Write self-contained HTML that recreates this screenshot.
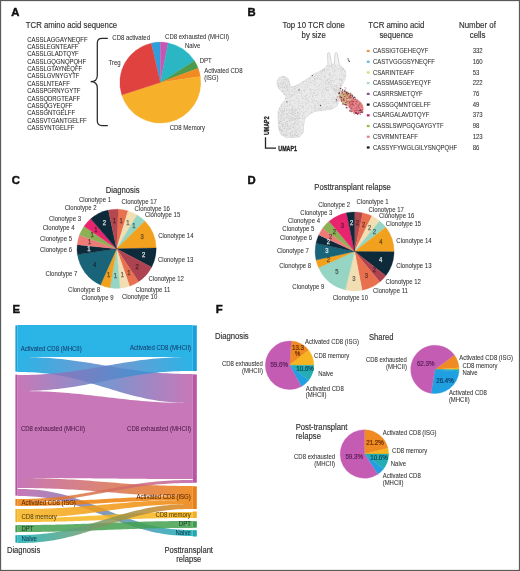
<!DOCTYPE html>
<html><head><meta charset="utf-8"><style>
html,body{margin:0;padding:0;background:#fff;}
body{width:520px;height:571px;overflow:hidden;}
svg{display:block;font-family:"Liberation Sans", sans-serif;}
svg{will-change:transform;}
</style></head><body>
<svg width="520" height="571" viewBox="0 0 520 571">
<rect width="520" height="571" fill="#fff"/>
<rect x="0.55" y="0.55" width="518.9" height="569.9" fill="none" stroke="#5a5a5a" stroke-width="1.15"/>
<text x="11.3" y="15.8" font-size="11.3" fill="#111" stroke="#111" stroke-width="0.45" font-weight="bold">A</text>
<text x="247.6" y="16.2" font-size="11.3" fill="#111" stroke="#111" stroke-width="0.45" font-weight="bold">B</text>
<text x="11.8" y="183.9" font-size="11.3" fill="#111" stroke="#111" stroke-width="0.45" font-weight="bold">C</text>
<text x="247.4" y="183.6" font-size="11.3" fill="#111" stroke="#111" stroke-width="0.45" font-weight="bold">D</text>
<text x="12.6" y="312.7" font-size="11.3" fill="#111" stroke="#111" stroke-width="0.45" font-weight="bold">E</text>
<text x="215.8" y="312.5" font-size="11.3" fill="#111" stroke="#111" stroke-width="0.45" font-weight="bold">F</text>
<text x="25.80" y="27.50" font-size="8.29" text-anchor="start" fill="#333" stroke="#333" stroke-width="0.16" textLength="91.32" lengthAdjust="spacingAndGlyphs" >TCR amino acid sequence</text>
<text x="27.20" y="41.60" font-size="6.37" text-anchor="start" fill="#2a2a2a" stroke="#2a2a2a" stroke-width="0.06" textLength="60.40" lengthAdjust="spacingAndGlyphs" >CASSLAGGAYNEQFF</text>
<text x="27.20" y="48.97" font-size="6.37" text-anchor="start" fill="#2a2a2a" stroke="#2a2a2a" stroke-width="0.06" textLength="51.25" lengthAdjust="spacingAndGlyphs" >CASSLEGNTEAFF</text>
<text x="27.20" y="56.34" font-size="6.37" text-anchor="start" fill="#2a2a2a" stroke="#2a2a2a" stroke-width="0.06" textLength="51.58" lengthAdjust="spacingAndGlyphs" >CASSLGLADTQYF</text>
<text x="27.20" y="63.71" font-size="6.37" text-anchor="start" fill="#2a2a2a" stroke="#2a2a2a" stroke-width="0.06" textLength="58.85" lengthAdjust="spacingAndGlyphs" >CASSLGQGNQPQHF</text>
<text x="27.20" y="71.08" font-size="6.37" text-anchor="start" fill="#2a2a2a" stroke="#2a2a2a" stroke-width="0.06" textLength="54.99" lengthAdjust="spacingAndGlyphs" >CASSLGTAYNEQFF</text>
<text x="27.20" y="78.45" font-size="6.37" text-anchor="start" fill="#2a2a2a" stroke="#2a2a2a" stroke-width="0.06" textLength="52.24" lengthAdjust="spacingAndGlyphs" >CASSLGVNYGYTF</text>
<text x="27.20" y="85.82" font-size="6.37" text-anchor="start" fill="#2a2a2a" stroke="#2a2a2a" stroke-width="0.06" textLength="42.65" lengthAdjust="spacingAndGlyphs" >CASSLNTEAFF</text>
<text x="27.20" y="93.19" font-size="6.37" text-anchor="start" fill="#2a2a2a" stroke="#2a2a2a" stroke-width="0.06" textLength="53.23" lengthAdjust="spacingAndGlyphs" >CASSPGRNYGYTF</text>
<text x="27.20" y="100.56" font-size="6.37" text-anchor="start" fill="#2a2a2a" stroke="#2a2a2a" stroke-width="0.06" textLength="52.89" lengthAdjust="spacingAndGlyphs" >CASSQDRGTEAFF</text>
<text x="27.20" y="107.93" font-size="6.37" text-anchor="start" fill="#2a2a2a" stroke="#2a2a2a" stroke-width="0.06" textLength="45.29" lengthAdjust="spacingAndGlyphs" >CASSQGYEQFF</text>
<text x="27.20" y="115.30" font-size="6.37" text-anchor="start" fill="#2a2a2a" stroke="#2a2a2a" stroke-width="0.06" textLength="47.94" lengthAdjust="spacingAndGlyphs" >CASSGNTGELFF</text>
<text x="27.20" y="122.67" font-size="6.37" text-anchor="start" fill="#2a2a2a" stroke="#2a2a2a" stroke-width="0.06" textLength="59.51" lengthAdjust="spacingAndGlyphs" >CASSVTGANTGELFF</text>
<text x="27.20" y="130.04" font-size="6.37" text-anchor="start" fill="#2a2a2a" stroke="#2a2a2a" stroke-width="0.06" textLength="47.28" lengthAdjust="spacingAndGlyphs" >CASSYNTGELFF</text>
<path d="M107.8,38.4 L102,38.4 Q97.3,38.4 97.3,43.2 L97.3,75.5 Q97.3,81.7 90.6,81.7 Q97.3,81.7 97.3,87.9 L97.3,120.8 Q97.3,125.6 102,125.6 L107.8,125.6" fill="none" stroke="#2a2a2a" stroke-width="1.25"/>
<path d="M160.30,82.60L151.19,43.14A40.5,40.5 0 0 1 160.30,42.10Z" fill="#2f9fdc" stroke="#2f9fdc" stroke-width="0.3"/>
<path d="M160.30,82.60L160.30,42.10A40.5,40.5 0 0 1 168.24,42.89Z" fill="#c456b4" stroke="#c456b4" stroke-width="0.3"/>
<path d="M160.30,82.60L168.24,42.89A40.5,40.5 0 0 1 194.46,60.84Z" fill="#2ab7c3" stroke="#2ab7c3" stroke-width="0.3"/>
<path d="M160.30,82.60L194.46,60.84A40.5,40.5 0 0 1 198.21,68.35Z" fill="#4f9b4c" stroke="#4f9b4c" stroke-width="0.3"/>
<path d="M160.30,82.60L198.21,68.35A40.5,40.5 0 0 1 200.33,76.47Z" fill="#f28a22" stroke="#f28a22" stroke-width="0.3"/>
<path d="M160.30,82.60L200.33,76.47A40.5,40.5 0 0 1 121.74,94.98Z" fill="#f7b02a" stroke="#f7b02a" stroke-width="0.3"/>
<path d="M160.30,82.60L121.74,94.98A40.5,40.5 0 0 1 151.19,43.14Z" fill="#e0433f" stroke="#e0433f" stroke-width="0.3"/>
<text x="112.30" y="39.60" font-size="6.42" text-anchor="start" fill="#333" stroke="#333" stroke-width="0.06" textLength="37.68" lengthAdjust="spacingAndGlyphs" >CD8 activated</text>
<text x="165.10" y="38.80" font-size="6.42" text-anchor="start" fill="#333" stroke="#333" stroke-width="0.06" textLength="64.02" lengthAdjust="spacingAndGlyphs" >CD8 exhausted (MHCII)</text>
<text x="184.90" y="48.00" font-size="6.42" text-anchor="start" fill="#333" stroke="#333" stroke-width="0.06" textLength="15.34" lengthAdjust="spacingAndGlyphs" >Naive</text>
<text x="199.70" y="63.00" font-size="6.42" text-anchor="start" fill="#333" stroke="#333" stroke-width="0.06" textLength="12.00" lengthAdjust="spacingAndGlyphs" >DPT</text>
<text x="204.20" y="72.60" font-size="6.42" text-anchor="start" fill="#333" stroke="#333" stroke-width="0.06" textLength="38.35" lengthAdjust="spacingAndGlyphs" >Activated CD8</text>
<text x="204.20" y="80.30" font-size="6.42" text-anchor="start" fill="#333" stroke="#333" stroke-width="0.06" textLength="14.33" lengthAdjust="spacingAndGlyphs" >(ISG)</text>
<text x="108.50" y="65.30" font-size="6.42" text-anchor="start" fill="#333" stroke="#333" stroke-width="0.06" textLength="12.11" lengthAdjust="spacingAndGlyphs" >Treg</text>
<text x="205.00" y="130.00" font-size="6.42" text-anchor="end" fill="#333" stroke="#333" stroke-width="0.06" textLength="35.34" lengthAdjust="spacingAndGlyphs" >CD8 Memory</text>
<text x="313.70" y="28.00" font-size="8.35" text-anchor="middle" fill="#333" stroke="#333" stroke-width="0.16" textLength="62.29" lengthAdjust="spacingAndGlyphs" >Top 10 TCR clone</text>
<text x="313.70" y="37.60" font-size="8.35" text-anchor="middle" fill="#333" stroke="#333" stroke-width="0.16" textLength="24.28" lengthAdjust="spacingAndGlyphs" >by size</text>
<text x="396.30" y="27.80" font-size="8.35" text-anchor="middle" fill="#333" stroke="#333" stroke-width="0.16" textLength="55.92" lengthAdjust="spacingAndGlyphs" >TCR amino acid</text>
<text x="396.30" y="37.70" font-size="8.35" text-anchor="middle" fill="#333" stroke="#333" stroke-width="0.16" textLength="33.83" lengthAdjust="spacingAndGlyphs" >sequence</text>
<text x="477.40" y="27.70" font-size="8.45" text-anchor="middle" fill="#333" stroke="#333" stroke-width="0.16" textLength="36.88" lengthAdjust="spacingAndGlyphs" >Number of</text>
<text x="477.60" y="37.60" font-size="8.45" text-anchor="middle" fill="#333" stroke="#333" stroke-width="0.16" textLength="15.80" lengthAdjust="spacingAndGlyphs" >cells</text>
<rect x="366.8" y="49.90" width="2.8" height="2.2" fill="#e8944a"/>
<text x="373.00" y="53.10" font-size="6.39" text-anchor="start" fill="#333" stroke="#333" stroke-width="0.06" textLength="55.40" lengthAdjust="spacingAndGlyphs" >CASSIGTGEHEQYF</text>
<text x="472.70" y="53.10" font-size="6.42" text-anchor="start" fill="#333" stroke="#333" stroke-width="0.06" textLength="10.01" lengthAdjust="spacingAndGlyphs" >332</text>
<rect x="366.8" y="60.62" width="2.8" height="2.2" fill="#5fb8e0"/>
<text x="373.00" y="63.82" font-size="6.39" text-anchor="start" fill="#333" stroke="#333" stroke-width="0.06" textLength="62.03" lengthAdjust="spacingAndGlyphs" >CASTVGGGSYNEQFF</text>
<text x="472.70" y="63.82" font-size="6.42" text-anchor="start" fill="#333" stroke="#333" stroke-width="0.06" textLength="10.01" lengthAdjust="spacingAndGlyphs" >160</text>
<rect x="366.8" y="71.34" width="2.8" height="2.2" fill="#d8d870"/>
<text x="373.00" y="74.54" font-size="6.39" text-anchor="start" fill="#333" stroke="#333" stroke-width="0.06" textLength="41.46" lengthAdjust="spacingAndGlyphs" >CSARINTEAFF</text>
<text x="472.70" y="74.54" font-size="6.42" text-anchor="start" fill="#333" stroke="#333" stroke-width="0.06" textLength="6.67" lengthAdjust="spacingAndGlyphs" >53</text>
<rect x="366.8" y="82.06" width="2.8" height="2.2" fill="#a8d8d0"/>
<text x="373.00" y="85.26" font-size="6.39" text-anchor="start" fill="#333" stroke="#333" stroke-width="0.06" textLength="58.06" lengthAdjust="spacingAndGlyphs" >CASSMASGEYEQYF</text>
<text x="472.70" y="85.26" font-size="6.42" text-anchor="start" fill="#333" stroke="#333" stroke-width="0.06" textLength="10.01" lengthAdjust="spacingAndGlyphs" >222</text>
<rect x="366.8" y="92.78" width="2.8" height="2.2" fill="#8050a0"/>
<text x="373.00" y="95.98" font-size="6.39" text-anchor="start" fill="#333" stroke="#333" stroke-width="0.06" textLength="49.75" lengthAdjust="spacingAndGlyphs" >CASRRSMETQYF</text>
<text x="472.70" y="95.98" font-size="6.42" text-anchor="start" fill="#333" stroke="#333" stroke-width="0.06" textLength="6.67" lengthAdjust="spacingAndGlyphs" >76</text>
<rect x="366.8" y="103.50" width="2.8" height="2.2" fill="#111111"/>
<text x="373.00" y="106.70" font-size="6.39" text-anchor="start" fill="#333" stroke="#333" stroke-width="0.06" textLength="57.72" lengthAdjust="spacingAndGlyphs" >CASSGQMNTGELFF</text>
<text x="472.70" y="106.70" font-size="6.42" text-anchor="start" fill="#333" stroke="#333" stroke-width="0.06" textLength="6.67" lengthAdjust="spacingAndGlyphs" >49</text>
<rect x="366.8" y="114.22" width="2.8" height="2.2" fill="#c02070"/>
<text x="373.00" y="117.42" font-size="6.39" text-anchor="start" fill="#333" stroke="#333" stroke-width="0.06" textLength="56.28" lengthAdjust="spacingAndGlyphs" >CSARGALAVDTQYF</text>
<text x="472.70" y="117.42" font-size="6.42" text-anchor="start" fill="#333" stroke="#333" stroke-width="0.06" textLength="10.01" lengthAdjust="spacingAndGlyphs" >373</text>
<rect x="366.8" y="124.94" width="2.8" height="2.2" fill="#90c040"/>
<text x="373.00" y="128.14" font-size="6.39" text-anchor="start" fill="#333" stroke="#333" stroke-width="0.06" textLength="70.55" lengthAdjust="spacingAndGlyphs" >CASSLSWPGQGAYGYTF</text>
<text x="472.70" y="128.14" font-size="6.42" text-anchor="start" fill="#333" stroke="#333" stroke-width="0.06" textLength="6.67" lengthAdjust="spacingAndGlyphs" >98</text>
<rect x="366.8" y="135.66" width="2.8" height="2.2" fill="#e08080"/>
<text x="373.00" y="138.86" font-size="6.39" text-anchor="start" fill="#333" stroke="#333" stroke-width="0.06" textLength="44.78" lengthAdjust="spacingAndGlyphs" >CSVRMNTEAFF</text>
<text x="472.70" y="138.86" font-size="6.42" text-anchor="start" fill="#333" stroke="#333" stroke-width="0.06" textLength="10.01" lengthAdjust="spacingAndGlyphs" >123</text>
<rect x="366.8" y="146.38" width="2.8" height="2.2" fill="#151515"/>
<text x="373.00" y="149.58" font-size="6.39" text-anchor="start" fill="#333" stroke="#333" stroke-width="0.06" textLength="84.15" lengthAdjust="spacingAndGlyphs" >CASSYFYWGLGILYSNQPQHF</text>
<text x="472.70" y="149.58" font-size="6.42" text-anchor="start" fill="#333" stroke="#333" stroke-width="0.06" textLength="6.67" lengthAdjust="spacingAndGlyphs" >86</text>
<path d="M277.3,80.5 L279.3,77.3 L283.7,76.2 L287.8,78.2 L289.3,82 L290.5,86.8 L295,86.2 L299.2,84 L304,81.2 L308,78.5 L313.6,74.2 L319.5,71.5 L324.5,68.5 L327.8,64.8 L331.5,64.2 L335,64.2 L338.8,64.6 L342.5,67.2 L345.2,70.5 L346,75 L344.5,80.5 L342.4,84.4 L340.6,88.5 L339.5,95.3 L338.8,101.5 L336.8,106.3 L331,109.2 L321.3,110.6 L314.5,111.5 L308.8,114.8 L304.8,119 L303.6,125 L303.3,132.5 L299.5,136.8 L292,137.6 L286,137.4 L281,134.5 L278.8,128.6 L278.1,119 L278.2,111 L281.5,104.2 L285.5,99.5 L286.3,95.8 L283.5,93.8 L279.5,89.5 L277.2,85Z" fill="#ebebeb" stroke="#e2e2e2" stroke-width="1" stroke-linejoin="round"/>
<path d="M328,65 L327.6,53.2 Q328.6,51.8 329.6,53 L331.6,64.5 M334.4,64.5 L335,53.4 Q336.2,52 337.2,53.4 L339.4,65" fill="#f3f3f3" stroke="#cfcfcf" stroke-width="0.9"/>
<g opacity="0.62"><circle cx="315.1" cy="82.8" r="0.42" fill="rgb(214,214,214)"/><circle cx="322.0" cy="101.7" r="0.42" fill="rgb(200,200,200)"/><circle cx="316.9" cy="110.3" r="0.42" fill="rgb(174,174,174)"/><circle cx="303.2" cy="98.7" r="0.42" fill="rgb(157,157,157)"/><circle cx="289.1" cy="118.8" r="0.42" fill="rgb(188,188,188)"/><circle cx="284.6" cy="87.4" r="0.42" fill="rgb(169,169,169)"/><circle cx="335.7" cy="80.6" r="0.42" fill="rgb(213,213,213)"/><circle cx="336.0" cy="75.8" r="0.42" fill="rgb(194,194,194)"/><circle cx="280.3" cy="117.8" r="0.42" fill="rgb(181,181,181)"/><circle cx="286.0" cy="88.5" r="0.42" fill="rgb(203,203,203)"/><circle cx="336.7" cy="66.9" r="0.42" fill="rgb(168,168,168)"/><circle cx="279.9" cy="129.3" r="0.42" fill="rgb(200,200,200)"/><circle cx="305.1" cy="85.3" r="0.42" fill="rgb(201,201,201)"/><circle cx="283.4" cy="82.6" r="0.42" fill="rgb(176,176,176)"/><circle cx="310.0" cy="93.1" r="0.42" fill="rgb(163,163,163)"/><circle cx="291.0" cy="133.8" r="0.42" fill="rgb(153,153,153)"/><circle cx="282.6" cy="124.6" r="0.42" fill="rgb(171,171,171)"/><circle cx="331.4" cy="68.0" r="0.42" fill="rgb(201,201,201)"/><circle cx="330.0" cy="70.7" r="0.42" fill="rgb(195,195,195)"/><circle cx="333.7" cy="92.1" r="0.42" fill="rgb(194,194,194)"/><circle cx="328.9" cy="65.8" r="0.42" fill="rgb(169,169,169)"/><circle cx="320.6" cy="102.8" r="0.42" fill="rgb(194,194,194)"/><circle cx="287.4" cy="98.7" r="0.42" fill="rgb(163,163,163)"/><circle cx="336.3" cy="69.4" r="0.42" fill="rgb(187,187,187)"/><circle cx="280.4" cy="115.4" r="0.42" fill="rgb(203,203,203)"/><circle cx="280.5" cy="110.4" r="0.42" fill="rgb(211,211,211)"/><circle cx="296.2" cy="118.2" r="0.42" fill="rgb(153,153,153)"/><circle cx="313.4" cy="111.3" r="0.42" fill="rgb(211,211,211)"/><circle cx="341.2" cy="68.6" r="0.42" fill="rgb(203,203,203)"/><circle cx="284.9" cy="89.5" r="0.42" fill="rgb(180,180,180)"/><circle cx="323.0" cy="82.9" r="0.42" fill="rgb(167,167,167)"/><circle cx="336.8" cy="65.0" r="0.42" fill="rgb(215,215,215)"/><circle cx="305.5" cy="87.7" r="0.42" fill="rgb(161,161,161)"/><circle cx="316.4" cy="89.3" r="0.42" fill="rgb(192,192,192)"/><circle cx="284.2" cy="130.9" r="0.42" fill="rgb(163,163,163)"/><circle cx="315.2" cy="95.8" r="0.42" fill="rgb(191,191,191)"/><circle cx="326.2" cy="88.0" r="0.42" fill="rgb(152,152,152)"/><circle cx="282.1" cy="125.5" r="0.42" fill="rgb(165,165,165)"/><circle cx="343.6" cy="74.3" r="0.42" fill="rgb(180,180,180)"/><circle cx="308.5" cy="109.5" r="0.42" fill="rgb(152,152,152)"/><circle cx="286.2" cy="137.1" r="0.42" fill="rgb(166,166,166)"/><circle cx="340.2" cy="88.5" r="0.42" fill="rgb(198,198,198)"/><circle cx="297.4" cy="91.0" r="0.42" fill="rgb(207,207,207)"/><circle cx="340.4" cy="70.0" r="0.42" fill="rgb(192,192,192)"/><circle cx="290.7" cy="94.9" r="0.42" fill="rgb(183,183,183)"/><circle cx="318.8" cy="85.3" r="0.42" fill="rgb(179,179,179)"/><circle cx="282.2" cy="134.3" r="0.42" fill="rgb(169,169,169)"/><circle cx="340.2" cy="84.9" r="0.42" fill="rgb(213,213,213)"/><circle cx="286.9" cy="114.0" r="0.42" fill="rgb(155,155,155)"/><circle cx="303.5" cy="90.3" r="0.42" fill="rgb(152,152,152)"/><circle cx="321.7" cy="110.2" r="0.42" fill="rgb(150,150,150)"/><circle cx="292.8" cy="107.5" r="0.42" fill="rgb(198,198,198)"/><circle cx="281.6" cy="130.2" r="0.42" fill="rgb(155,155,155)"/><circle cx="321.0" cy="106.9" r="0.42" fill="rgb(168,168,168)"/><circle cx="311.7" cy="112.7" r="0.42" fill="rgb(209,209,209)"/><circle cx="285.7" cy="122.4" r="0.42" fill="rgb(164,164,164)"/><circle cx="286.3" cy="80.9" r="0.42" fill="rgb(192,192,192)"/><circle cx="341.8" cy="76.2" r="0.42" fill="rgb(200,200,200)"/><circle cx="281.6" cy="131.5" r="0.42" fill="rgb(156,156,156)"/><circle cx="324.3" cy="106.2" r="0.42" fill="rgb(184,184,184)"/><circle cx="281.9" cy="132.2" r="0.42" fill="rgb(167,167,167)"/><circle cx="323.0" cy="75.9" r="0.42" fill="rgb(166,166,166)"/><circle cx="288.5" cy="87.1" r="0.42" fill="rgb(182,182,182)"/><circle cx="295.0" cy="108.1" r="0.42" fill="rgb(200,200,200)"/><circle cx="284.7" cy="107.0" r="0.42" fill="rgb(214,214,214)"/><circle cx="292.1" cy="129.8" r="0.42" fill="rgb(207,207,207)"/><circle cx="307.2" cy="98.7" r="0.42" fill="rgb(172,172,172)"/><circle cx="330.7" cy="86.9" r="0.42" fill="rgb(176,176,176)"/><circle cx="310.5" cy="102.1" r="0.42" fill="rgb(200,200,200)"/><circle cx="314.5" cy="91.7" r="0.42" fill="rgb(163,163,163)"/><circle cx="282.2" cy="118.6" r="0.42" fill="rgb(166,166,166)"/><circle cx="293.0" cy="131.0" r="0.42" fill="rgb(188,188,188)"/><circle cx="283.3" cy="77.1" r="0.42" fill="rgb(174,174,174)"/><circle cx="294.0" cy="134.6" r="0.42" fill="rgb(189,189,189)"/><circle cx="307.0" cy="83.2" r="0.42" fill="rgb(193,193,193)"/><circle cx="328.4" cy="82.5" r="0.42" fill="rgb(150,150,150)"/><circle cx="335.9" cy="71.1" r="0.42" fill="rgb(187,187,187)"/><circle cx="289.4" cy="90.1" r="0.42" fill="rgb(190,190,190)"/><circle cx="344.0" cy="79.6" r="0.42" fill="rgb(209,209,209)"/><circle cx="303.6" cy="83.5" r="0.42" fill="rgb(171,171,171)"/><circle cx="281.9" cy="87.6" r="0.42" fill="rgb(176,176,176)"/><circle cx="303.7" cy="117.9" r="0.42" fill="rgb(205,205,205)"/><circle cx="282.4" cy="112.4" r="0.42" fill="rgb(207,207,207)"/><circle cx="341.6" cy="80.5" r="0.42" fill="rgb(155,155,155)"/><circle cx="295.1" cy="113.3" r="0.42" fill="rgb(185,185,185)"/><circle cx="297.7" cy="113.8" r="0.42" fill="rgb(158,158,158)"/><circle cx="294.3" cy="88.4" r="0.42" fill="rgb(213,213,213)"/><circle cx="289.4" cy="120.8" r="0.42" fill="rgb(169,169,169)"/><circle cx="320.3" cy="79.5" r="0.42" fill="rgb(196,196,196)"/><circle cx="305.8" cy="107.5" r="0.42" fill="rgb(191,191,191)"/><circle cx="287.7" cy="88.1" r="0.42" fill="rgb(159,159,159)"/><circle cx="327.8" cy="89.9" r="0.42" fill="rgb(203,203,203)"/><circle cx="295.0" cy="89.2" r="0.42" fill="rgb(180,180,180)"/><circle cx="287.2" cy="127.9" r="0.42" fill="rgb(191,191,191)"/><circle cx="283.3" cy="91.4" r="0.42" fill="rgb(150,150,150)"/><circle cx="339.2" cy="90.1" r="0.42" fill="rgb(150,150,150)"/><circle cx="299.9" cy="110.0" r="0.42" fill="rgb(189,189,189)"/><circle cx="312.2" cy="93.1" r="0.42" fill="rgb(200,200,200)"/><circle cx="315.0" cy="107.8" r="0.42" fill="rgb(184,184,184)"/><circle cx="298.5" cy="133.9" r="0.42" fill="rgb(195,195,195)"/><circle cx="323.0" cy="85.0" r="0.42" fill="rgb(150,150,150)"/><circle cx="286.4" cy="121.2" r="0.42" fill="rgb(197,197,197)"/><circle cx="329.8" cy="65.9" r="0.42" fill="rgb(170,170,170)"/><circle cx="283.9" cy="93.7" r="0.42" fill="rgb(175,175,175)"/><circle cx="298.0" cy="123.8" r="0.42" fill="rgb(211,211,211)"/><circle cx="282.3" cy="113.0" r="0.42" fill="rgb(170,170,170)"/><circle cx="321.3" cy="104.5" r="0.42" fill="rgb(210,210,210)"/><circle cx="305.2" cy="96.1" r="0.42" fill="rgb(165,165,165)"/><circle cx="286.9" cy="135.5" r="0.42" fill="rgb(174,174,174)"/><circle cx="307.1" cy="108.3" r="0.42" fill="rgb(206,206,206)"/><circle cx="312.8" cy="108.2" r="0.42" fill="rgb(166,166,166)"/><circle cx="282.0" cy="114.8" r="0.42" fill="rgb(215,215,215)"/><circle cx="281.8" cy="116.4" r="0.42" fill="rgb(167,167,167)"/><circle cx="320.6" cy="72.9" r="0.42" fill="rgb(185,185,185)"/><circle cx="294.6" cy="134.9" r="0.42" fill="rgb(183,183,183)"/><circle cx="321.0" cy="71.7" r="0.42" fill="rgb(175,175,175)"/><circle cx="314.7" cy="106.4" r="0.42" fill="rgb(207,207,207)"/><circle cx="295.3" cy="137.2" r="0.42" fill="rgb(196,196,196)"/><circle cx="297.6" cy="95.9" r="0.42" fill="rgb(190,190,190)"/><circle cx="321.7" cy="87.3" r="0.42" fill="rgb(156,156,156)"/><circle cx="283.8" cy="82.1" r="0.42" fill="rgb(188,188,188)"/><circle cx="321.5" cy="92.3" r="0.42" fill="rgb(181,181,181)"/><circle cx="327.6" cy="90.2" r="0.42" fill="rgb(168,168,168)"/><circle cx="280.3" cy="118.8" r="0.42" fill="rgb(175,175,175)"/><circle cx="335.4" cy="66.2" r="0.42" fill="rgb(188,188,188)"/><circle cx="281.9" cy="108.0" r="0.42" fill="rgb(163,163,163)"/><circle cx="295.1" cy="107.0" r="0.42" fill="rgb(183,183,183)"/><circle cx="328.0" cy="74.1" r="0.42" fill="rgb(205,205,205)"/><circle cx="288.4" cy="129.7" r="0.42" fill="rgb(175,175,175)"/><circle cx="299.9" cy="127.6" r="0.42" fill="rgb(180,180,180)"/><circle cx="337.4" cy="97.7" r="0.42" fill="rgb(150,150,150)"/><circle cx="317.6" cy="77.8" r="0.42" fill="rgb(159,159,159)"/><circle cx="290.5" cy="134.0" r="0.42" fill="rgb(158,158,158)"/><circle cx="327.9" cy="84.4" r="0.42" fill="rgb(176,176,176)"/><circle cx="322.1" cy="76.0" r="0.42" fill="rgb(162,162,162)"/><circle cx="333.8" cy="107.2" r="0.42" fill="rgb(193,193,193)"/><circle cx="328.3" cy="83.0" r="0.42" fill="rgb(214,214,214)"/><circle cx="283.2" cy="91.8" r="0.42" fill="rgb(177,177,177)"/><circle cx="317.9" cy="76.0" r="0.42" fill="rgb(175,175,175)"/><circle cx="297.0" cy="116.3" r="0.42" fill="rgb(194,194,194)"/><circle cx="289.5" cy="94.0" r="0.42" fill="rgb(215,215,215)"/><circle cx="295.0" cy="133.1" r="0.42" fill="rgb(177,177,177)"/><circle cx="344.5" cy="71.1" r="0.42" fill="rgb(160,160,160)"/><circle cx="307.2" cy="98.4" r="0.42" fill="rgb(179,179,179)"/><circle cx="308.9" cy="99.2" r="0.42" fill="rgb(209,209,209)"/><circle cx="298.0" cy="112.2" r="0.42" fill="rgb(169,169,169)"/><circle cx="328.8" cy="103.5" r="0.42" fill="rgb(180,180,180)"/><circle cx="283.4" cy="134.7" r="0.42" fill="rgb(199,199,199)"/><circle cx="338.4" cy="89.0" r="0.42" fill="rgb(187,187,187)"/><circle cx="322.8" cy="90.5" r="0.42" fill="rgb(162,162,162)"/><circle cx="341.3" cy="72.1" r="0.42" fill="rgb(170,170,170)"/><circle cx="294.3" cy="87.9" r="0.42" fill="rgb(202,202,202)"/><circle cx="341.3" cy="79.5" r="0.42" fill="rgb(212,212,212)"/><circle cx="337.8" cy="90.7" r="0.42" fill="rgb(210,210,210)"/><circle cx="291.3" cy="110.5" r="0.42" fill="rgb(165,165,165)"/><circle cx="325.3" cy="101.5" r="0.42" fill="rgb(188,188,188)"/><circle cx="334.5" cy="85.1" r="0.42" fill="rgb(166,166,166)"/><circle cx="286.7" cy="108.9" r="0.42" fill="rgb(202,202,202)"/><circle cx="294.5" cy="88.1" r="0.42" fill="rgb(150,150,150)"/><circle cx="302.1" cy="107.9" r="0.42" fill="rgb(212,212,212)"/><circle cx="280.2" cy="123.0" r="0.42" fill="rgb(167,167,167)"/><circle cx="324.0" cy="69.2" r="0.42" fill="rgb(187,187,187)"/><circle cx="332.7" cy="81.1" r="0.42" fill="rgb(201,201,201)"/><circle cx="290.4" cy="111.3" r="0.42" fill="rgb(206,206,206)"/><circle cx="284.6" cy="87.5" r="0.42" fill="rgb(210,210,210)"/><circle cx="278.5" cy="113.5" r="0.42" fill="rgb(193,193,193)"/><circle cx="282.9" cy="108.3" r="0.42" fill="rgb(176,176,176)"/><circle cx="339.7" cy="81.0" r="0.42" fill="rgb(213,213,213)"/><circle cx="333.8" cy="79.8" r="0.42" fill="rgb(188,188,188)"/><circle cx="285.3" cy="135.6" r="0.42" fill="rgb(155,155,155)"/><circle cx="305.1" cy="99.2" r="0.42" fill="rgb(156,156,156)"/><circle cx="279.4" cy="122.5" r="0.42" fill="rgb(157,157,157)"/><circle cx="291.5" cy="109.0" r="0.42" fill="rgb(172,172,172)"/><circle cx="278.7" cy="118.4" r="0.42" fill="rgb(151,151,151)"/><circle cx="317.0" cy="73.4" r="0.42" fill="rgb(203,203,203)"/><circle cx="332.2" cy="98.7" r="0.42" fill="rgb(210,210,210)"/><circle cx="293.7" cy="114.8" r="0.42" fill="rgb(156,156,156)"/><circle cx="286.6" cy="117.1" r="0.42" fill="rgb(213,213,213)"/><circle cx="294.5" cy="134.9" r="0.42" fill="rgb(151,151,151)"/><circle cx="280.4" cy="127.8" r="0.42" fill="rgb(160,160,160)"/><circle cx="336.9" cy="104.0" r="0.42" fill="rgb(206,206,206)"/><circle cx="331.1" cy="80.0" r="0.42" fill="rgb(192,192,192)"/><circle cx="303.5" cy="118.1" r="0.42" fill="rgb(207,207,207)"/><circle cx="279.1" cy="123.5" r="0.42" fill="rgb(168,168,168)"/><circle cx="296.0" cy="125.1" r="0.42" fill="rgb(213,213,213)"/><circle cx="290.6" cy="116.3" r="0.42" fill="rgb(179,179,179)"/><circle cx="305.1" cy="96.3" r="0.42" fill="rgb(191,191,191)"/><circle cx="310.8" cy="102.3" r="0.42" fill="rgb(174,174,174)"/><circle cx="282.7" cy="121.1" r="0.42" fill="rgb(195,195,195)"/><circle cx="305.4" cy="96.0" r="0.42" fill="rgb(155,155,155)"/><circle cx="339.2" cy="83.3" r="0.42" fill="rgb(160,160,160)"/><circle cx="287.4" cy="103.0" r="0.42" fill="rgb(152,152,152)"/><circle cx="343.6" cy="75.3" r="0.42" fill="rgb(207,207,207)"/><circle cx="319.7" cy="85.6" r="0.42" fill="rgb(161,161,161)"/><circle cx="304.7" cy="90.0" r="0.42" fill="rgb(180,180,180)"/><circle cx="325.4" cy="77.0" r="0.42" fill="rgb(163,163,163)"/><circle cx="310.4" cy="83.3" r="0.42" fill="rgb(197,197,197)"/><circle cx="328.4" cy="68.0" r="0.42" fill="rgb(178,178,178)"/><circle cx="281.7" cy="104.8" r="0.42" fill="rgb(167,167,167)"/><circle cx="329.7" cy="66.7" r="0.42" fill="rgb(168,168,168)"/><circle cx="297.6" cy="121.0" r="0.42" fill="rgb(163,163,163)"/><circle cx="299.2" cy="129.6" r="0.42" fill="rgb(215,215,215)"/><circle cx="280.2" cy="128.9" r="0.42" fill="rgb(177,177,177)"/><circle cx="284.7" cy="116.7" r="0.42" fill="rgb(205,205,205)"/><circle cx="297.1" cy="129.0" r="0.42" fill="rgb(187,187,187)"/><circle cx="286.5" cy="106.7" r="0.42" fill="rgb(214,214,214)"/><circle cx="291.9" cy="100.7" r="0.42" fill="rgb(173,173,173)"/><circle cx="331.6" cy="66.3" r="0.42" fill="rgb(174,174,174)"/><circle cx="280.8" cy="114.7" r="0.42" fill="rgb(157,157,157)"/><circle cx="313.8" cy="81.2" r="0.42" fill="rgb(213,213,213)"/><circle cx="282.6" cy="86.6" r="0.42" fill="rgb(167,167,167)"/><circle cx="339.7" cy="74.2" r="0.42" fill="rgb(196,196,196)"/><circle cx="278.7" cy="112.1" r="0.42" fill="rgb(150,150,150)"/><circle cx="281.2" cy="82.0" r="0.42" fill="rgb(191,191,191)"/><circle cx="329.4" cy="89.8" r="0.42" fill="rgb(167,167,167)"/><circle cx="283.0" cy="111.8" r="0.42" fill="rgb(152,152,152)"/><circle cx="308.4" cy="81.5" r="0.42" fill="rgb(172,172,172)"/><circle cx="312.0" cy="94.6" r="0.42" fill="rgb(165,165,165)"/><circle cx="284.9" cy="127.9" r="0.42" fill="rgb(179,179,179)"/><circle cx="288.0" cy="122.9" r="0.42" fill="rgb(199,199,199)"/><circle cx="279.8" cy="82.6" r="0.42" fill="rgb(192,192,192)"/><circle cx="324.8" cy="70.6" r="0.42" fill="rgb(200,200,200)"/><circle cx="295.4" cy="110.0" r="0.42" fill="rgb(154,154,154)"/><circle cx="313.5" cy="74.4" r="0.42" fill="rgb(168,168,168)"/><circle cx="296.0" cy="115.0" r="0.42" fill="rgb(186,186,186)"/><circle cx="320.7" cy="91.8" r="0.42" fill="rgb(181,181,181)"/><circle cx="287.8" cy="133.8" r="0.42" fill="rgb(191,191,191)"/><circle cx="297.6" cy="118.2" r="0.42" fill="rgb(158,158,158)"/><circle cx="290.8" cy="104.1" r="0.42" fill="rgb(162,162,162)"/><circle cx="285.3" cy="126.8" r="0.42" fill="rgb(165,165,165)"/><circle cx="303.7" cy="90.3" r="0.42" fill="rgb(195,195,195)"/><circle cx="312.5" cy="89.6" r="0.42" fill="rgb(188,188,188)"/><circle cx="334.6" cy="88.9" r="0.42" fill="rgb(179,179,179)"/><circle cx="282.4" cy="131.1" r="0.42" fill="rgb(181,181,181)"/><circle cx="340.8" cy="87.6" r="0.42" fill="rgb(187,187,187)"/><circle cx="288.8" cy="117.9" r="0.42" fill="rgb(215,215,215)"/><circle cx="287.4" cy="117.1" r="0.42" fill="rgb(162,162,162)"/><circle cx="281.6" cy="133.5" r="0.42" fill="rgb(209,209,209)"/><circle cx="301.5" cy="90.1" r="0.42" fill="rgb(156,156,156)"/><circle cx="309.2" cy="87.4" r="0.42" fill="rgb(213,213,213)"/><circle cx="340.4" cy="85.5" r="0.42" fill="rgb(192,192,192)"/><circle cx="315.0" cy="84.5" r="0.42" fill="rgb(158,158,158)"/><circle cx="304.3" cy="91.6" r="0.42" fill="rgb(205,205,205)"/><circle cx="295.7" cy="123.6" r="0.42" fill="rgb(206,206,206)"/><circle cx="321.9" cy="101.5" r="0.42" fill="rgb(210,210,210)"/><circle cx="318.9" cy="83.0" r="0.42" fill="rgb(215,215,215)"/><circle cx="291.5" cy="126.9" r="0.42" fill="rgb(215,215,215)"/><circle cx="282.7" cy="125.1" r="0.42" fill="rgb(199,199,199)"/><circle cx="332.7" cy="71.1" r="0.42" fill="rgb(163,163,163)"/><circle cx="281.0" cy="130.5" r="0.42" fill="rgb(188,188,188)"/><circle cx="290.1" cy="113.5" r="0.42" fill="rgb(186,186,186)"/><circle cx="285.2" cy="113.4" r="0.42" fill="rgb(201,201,201)"/><circle cx="283.1" cy="76.4" r="0.42" fill="rgb(178,178,178)"/><circle cx="298.7" cy="106.5" r="0.42" fill="rgb(179,179,179)"/><circle cx="284.1" cy="119.9" r="0.42" fill="rgb(194,194,194)"/><circle cx="336.5" cy="75.5" r="0.42" fill="rgb(204,204,204)"/><circle cx="291.0" cy="109.6" r="0.42" fill="rgb(166,166,166)"/><circle cx="287.9" cy="118.9" r="0.42" fill="rgb(183,183,183)"/><circle cx="302.1" cy="86.8" r="0.42" fill="rgb(189,189,189)"/><circle cx="286.0" cy="110.7" r="0.42" fill="rgb(211,211,211)"/><circle cx="288.4" cy="109.0" r="0.42" fill="rgb(209,209,209)"/><circle cx="337.3" cy="86.3" r="0.42" fill="rgb(187,187,187)"/><circle cx="279.2" cy="128.9" r="0.42" fill="rgb(164,164,164)"/><circle cx="327.2" cy="90.0" r="0.42" fill="rgb(191,191,191)"/><circle cx="308.5" cy="100.5" r="0.42" fill="rgb(159,159,159)"/><circle cx="327.1" cy="107.8" r="0.42" fill="rgb(153,153,153)"/><circle cx="277.8" cy="85.4" r="0.42" fill="rgb(197,197,197)"/><circle cx="330.2" cy="79.4" r="0.42" fill="rgb(195,195,195)"/><circle cx="297.9" cy="101.6" r="0.42" fill="rgb(179,179,179)"/><circle cx="287.9" cy="89.6" r="0.42" fill="rgb(161,161,161)"/><circle cx="328.9" cy="84.0" r="0.42" fill="rgb(194,194,194)"/><circle cx="305.3" cy="104.0" r="0.42" fill="rgb(157,157,157)"/><circle cx="317.2" cy="87.6" r="0.42" fill="rgb(167,167,167)"/><circle cx="289.8" cy="110.0" r="0.42" fill="rgb(160,160,160)"/><circle cx="293.5" cy="89.4" r="0.42" fill="rgb(179,179,179)"/><circle cx="289.2" cy="128.4" r="0.42" fill="rgb(164,164,164)"/><circle cx="292.2" cy="123.8" r="0.42" fill="rgb(174,174,174)"/><circle cx="311.7" cy="99.2" r="0.42" fill="rgb(164,164,164)"/><circle cx="285.8" cy="94.8" r="0.42" fill="rgb(164,164,164)"/><circle cx="290.0" cy="92.3" r="0.42" fill="rgb(197,197,197)"/><circle cx="284.2" cy="131.5" r="0.42" fill="rgb(182,182,182)"/><circle cx="301.9" cy="111.4" r="0.42" fill="rgb(206,206,206)"/><circle cx="284.1" cy="120.7" r="0.42" fill="rgb(187,187,187)"/><circle cx="337.0" cy="102.2" r="0.42" fill="rgb(184,184,184)"/><circle cx="289.3" cy="122.2" r="0.42" fill="rgb(200,200,200)"/><circle cx="326.6" cy="90.0" r="0.42" fill="rgb(159,159,159)"/><circle cx="302.3" cy="97.0" r="0.42" fill="rgb(166,166,166)"/><circle cx="288.4" cy="82.4" r="0.42" fill="rgb(209,209,209)"/><circle cx="304.3" cy="81.8" r="0.42" fill="rgb(211,211,211)"/><circle cx="325.0" cy="74.7" r="0.42" fill="rgb(214,214,214)"/><circle cx="317.9" cy="101.8" r="0.42" fill="rgb(154,154,154)"/><circle cx="307.1" cy="100.7" r="0.42" fill="rgb(186,186,186)"/><circle cx="302.5" cy="125.2" r="0.42" fill="rgb(201,201,201)"/><circle cx="286.5" cy="113.6" r="0.42" fill="rgb(193,193,193)"/><circle cx="331.4" cy="105.5" r="0.42" fill="rgb(152,152,152)"/><circle cx="330.7" cy="107.5" r="0.42" fill="rgb(193,193,193)"/><circle cx="288.7" cy="126.1" r="0.42" fill="rgb(161,161,161)"/><circle cx="321.7" cy="80.1" r="0.42" fill="rgb(201,201,201)"/><circle cx="294.8" cy="91.3" r="0.42" fill="rgb(190,190,190)"/><circle cx="328.9" cy="79.6" r="0.42" fill="rgb(169,169,169)"/><circle cx="302.1" cy="82.5" r="0.42" fill="rgb(169,169,169)"/><circle cx="324.0" cy="103.3" r="0.42" fill="rgb(183,183,183)"/><circle cx="335.4" cy="92.5" r="0.42" fill="rgb(189,189,189)"/><circle cx="287.0" cy="105.7" r="0.42" fill="rgb(161,161,161)"/><circle cx="291.0" cy="118.6" r="0.42" fill="rgb(196,196,196)"/><circle cx="332.9" cy="97.0" r="0.42" fill="rgb(181,181,181)"/><circle cx="291.6" cy="130.4" r="0.42" fill="rgb(199,199,199)"/><circle cx="283.9" cy="114.8" r="0.42" fill="rgb(201,201,201)"/><circle cx="325.2" cy="81.5" r="0.42" fill="rgb(198,198,198)"/><circle cx="295.1" cy="88.7" r="0.42" fill="rgb(176,176,176)"/><circle cx="299.8" cy="88.0" r="0.42" fill="rgb(213,213,213)"/><circle cx="291.8" cy="100.5" r="0.42" fill="rgb(184,184,184)"/><circle cx="332.5" cy="89.2" r="0.42" fill="rgb(167,167,167)"/><circle cx="288.3" cy="110.4" r="0.42" fill="rgb(193,193,193)"/><circle cx="322.9" cy="108.9" r="0.42" fill="rgb(192,192,192)"/><circle cx="293.1" cy="119.9" r="0.42" fill="rgb(154,154,154)"/><circle cx="279.5" cy="128.8" r="0.42" fill="rgb(164,164,164)"/><circle cx="284.8" cy="93.4" r="0.42" fill="rgb(204,204,204)"/><circle cx="295.6" cy="135.1" r="0.42" fill="rgb(156,156,156)"/><circle cx="305.8" cy="99.4" r="0.42" fill="rgb(151,151,151)"/><circle cx="330.4" cy="74.4" r="0.42" fill="rgb(203,203,203)"/><circle cx="322.4" cy="71.8" r="0.42" fill="rgb(182,182,182)"/><circle cx="328.3" cy="86.3" r="0.42" fill="rgb(206,206,206)"/><circle cx="303.7" cy="113.0" r="0.42" fill="rgb(184,184,184)"/><circle cx="320.7" cy="109.9" r="0.42" fill="rgb(178,178,178)"/><circle cx="295.1" cy="124.2" r="0.42" fill="rgb(194,194,194)"/><circle cx="314.1" cy="92.5" r="0.42" fill="rgb(168,168,168)"/><circle cx="280.8" cy="116.9" r="0.42" fill="rgb(176,176,176)"/><circle cx="326.7" cy="90.1" r="0.42" fill="rgb(172,172,172)"/><circle cx="325.7" cy="82.9" r="0.42" fill="rgb(180,180,180)"/><circle cx="294.5" cy="99.4" r="0.42" fill="rgb(183,183,183)"/><circle cx="328.4" cy="74.9" r="0.42" fill="rgb(180,180,180)"/><circle cx="285.4" cy="134.4" r="0.42" fill="rgb(197,197,197)"/><circle cx="307.5" cy="103.8" r="0.42" fill="rgb(180,180,180)"/><circle cx="290.0" cy="135.5" r="0.42" fill="rgb(197,197,197)"/><circle cx="308.5" cy="85.2" r="0.42" fill="rgb(153,153,153)"/><circle cx="304.3" cy="91.0" r="0.42" fill="rgb(159,159,159)"/><circle cx="321.7" cy="78.9" r="0.42" fill="rgb(150,150,150)"/><circle cx="282.3" cy="84.4" r="0.42" fill="rgb(188,188,188)"/><circle cx="316.6" cy="95.5" r="0.42" fill="rgb(156,156,156)"/><circle cx="286.3" cy="132.0" r="0.42" fill="rgb(208,208,208)"/><circle cx="279.7" cy="78.3" r="0.42" fill="rgb(202,202,202)"/><circle cx="291.3" cy="135.7" r="0.42" fill="rgb(201,201,201)"/><circle cx="307.7" cy="106.6" r="0.42" fill="rgb(159,159,159)"/><circle cx="335.4" cy="94.3" r="0.42" fill="rgb(171,171,171)"/><circle cx="343.0" cy="69.0" r="0.42" fill="rgb(162,162,162)"/><circle cx="287.7" cy="89.8" r="0.42" fill="rgb(190,190,190)"/><circle cx="292.8" cy="135.8" r="0.42" fill="rgb(169,169,169)"/><circle cx="322.8" cy="70.4" r="0.42" fill="rgb(161,161,161)"/><circle cx="301.7" cy="108.2" r="0.42" fill="rgb(159,159,159)"/><circle cx="292.6" cy="131.4" r="0.42" fill="rgb(162,162,162)"/><circle cx="279.7" cy="80.0" r="0.42" fill="rgb(181,181,181)"/><circle cx="284.0" cy="123.4" r="0.42" fill="rgb(208,208,208)"/><circle cx="333.5" cy="102.8" r="0.42" fill="rgb(154,154,154)"/><circle cx="306.1" cy="111.6" r="0.42" fill="rgb(195,195,195)"/><circle cx="281.6" cy="114.3" r="0.42" fill="rgb(196,196,196)"/><circle cx="288.4" cy="132.9" r="0.42" fill="rgb(211,211,211)"/><circle cx="315.5" cy="79.2" r="0.42" fill="rgb(155,155,155)"/><circle cx="313.0" cy="82.9" r="0.42" fill="rgb(201,201,201)"/><circle cx="279.9" cy="119.9" r="0.42" fill="rgb(176,176,176)"/><circle cx="278.3" cy="85.2" r="0.42" fill="rgb(187,187,187)"/><circle cx="324.5" cy="69.9" r="0.42" fill="rgb(215,215,215)"/><circle cx="301.0" cy="121.5" r="0.42" fill="rgb(173,173,173)"/><circle cx="306.1" cy="86.4" r="0.42" fill="rgb(181,181,181)"/><circle cx="286.8" cy="95.5" r="0.42" fill="rgb(194,194,194)"/><circle cx="314.4" cy="79.7" r="0.42" fill="rgb(158,158,158)"/><circle cx="328.4" cy="81.4" r="0.42" fill="rgb(213,213,213)"/><circle cx="285.9" cy="123.1" r="0.42" fill="rgb(156,156,156)"/><circle cx="334.6" cy="102.4" r="0.42" fill="rgb(215,215,215)"/><circle cx="297.8" cy="134.6" r="0.42" fill="rgb(164,164,164)"/><circle cx="281.0" cy="119.1" r="0.42" fill="rgb(179,179,179)"/><circle cx="279.7" cy="108.7" r="0.42" fill="rgb(193,193,193)"/><circle cx="336.3" cy="86.3" r="0.42" fill="rgb(193,193,193)"/><circle cx="286.6" cy="98.5" r="0.42" fill="rgb(200,200,200)"/><circle cx="295.8" cy="112.0" r="0.42" fill="rgb(180,180,180)"/><circle cx="284.8" cy="110.4" r="0.42" fill="rgb(173,173,173)"/><circle cx="299.3" cy="127.2" r="0.42" fill="rgb(174,174,174)"/><circle cx="331.0" cy="109.0" r="0.42" fill="rgb(182,182,182)"/><circle cx="280.2" cy="123.6" r="0.42" fill="rgb(198,198,198)"/><circle cx="279.4" cy="85.1" r="0.42" fill="rgb(185,185,185)"/><circle cx="302.3" cy="129.5" r="0.42" fill="rgb(213,213,213)"/><circle cx="287.8" cy="115.2" r="0.42" fill="rgb(189,189,189)"/><circle cx="302.3" cy="111.3" r="0.42" fill="rgb(210,210,210)"/><circle cx="332.8" cy="78.4" r="0.42" fill="rgb(210,210,210)"/><circle cx="304.6" cy="113.4" r="0.42" fill="rgb(186,186,186)"/><circle cx="298.3" cy="103.4" r="0.42" fill="rgb(181,181,181)"/><circle cx="288.9" cy="113.9" r="0.42" fill="rgb(165,165,165)"/><circle cx="330.2" cy="80.7" r="0.42" fill="rgb(193,193,193)"/><circle cx="285.8" cy="80.5" r="0.42" fill="rgb(202,202,202)"/><circle cx="338.0" cy="71.8" r="0.42" fill="rgb(186,186,186)"/><circle cx="320.7" cy="74.9" r="0.42" fill="rgb(215,215,215)"/><circle cx="281.3" cy="124.0" r="0.42" fill="rgb(150,150,150)"/><circle cx="319.1" cy="102.8" r="0.42" fill="rgb(209,209,209)"/><circle cx="321.9" cy="80.6" r="0.42" fill="rgb(179,179,179)"/><circle cx="291.9" cy="120.0" r="0.42" fill="rgb(153,153,153)"/><circle cx="335.2" cy="74.3" r="0.42" fill="rgb(185,185,185)"/><circle cx="328.9" cy="101.9" r="0.42" fill="rgb(215,215,215)"/><circle cx="280.0" cy="83.3" r="0.42" fill="rgb(182,182,182)"/><circle cx="285.8" cy="90.5" r="0.42" fill="rgb(208,208,208)"/><circle cx="289.9" cy="104.6" r="0.42" fill="rgb(171,171,171)"/><circle cx="329.7" cy="95.9" r="0.42" fill="rgb(175,175,175)"/><circle cx="317.3" cy="78.5" r="0.42" fill="rgb(163,163,163)"/><circle cx="317.1" cy="95.2" r="0.42" fill="rgb(182,182,182)"/><circle cx="284.1" cy="114.3" r="0.42" fill="rgb(153,153,153)"/><circle cx="333.4" cy="91.3" r="0.42" fill="rgb(159,159,159)"/><circle cx="338.7" cy="80.4" r="0.42" fill="rgb(209,209,209)"/><circle cx="311.4" cy="106.6" r="0.42" fill="rgb(181,181,181)"/><circle cx="318.2" cy="87.0" r="0.42" fill="rgb(209,209,209)"/><circle cx="283.6" cy="135.7" r="0.42" fill="rgb(173,173,173)"/><circle cx="324.3" cy="104.5" r="0.42" fill="rgb(150,150,150)"/><circle cx="291.2" cy="112.6" r="0.42" fill="rgb(204,204,204)"/><circle cx="293.4" cy="127.7" r="0.42" fill="rgb(161,161,161)"/><circle cx="289.1" cy="133.0" r="0.42" fill="rgb(167,167,167)"/><circle cx="282.9" cy="89.5" r="0.42" fill="rgb(210,210,210)"/><circle cx="292.8" cy="128.1" r="0.42" fill="rgb(192,192,192)"/><circle cx="278.6" cy="125.1" r="0.42" fill="rgb(193,193,193)"/><circle cx="297.0" cy="129.9" r="0.42" fill="rgb(183,183,183)"/><circle cx="345.2" cy="75.7" r="0.42" fill="rgb(193,193,193)"/><circle cx="326.5" cy="69.2" r="0.42" fill="rgb(168,168,168)"/><circle cx="284.2" cy="94.0" r="0.42" fill="rgb(185,185,185)"/><circle cx="341.7" cy="73.2" r="0.42" fill="rgb(172,172,172)"/><circle cx="308.5" cy="114.4" r="0.42" fill="rgb(208,208,208)"/><circle cx="301.0" cy="123.4" r="0.42" fill="rgb(178,178,178)"/><circle cx="301.9" cy="98.2" r="0.42" fill="rgb(197,197,197)"/><circle cx="333.5" cy="72.9" r="0.42" fill="rgb(164,164,164)"/><circle cx="288.1" cy="117.2" r="0.42" fill="rgb(153,153,153)"/><circle cx="302.7" cy="106.8" r="0.42" fill="rgb(150,150,150)"/><circle cx="279.7" cy="108.7" r="0.42" fill="rgb(180,180,180)"/><circle cx="296.6" cy="92.1" r="0.42" fill="rgb(164,164,164)"/><circle cx="309.6" cy="112.9" r="0.42" fill="rgb(165,165,165)"/><circle cx="295.4" cy="89.6" r="0.42" fill="rgb(193,193,193)"/><circle cx="292.2" cy="115.7" r="0.42" fill="rgb(198,198,198)"/><circle cx="284.0" cy="133.1" r="0.42" fill="rgb(180,180,180)"/><circle cx="314.1" cy="95.4" r="0.42" fill="rgb(162,162,162)"/><circle cx="309.1" cy="78.7" r="0.42" fill="rgb(196,196,196)"/><circle cx="281.0" cy="112.2" r="0.42" fill="rgb(182,182,182)"/><circle cx="323.7" cy="95.8" r="0.42" fill="rgb(210,210,210)"/><circle cx="296.8" cy="135.9" r="0.42" fill="rgb(188,188,188)"/><circle cx="305.3" cy="110.1" r="0.42" fill="rgb(211,211,211)"/><circle cx="291.8" cy="123.6" r="0.42" fill="rgb(208,208,208)"/><circle cx="295.8" cy="135.8" r="0.42" fill="rgb(154,154,154)"/><circle cx="277.7" cy="83.5" r="0.42" fill="rgb(150,150,150)"/><circle cx="287.3" cy="121.6" r="0.42" fill="rgb(210,210,210)"/><circle cx="284.8" cy="134.5" r="0.42" fill="rgb(167,167,167)"/><circle cx="299.4" cy="116.5" r="0.42" fill="rgb(204,204,204)"/><circle cx="288.2" cy="101.9" r="0.42" fill="rgb(202,202,202)"/><circle cx="294.5" cy="100.6" r="0.42" fill="rgb(169,169,169)"/><circle cx="297.1" cy="135.1" r="0.42" fill="rgb(203,203,203)"/><circle cx="281.4" cy="83.8" r="0.42" fill="rgb(215,215,215)"/><circle cx="318.6" cy="89.8" r="0.42" fill="rgb(197,197,197)"/><circle cx="289.3" cy="111.2" r="0.42" fill="rgb(180,180,180)"/><circle cx="294.8" cy="122.5" r="0.42" fill="rgb(157,157,157)"/><circle cx="293.0" cy="115.0" r="0.42" fill="rgb(213,213,213)"/><circle cx="285.9" cy="86.3" r="0.42" fill="rgb(159,159,159)"/><circle cx="310.3" cy="90.5" r="0.42" fill="rgb(195,195,195)"/><circle cx="301.2" cy="117.0" r="0.42" fill="rgb(211,211,211)"/><circle cx="333.0" cy="85.3" r="0.42" fill="rgb(187,187,187)"/><circle cx="331.9" cy="77.2" r="0.42" fill="rgb(158,158,158)"/><circle cx="286.8" cy="80.2" r="0.42" fill="rgb(190,190,190)"/><circle cx="297.3" cy="116.0" r="0.42" fill="rgb(192,192,192)"/><circle cx="295.2" cy="119.9" r="0.42" fill="rgb(193,193,193)"/><circle cx="337.2" cy="87.8" r="0.42" fill="rgb(152,152,152)"/><circle cx="292.7" cy="120.4" r="0.42" fill="rgb(162,162,162)"/><circle cx="334.0" cy="90.3" r="0.42" fill="rgb(179,179,179)"/><circle cx="310.4" cy="88.9" r="0.42" fill="rgb(177,177,177)"/><circle cx="283.9" cy="106.2" r="0.42" fill="rgb(183,183,183)"/><circle cx="312.6" cy="96.4" r="0.42" fill="rgb(157,157,157)"/><circle cx="278.3" cy="114.0" r="0.42" fill="rgb(187,187,187)"/><circle cx="291.4" cy="113.5" r="0.42" fill="rgb(174,174,174)"/><circle cx="341.8" cy="68.8" r="0.42" fill="rgb(183,183,183)"/><circle cx="334.8" cy="85.5" r="0.42" fill="rgb(189,189,189)"/><circle cx="304.3" cy="93.1" r="0.42" fill="rgb(215,215,215)"/><circle cx="283.7" cy="90.6" r="0.42" fill="rgb(185,185,185)"/><circle cx="285.7" cy="125.7" r="0.42" fill="rgb(166,166,166)"/><circle cx="280.6" cy="110.5" r="0.42" fill="rgb(158,158,158)"/><circle cx="300.9" cy="96.2" r="0.42" fill="rgb(162,162,162)"/><circle cx="299.1" cy="122.2" r="0.42" fill="rgb(202,202,202)"/><circle cx="331.8" cy="88.0" r="0.42" fill="rgb(165,165,165)"/><circle cx="328.6" cy="84.6" r="0.42" fill="rgb(173,173,173)"/><circle cx="320.1" cy="76.1" r="0.42" fill="rgb(175,175,175)"/><circle cx="290.1" cy="134.4" r="0.42" fill="rgb(215,215,215)"/><circle cx="286.8" cy="125.3" r="0.42" fill="rgb(172,172,172)"/><circle cx="325.8" cy="108.4" r="0.42" fill="rgb(150,150,150)"/><circle cx="303.3" cy="81.7" r="0.42" fill="rgb(164,164,164)"/><circle cx="279.8" cy="128.4" r="0.42" fill="rgb(169,169,169)"/><circle cx="303.8" cy="124.1" r="0.42" fill="rgb(193,193,193)"/><circle cx="299.3" cy="118.4" r="0.42" fill="rgb(156,156,156)"/><circle cx="284.6" cy="128.1" r="0.42" fill="rgb(153,153,153)"/><circle cx="280.9" cy="115.5" r="0.42" fill="rgb(209,209,209)"/><circle cx="322.7" cy="78.1" r="0.42" fill="rgb(198,198,198)"/><circle cx="313.9" cy="93.1" r="0.42" fill="rgb(179,179,179)"/><circle cx="333.6" cy="82.0" r="0.42" fill="rgb(157,157,157)"/><circle cx="292.0" cy="127.8" r="0.42" fill="rgb(205,205,205)"/><circle cx="287.5" cy="106.4" r="0.42" fill="rgb(203,203,203)"/><circle cx="300.0" cy="114.7" r="0.42" fill="rgb(214,214,214)"/><circle cx="291.7" cy="91.2" r="0.42" fill="rgb(177,177,177)"/><circle cx="306.9" cy="103.4" r="0.42" fill="rgb(185,185,185)"/><circle cx="333.1" cy="97.9" r="0.42" fill="rgb(172,172,172)"/><circle cx="309.8" cy="102.7" r="0.42" fill="rgb(204,204,204)"/><circle cx="286.4" cy="91.0" r="0.42" fill="rgb(193,193,193)"/><circle cx="292.6" cy="126.6" r="0.42" fill="rgb(205,205,205)"/><circle cx="305.4" cy="81.8" r="0.42" fill="rgb(195,195,195)"/><circle cx="321.7" cy="110.0" r="0.42" fill="rgb(191,191,191)"/><circle cx="319.1" cy="109.9" r="0.42" fill="rgb(170,170,170)"/><circle cx="316.1" cy="86.0" r="0.42" fill="rgb(164,164,164)"/><circle cx="285.9" cy="129.7" r="0.42" fill="rgb(191,191,191)"/><circle cx="334.9" cy="89.4" r="0.42" fill="rgb(152,152,152)"/><circle cx="322.7" cy="92.5" r="0.42" fill="rgb(199,199,199)"/><circle cx="280.9" cy="121.5" r="0.42" fill="rgb(151,151,151)"/><circle cx="280.3" cy="121.1" r="0.42" fill="rgb(179,179,179)"/><circle cx="292.0" cy="89.0" r="0.42" fill="rgb(163,163,163)"/><circle cx="290.1" cy="116.1" r="0.42" fill="rgb(199,199,199)"/><circle cx="299.9" cy="111.4" r="0.42" fill="rgb(209,209,209)"/><circle cx="307.7" cy="85.0" r="0.42" fill="rgb(179,179,179)"/><circle cx="288.1" cy="128.7" r="0.42" fill="rgb(157,157,157)"/><circle cx="324.2" cy="95.5" r="0.42" fill="rgb(156,156,156)"/><circle cx="304.0" cy="111.1" r="0.42" fill="rgb(215,215,215)"/><circle cx="302.4" cy="112.4" r="0.42" fill="rgb(198,198,198)"/><circle cx="320.9" cy="78.5" r="0.42" fill="rgb(184,184,184)"/><circle cx="324.5" cy="104.5" r="0.42" fill="rgb(191,191,191)"/><circle cx="299.2" cy="116.9" r="0.42" fill="rgb(193,193,193)"/><circle cx="287.6" cy="125.6" r="0.42" fill="rgb(185,185,185)"/><circle cx="279.4" cy="88.2" r="0.42" fill="rgb(203,203,203)"/><circle cx="282.4" cy="118.6" r="0.42" fill="rgb(185,185,185)"/><circle cx="308.8" cy="83.0" r="0.42" fill="rgb(188,188,188)"/><circle cx="291.7" cy="107.9" r="0.42" fill="rgb(197,197,197)"/><circle cx="326.6" cy="107.3" r="0.42" fill="rgb(190,190,190)"/><circle cx="322.5" cy="83.8" r="0.42" fill="rgb(214,214,214)"/><circle cx="282.3" cy="125.1" r="0.42" fill="rgb(154,154,154)"/><circle cx="291.5" cy="87.2" r="0.42" fill="rgb(190,190,190)"/><circle cx="287.7" cy="110.5" r="0.42" fill="rgb(201,201,201)"/><circle cx="332.2" cy="78.7" r="0.42" fill="rgb(186,186,186)"/><circle cx="290.4" cy="134.4" r="0.42" fill="rgb(172,172,172)"/><circle cx="302.3" cy="103.6" r="0.42" fill="rgb(181,181,181)"/><circle cx="327.8" cy="102.0" r="0.42" fill="rgb(176,176,176)"/><circle cx="279.6" cy="88.1" r="0.42" fill="rgb(190,190,190)"/><circle cx="342.1" cy="70.5" r="0.42" fill="rgb(165,165,165)"/><circle cx="295.5" cy="127.6" r="0.42" fill="rgb(191,191,191)"/><circle cx="280.0" cy="88.2" r="0.42" fill="rgb(199,199,199)"/><circle cx="287.8" cy="114.2" r="0.42" fill="rgb(195,195,195)"/><circle cx="298.6" cy="100.3" r="0.42" fill="rgb(213,213,213)"/><circle cx="306.1" cy="98.3" r="0.42" fill="rgb(157,157,157)"/><circle cx="336.9" cy="102.2" r="0.42" fill="rgb(210,210,210)"/><circle cx="282.0" cy="79.9" r="0.42" fill="rgb(160,160,160)"/><circle cx="287.4" cy="105.4" r="0.42" fill="rgb(214,214,214)"/><circle cx="290.0" cy="86.2" r="0.42" fill="rgb(176,176,176)"/><circle cx="307.6" cy="108.5" r="0.42" fill="rgb(209,209,209)"/><circle cx="282.4" cy="110.8" r="0.42" fill="rgb(192,192,192)"/><circle cx="294.1" cy="108.5" r="0.42" fill="rgb(154,154,154)"/><circle cx="305.3" cy="110.9" r="0.42" fill="rgb(169,169,169)"/><circle cx="307.9" cy="108.4" r="0.42" fill="rgb(173,173,173)"/><circle cx="279.3" cy="113.2" r="0.42" fill="rgb(164,164,164)"/><circle cx="334.5" cy="71.9" r="0.42" fill="rgb(184,184,184)"/><circle cx="301.4" cy="111.5" r="0.42" fill="rgb(185,185,185)"/><circle cx="287.8" cy="89.1" r="0.42" fill="rgb(166,166,166)"/><circle cx="282.7" cy="114.2" r="0.42" fill="rgb(169,169,169)"/><circle cx="324.1" cy="73.7" r="0.42" fill="rgb(198,198,198)"/><circle cx="287.2" cy="127.0" r="0.42" fill="rgb(189,189,189)"/><circle cx="290.3" cy="96.1" r="0.42" fill="rgb(193,193,193)"/><circle cx="285.2" cy="81.9" r="0.42" fill="rgb(178,178,178)"/><circle cx="321.2" cy="108.4" r="0.42" fill="rgb(152,152,152)"/><circle cx="306.6" cy="108.8" r="0.42" fill="rgb(187,187,187)"/><circle cx="296.1" cy="118.0" r="0.42" fill="rgb(197,197,197)"/><circle cx="291.5" cy="90.3" r="0.42" fill="rgb(189,189,189)"/><circle cx="329.7" cy="73.3" r="0.42" fill="rgb(152,152,152)"/><circle cx="334.7" cy="70.9" r="0.42" fill="rgb(163,163,163)"/><circle cx="290.4" cy="129.0" r="0.42" fill="rgb(166,166,166)"/><circle cx="339.3" cy="89.2" r="0.42" fill="rgb(190,190,190)"/><circle cx="325.3" cy="72.3" r="0.42" fill="rgb(172,172,172)"/><circle cx="290.0" cy="118.2" r="0.42" fill="rgb(165,165,165)"/><circle cx="284.3" cy="78.9" r="0.42" fill="rgb(154,154,154)"/><circle cx="320.6" cy="76.6" r="0.42" fill="rgb(180,180,180)"/><circle cx="293.5" cy="125.5" r="0.42" fill="rgb(180,180,180)"/><circle cx="295.7" cy="118.5" r="0.42" fill="rgb(151,151,151)"/><circle cx="280.0" cy="84.1" r="0.42" fill="rgb(172,172,172)"/><circle cx="282.6" cy="91.2" r="0.42" fill="rgb(150,150,150)"/><circle cx="280.9" cy="129.7" r="0.42" fill="rgb(150,150,150)"/><circle cx="307.6" cy="95.2" r="0.42" fill="rgb(194,194,194)"/><circle cx="288.4" cy="95.4" r="0.42" fill="rgb(197,197,197)"/><circle cx="297.2" cy="98.1" r="0.42" fill="rgb(199,199,199)"/><circle cx="320.9" cy="100.0" r="0.42" fill="rgb(160,160,160)"/><circle cx="341.6" cy="70.3" r="0.42" fill="rgb(175,175,175)"/><circle cx="324.5" cy="89.8" r="0.42" fill="rgb(179,179,179)"/><circle cx="288.6" cy="112.3" r="0.42" fill="rgb(197,197,197)"/><circle cx="299.4" cy="85.9" r="0.42" fill="rgb(210,210,210)"/><circle cx="334.5" cy="98.1" r="0.42" fill="rgb(172,172,172)"/><circle cx="285.9" cy="104.3" r="0.42" fill="rgb(215,215,215)"/><circle cx="339.5" cy="76.3" r="0.42" fill="rgb(211,211,211)"/><circle cx="290.7" cy="135.7" r="0.42" fill="rgb(178,178,178)"/><circle cx="336.3" cy="90.5" r="0.42" fill="rgb(173,173,173)"/><circle cx="290.8" cy="129.2" r="0.42" fill="rgb(153,153,153)"/><circle cx="285.6" cy="83.4" r="0.42" fill="rgb(152,152,152)"/><circle cx="296.3" cy="131.0" r="0.42" fill="rgb(176,176,176)"/><circle cx="286.5" cy="111.8" r="0.42" fill="rgb(208,208,208)"/><circle cx="285.7" cy="77.6" r="0.42" fill="rgb(162,162,162)"/><circle cx="291.9" cy="134.0" r="0.42" fill="rgb(215,215,215)"/><circle cx="327.7" cy="85.9" r="0.42" fill="rgb(213,213,213)"/><circle cx="329.5" cy="108.2" r="0.42" fill="rgb(169,169,169)"/><circle cx="299.0" cy="121.3" r="0.42" fill="rgb(188,188,188)"/><circle cx="294.5" cy="123.3" r="0.42" fill="rgb(166,166,166)"/><circle cx="283.0" cy="135.5" r="0.42" fill="rgb(209,209,209)"/><circle cx="306.1" cy="95.3" r="0.42" fill="rgb(178,178,178)"/><circle cx="323.0" cy="88.8" r="0.42" fill="rgb(162,162,162)"/><circle cx="289.4" cy="101.2" r="0.42" fill="rgb(210,210,210)"/><circle cx="323.1" cy="93.3" r="0.42" fill="rgb(175,175,175)"/><circle cx="288.6" cy="81.2" r="0.42" fill="rgb(158,158,158)"/><circle cx="341.5" cy="68.2" r="0.42" fill="rgb(182,182,182)"/><circle cx="297.9" cy="91.2" r="0.42" fill="rgb(202,202,202)"/><circle cx="283.9" cy="111.7" r="0.42" fill="rgb(178,178,178)"/><circle cx="281.3" cy="133.5" r="0.42" fill="rgb(206,206,206)"/><circle cx="291.7" cy="133.9" r="0.42" fill="rgb(215,215,215)"/><circle cx="297.9" cy="113.0" r="0.42" fill="rgb(176,176,176)"/><circle cx="286.4" cy="85.2" r="0.42" fill="rgb(187,187,187)"/><circle cx="299.7" cy="103.0" r="0.42" fill="rgb(166,166,166)"/><circle cx="297.8" cy="118.8" r="0.42" fill="rgb(172,172,172)"/><circle cx="309.9" cy="93.4" r="0.42" fill="rgb(163,163,163)"/><circle cx="304.7" cy="116.7" r="0.42" fill="rgb(164,164,164)"/><circle cx="318.8" cy="107.7" r="0.42" fill="rgb(175,175,175)"/><circle cx="287.2" cy="84.9" r="0.42" fill="rgb(196,196,196)"/><circle cx="287.1" cy="96.2" r="0.42" fill="rgb(184,184,184)"/><circle cx="341.5" cy="71.7" r="0.42" fill="rgb(203,203,203)"/><circle cx="283.5" cy="120.6" r="0.42" fill="rgb(214,214,214)"/><circle cx="290.2" cy="96.0" r="0.42" fill="rgb(203,203,203)"/><circle cx="308.2" cy="102.0" r="0.42" fill="rgb(156,156,156)"/><circle cx="315.6" cy="108.1" r="0.42" fill="rgb(157,157,157)"/><circle cx="280.7" cy="111.3" r="0.42" fill="rgb(185,185,185)"/><circle cx="325.5" cy="76.2" r="0.42" fill="rgb(152,152,152)"/><circle cx="296.6" cy="102.0" r="0.42" fill="rgb(185,185,185)"/><circle cx="322.6" cy="95.3" r="0.42" fill="rgb(213,213,213)"/><circle cx="300.9" cy="83.1" r="0.42" fill="rgb(214,214,214)"/><circle cx="294.1" cy="130.5" r="0.42" fill="rgb(180,180,180)"/><circle cx="294.8" cy="121.8" r="0.42" fill="rgb(176,176,176)"/><circle cx="285.8" cy="98.6" r="0.42" fill="rgb(151,151,151)"/><circle cx="281.8" cy="126.1" r="0.42" fill="rgb(183,183,183)"/><circle cx="296.9" cy="108.3" r="0.42" fill="rgb(200,200,200)"/><circle cx="289.7" cy="133.6" r="0.42" fill="rgb(193,193,193)"/><circle cx="295.5" cy="119.5" r="0.42" fill="rgb(189,189,189)"/><circle cx="341.0" cy="67.0" r="0.42" fill="rgb(172,172,172)"/><circle cx="287.3" cy="113.4" r="0.42" fill="rgb(192,192,192)"/><circle cx="292.1" cy="91.6" r="0.42" fill="rgb(198,198,198)"/><circle cx="293.6" cy="102.6" r="0.42" fill="rgb(203,203,203)"/><circle cx="318.5" cy="94.9" r="0.42" fill="rgb(186,186,186)"/><circle cx="286.7" cy="85.7" r="0.42" fill="rgb(209,209,209)"/><circle cx="290.0" cy="112.6" r="0.42" fill="rgb(192,192,192)"/><circle cx="335.3" cy="100.3" r="0.42" fill="rgb(214,214,214)"/><circle cx="332.8" cy="89.8" r="0.42" fill="rgb(190,190,190)"/><circle cx="327.6" cy="69.2" r="0.42" fill="rgb(192,192,192)"/><circle cx="329.1" cy="92.9" r="0.42" fill="rgb(172,172,172)"/><circle cx="330.3" cy="94.9" r="0.42" fill="rgb(179,179,179)"/><circle cx="298.3" cy="93.8" r="0.42" fill="rgb(214,214,214)"/><circle cx="333.5" cy="88.5" r="0.42" fill="rgb(151,151,151)"/><circle cx="311.8" cy="93.9" r="0.42" fill="rgb(162,162,162)"/><circle cx="318.8" cy="101.5" r="0.42" fill="rgb(199,199,199)"/><circle cx="312.5" cy="96.8" r="0.42" fill="rgb(162,162,162)"/><circle cx="279.3" cy="127.4" r="0.42" fill="rgb(185,185,185)"/><circle cx="301.6" cy="91.8" r="0.42" fill="rgb(156,156,156)"/><circle cx="292.5" cy="112.3" r="0.42" fill="rgb(191,191,191)"/><circle cx="283.4" cy="89.2" r="0.42" fill="rgb(194,194,194)"/><circle cx="287.2" cy="90.0" r="0.42" fill="rgb(186,186,186)"/><circle cx="287.9" cy="124.1" r="0.42" fill="rgb(158,158,158)"/><circle cx="284.8" cy="128.2" r="0.42" fill="rgb(189,189,189)"/><circle cx="283.1" cy="117.7" r="0.42" fill="rgb(191,191,191)"/><circle cx="289.5" cy="112.4" r="0.42" fill="rgb(168,168,168)"/><circle cx="338.0" cy="100.3" r="0.42" fill="rgb(182,182,182)"/><circle cx="320.9" cy="83.4" r="0.42" fill="rgb(152,152,152)"/><circle cx="296.6" cy="118.1" r="0.42" fill="rgb(170,170,170)"/><circle cx="291.1" cy="132.1" r="0.42" fill="rgb(201,201,201)"/><circle cx="305.9" cy="90.1" r="0.42" fill="rgb(193,193,193)"/><circle cx="290.7" cy="102.1" r="0.42" fill="rgb(194,194,194)"/><circle cx="285.3" cy="84.5" r="0.42" fill="rgb(186,186,186)"/><circle cx="307.9" cy="89.7" r="0.42" fill="rgb(211,211,211)"/><circle cx="298.2" cy="105.2" r="0.42" fill="rgb(165,165,165)"/><circle cx="332.1" cy="64.6" r="0.42" fill="rgb(150,150,150)"/><circle cx="341.1" cy="83.7" r="0.42" fill="rgb(160,160,160)"/><circle cx="298.5" cy="95.8" r="0.42" fill="rgb(207,207,207)"/><circle cx="294.5" cy="94.5" r="0.42" fill="rgb(153,153,153)"/><circle cx="296.0" cy="97.7" r="0.42" fill="rgb(177,177,177)"/><circle cx="309.2" cy="88.7" r="0.42" fill="rgb(178,178,178)"/><circle cx="306.2" cy="81.5" r="0.42" fill="rgb(171,171,171)"/><circle cx="291.7" cy="94.4" r="0.42" fill="rgb(202,202,202)"/><circle cx="280.8" cy="109.1" r="0.42" fill="rgb(198,198,198)"/><circle cx="299.7" cy="88.2" r="0.42" fill="rgb(160,160,160)"/><circle cx="329.8" cy="105.4" r="0.42" fill="rgb(207,207,207)"/><circle cx="285.8" cy="113.2" r="0.42" fill="rgb(158,158,158)"/><circle cx="289.9" cy="135.7" r="0.42" fill="rgb(180,180,180)"/><circle cx="304.3" cy="118.0" r="0.42" fill="rgb(176,176,176)"/><circle cx="291.3" cy="136.5" r="0.42" fill="rgb(177,177,177)"/><circle cx="299.8" cy="118.6" r="0.42" fill="rgb(187,187,187)"/><circle cx="324.8" cy="68.9" r="0.42" fill="rgb(173,173,173)"/><circle cx="329.2" cy="68.2" r="0.42" fill="rgb(193,193,193)"/><circle cx="342.8" cy="67.8" r="0.42" fill="rgb(202,202,202)"/><circle cx="326.8" cy="99.8" r="0.42" fill="rgb(151,151,151)"/><circle cx="329.3" cy="107.3" r="0.42" fill="rgb(215,215,215)"/><circle cx="341.7" cy="74.7" r="0.42" fill="rgb(164,164,164)"/><circle cx="322.6" cy="80.8" r="0.42" fill="rgb(204,204,204)"/><circle cx="294.3" cy="101.3" r="0.42" fill="rgb(189,189,189)"/><circle cx="279.1" cy="87.6" r="0.42" fill="rgb(183,183,183)"/><circle cx="317.0" cy="92.4" r="0.42" fill="rgb(167,167,167)"/><circle cx="326.4" cy="71.5" r="0.42" fill="rgb(181,181,181)"/><circle cx="278.5" cy="112.0" r="0.42" fill="rgb(213,213,213)"/><circle cx="290.0" cy="105.5" r="0.42" fill="rgb(210,210,210)"/><circle cx="289.7" cy="112.9" r="0.42" fill="rgb(185,185,185)"/><circle cx="322.1" cy="96.0" r="0.42" fill="rgb(198,198,198)"/><circle cx="341.0" cy="68.4" r="0.42" fill="rgb(165,165,165)"/><circle cx="292.4" cy="117.5" r="0.42" fill="rgb(169,169,169)"/><circle cx="283.5" cy="119.2" r="0.42" fill="rgb(190,190,190)"/><circle cx="295.8" cy="91.1" r="0.42" fill="rgb(176,176,176)"/><circle cx="322.4" cy="109.7" r="0.42" fill="rgb(212,212,212)"/><circle cx="283.6" cy="134.0" r="0.42" fill="rgb(155,155,155)"/><circle cx="284.4" cy="131.7" r="0.42" fill="rgb(162,162,162)"/><circle cx="285.0" cy="87.4" r="0.42" fill="rgb(211,211,211)"/><circle cx="332.6" cy="65.6" r="0.42" fill="rgb(176,176,176)"/><circle cx="283.8" cy="114.0" r="0.42" fill="rgb(168,168,168)"/><circle cx="323.9" cy="102.2" r="0.42" fill="rgb(203,203,203)"/><circle cx="307.1" cy="87.7" r="0.42" fill="rgb(196,196,196)"/><circle cx="320.5" cy="89.3" r="0.42" fill="rgb(164,164,164)"/><circle cx="344.5" cy="75.9" r="0.42" fill="rgb(191,191,191)"/><circle cx="293.2" cy="109.2" r="0.42" fill="rgb(210,210,210)"/><circle cx="289.6" cy="121.3" r="0.42" fill="rgb(196,196,196)"/><circle cx="328.2" cy="91.0" r="0.42" fill="rgb(157,157,157)"/><circle cx="328.9" cy="89.7" r="0.42" fill="rgb(166,166,166)"/><circle cx="283.3" cy="102.2" r="0.42" fill="rgb(181,181,181)"/><circle cx="294.3" cy="132.4" r="0.42" fill="rgb(214,214,214)"/><circle cx="305.5" cy="92.3" r="0.42" fill="rgb(196,196,196)"/><circle cx="314.4" cy="110.3" r="0.42" fill="rgb(184,184,184)"/><circle cx="327.9" cy="79.2" r="0.42" fill="rgb(161,161,161)"/><circle cx="293.1" cy="118.8" r="0.42" fill="rgb(198,198,198)"/><circle cx="289.1" cy="127.1" r="0.42" fill="rgb(172,172,172)"/><circle cx="278.2" cy="83.0" r="0.42" fill="rgb(167,167,167)"/><circle cx="279.1" cy="123.3" r="0.42" fill="rgb(190,190,190)"/><circle cx="298.2" cy="122.3" r="0.42" fill="rgb(163,163,163)"/><circle cx="315.6" cy="76.7" r="0.42" fill="rgb(207,207,207)"/><circle cx="288.0" cy="86.0" r="0.42" fill="rgb(199,199,199)"/><circle cx="285.9" cy="79.2" r="0.42" fill="rgb(197,197,197)"/><circle cx="339.9" cy="79.0" r="0.42" fill="rgb(162,162,162)"/><circle cx="283.4" cy="112.4" r="0.42" fill="rgb(183,183,183)"/><circle cx="287.2" cy="123.4" r="0.42" fill="rgb(155,155,155)"/><circle cx="331.5" cy="99.3" r="0.42" fill="rgb(185,185,185)"/><circle cx="326.6" cy="108.1" r="0.42" fill="rgb(155,155,155)"/><circle cx="282.6" cy="131.0" r="0.42" fill="rgb(167,167,167)"/><circle cx="292.5" cy="113.9" r="0.42" fill="rgb(169,169,169)"/><circle cx="286.9" cy="125.1" r="0.42" fill="rgb(200,200,200)"/><circle cx="319.8" cy="108.5" r="0.42" fill="rgb(150,150,150)"/><circle cx="336.5" cy="85.6" r="0.42" fill="rgb(153,153,153)"/><circle cx="317.6" cy="79.0" r="0.42" fill="rgb(207,207,207)"/><circle cx="323.3" cy="89.7" r="0.42" fill="rgb(206,206,206)"/><circle cx="324.6" cy="69.1" r="0.42" fill="rgb(180,180,180)"/><circle cx="317.0" cy="103.0" r="0.42" fill="rgb(171,171,171)"/><circle cx="310.4" cy="91.4" r="0.42" fill="rgb(155,155,155)"/><circle cx="283.1" cy="133.4" r="0.42" fill="rgb(214,214,214)"/><circle cx="335.6" cy="93.5" r="0.42" fill="rgb(184,184,184)"/><circle cx="331.3" cy="81.1" r="0.42" fill="rgb(187,187,187)"/><circle cx="327.7" cy="107.8" r="0.42" fill="rgb(193,193,193)"/><circle cx="281.2" cy="111.6" r="0.42" fill="rgb(168,168,168)"/><circle cx="289.0" cy="113.2" r="0.42" fill="rgb(193,193,193)"/><circle cx="290.5" cy="125.7" r="0.42" fill="rgb(157,157,157)"/><circle cx="286.7" cy="131.2" r="0.42" fill="rgb(173,173,173)"/><circle cx="337.8" cy="78.8" r="0.42" fill="rgb(183,183,183)"/><circle cx="305.4" cy="111.9" r="0.42" fill="rgb(207,207,207)"/><circle cx="283.7" cy="115.9" r="0.42" fill="rgb(197,197,197)"/><circle cx="287.7" cy="83.4" r="0.42" fill="rgb(180,180,180)"/><circle cx="294.1" cy="111.1" r="0.42" fill="rgb(200,200,200)"/><circle cx="292.6" cy="123.6" r="0.42" fill="rgb(159,159,159)"/><circle cx="314.4" cy="106.0" r="0.42" fill="rgb(194,194,194)"/><circle cx="295.2" cy="118.8" r="0.42" fill="rgb(181,181,181)"/><circle cx="287.5" cy="123.5" r="0.42" fill="rgb(209,209,209)"/><circle cx="277.4" cy="80.6" r="0.42" fill="rgb(158,158,158)"/><circle cx="282.7" cy="127.9" r="0.42" fill="rgb(199,199,199)"/><circle cx="282.8" cy="124.3" r="0.42" fill="rgb(180,180,180)"/><circle cx="300.7" cy="84.7" r="0.42" fill="rgb(199,199,199)"/><circle cx="279.6" cy="113.4" r="0.42" fill="rgb(154,154,154)"/><circle cx="291.0" cy="113.8" r="0.42" fill="rgb(179,179,179)"/><circle cx="321.3" cy="87.6" r="0.42" fill="rgb(194,194,194)"/><circle cx="286.8" cy="126.2" r="0.42" fill="rgb(172,172,172)"/><circle cx="298.0" cy="129.7" r="0.42" fill="rgb(196,196,196)"/><circle cx="324.4" cy="107.6" r="0.42" fill="rgb(210,210,210)"/><circle cx="284.9" cy="94.6" r="0.42" fill="rgb(165,165,165)"/><circle cx="314.7" cy="108.2" r="0.42" fill="rgb(188,188,188)"/><circle cx="281.5" cy="117.9" r="0.42" fill="rgb(194,194,194)"/><circle cx="284.5" cy="87.2" r="0.42" fill="rgb(202,202,202)"/><circle cx="283.3" cy="120.3" r="0.42" fill="rgb(167,167,167)"/><circle cx="289.5" cy="85.0" r="0.42" fill="rgb(190,190,190)"/><circle cx="317.3" cy="103.3" r="0.42" fill="rgb(197,197,197)"/><circle cx="300.8" cy="133.3" r="0.42" fill="rgb(204,204,204)"/><circle cx="281.3" cy="119.4" r="0.42" fill="rgb(184,184,184)"/><circle cx="295.3" cy="109.2" r="0.42" fill="rgb(155,155,155)"/><circle cx="308.6" cy="82.1" r="0.42" fill="rgb(210,210,210)"/><circle cx="288.0" cy="123.6" r="0.42" fill="rgb(212,212,212)"/><circle cx="288.5" cy="89.6" r="0.42" fill="rgb(214,214,214)"/><circle cx="282.3" cy="82.9" r="0.42" fill="rgb(190,190,190)"/><circle cx="293.2" cy="111.0" r="0.42" fill="rgb(168,168,168)"/><circle cx="315.0" cy="101.6" r="0.42" fill="rgb(189,189,189)"/><circle cx="303.3" cy="106.9" r="0.42" fill="rgb(214,214,214)"/><circle cx="341.3" cy="70.4" r="0.42" fill="rgb(212,212,212)"/><circle cx="326.4" cy="73.2" r="0.42" fill="rgb(162,162,162)"/><circle cx="302.1" cy="121.8" r="0.42" fill="rgb(211,211,211)"/><circle cx="285.2" cy="123.2" r="0.42" fill="rgb(175,175,175)"/><circle cx="287.0" cy="92.8" r="0.42" fill="rgb(163,163,163)"/><circle cx="293.1" cy="124.8" r="0.42" fill="rgb(163,163,163)"/><circle cx="279.7" cy="126.8" r="0.42" fill="rgb(180,180,180)"/><circle cx="333.5" cy="81.0" r="0.42" fill="rgb(156,156,156)"/><circle cx="281.0" cy="84.8" r="0.42" fill="rgb(182,182,182)"/><circle cx="339.5" cy="65.5" r="0.42" fill="rgb(191,191,191)"/><circle cx="292.3" cy="127.3" r="0.42" fill="rgb(156,156,156)"/><circle cx="283.1" cy="111.7" r="0.42" fill="rgb(166,166,166)"/><circle cx="318.3" cy="89.8" r="0.42" fill="rgb(191,191,191)"/><circle cx="285.1" cy="119.9" r="0.42" fill="rgb(210,210,210)"/><circle cx="285.8" cy="117.8" r="0.42" fill="rgb(151,151,151)"/><circle cx="306.8" cy="95.1" r="0.42" fill="rgb(162,162,162)"/><circle cx="292.2" cy="107.8" r="0.42" fill="rgb(163,163,163)"/><circle cx="297.1" cy="114.7" r="0.42" fill="rgb(201,201,201)"/><circle cx="289.2" cy="101.6" r="0.42" fill="rgb(210,210,210)"/><circle cx="339.4" cy="73.7" r="0.42" fill="rgb(213,213,213)"/><circle cx="313.2" cy="97.3" r="0.42" fill="rgb(213,213,213)"/><circle cx="325.6" cy="83.3" r="0.42" fill="rgb(153,153,153)"/><circle cx="297.9" cy="104.7" r="0.42" fill="rgb(188,188,188)"/><circle cx="287.7" cy="82.8" r="0.42" fill="rgb(208,208,208)"/><circle cx="310.2" cy="96.0" r="0.42" fill="rgb(209,209,209)"/><circle cx="287.7" cy="85.0" r="0.42" fill="rgb(198,198,198)"/><circle cx="337.0" cy="103.4" r="0.42" fill="rgb(165,165,165)"/><circle cx="295.6" cy="134.6" r="0.42" fill="rgb(168,168,168)"/><circle cx="289.3" cy="101.5" r="0.42" fill="rgb(165,165,165)"/><circle cx="281.9" cy="112.3" r="0.42" fill="rgb(168,168,168)"/><circle cx="327.8" cy="91.0" r="0.42" fill="rgb(203,203,203)"/><circle cx="298.4" cy="97.9" r="0.42" fill="rgb(187,187,187)"/><circle cx="311.3" cy="108.2" r="0.42" fill="rgb(184,184,184)"/><circle cx="334.5" cy="69.1" r="0.42" fill="rgb(159,159,159)"/><circle cx="298.6" cy="125.1" r="0.42" fill="rgb(215,215,215)"/><circle cx="337.0" cy="91.5" r="0.42" fill="rgb(152,152,152)"/><circle cx="325.3" cy="84.3" r="0.42" fill="rgb(215,215,215)"/><circle cx="287.5" cy="125.4" r="0.42" fill="rgb(164,164,164)"/><circle cx="295.5" cy="123.6" r="0.42" fill="rgb(178,178,178)"/><circle cx="294.6" cy="86.7" r="0.42" fill="rgb(159,159,159)"/><circle cx="331.8" cy="100.7" r="0.42" fill="rgb(205,205,205)"/><circle cx="281.1" cy="82.1" r="0.42" fill="rgb(157,157,157)"/><circle cx="292.3" cy="109.3" r="0.42" fill="rgb(193,193,193)"/><circle cx="296.2" cy="95.8" r="0.42" fill="rgb(195,195,195)"/><circle cx="297.2" cy="98.0" r="0.42" fill="rgb(209,209,209)"/><circle cx="331.7" cy="82.7" r="0.42" fill="rgb(156,156,156)"/><circle cx="328.6" cy="103.3" r="0.42" fill="rgb(177,177,177)"/><circle cx="341.4" cy="79.4" r="0.42" fill="rgb(159,159,159)"/><circle cx="313.5" cy="96.1" r="0.42" fill="rgb(197,197,197)"/><circle cx="299.8" cy="125.7" r="0.42" fill="rgb(187,187,187)"/><circle cx="311.1" cy="97.8" r="0.42" fill="rgb(209,209,209)"/><circle cx="314.9" cy="105.9" r="0.42" fill="rgb(208,208,208)"/><circle cx="291.0" cy="97.1" r="0.42" fill="rgb(201,201,201)"/><circle cx="307.8" cy="87.4" r="0.42" fill="rgb(185,185,185)"/><circle cx="343.1" cy="69.7" r="0.42" fill="rgb(165,165,165)"/><circle cx="296.5" cy="109.3" r="0.42" fill="rgb(192,192,192)"/><circle cx="328.5" cy="107.8" r="0.42" fill="rgb(160,160,160)"/><circle cx="297.6" cy="92.9" r="0.42" fill="rgb(173,173,173)"/><circle cx="293.1" cy="124.2" r="0.42" fill="rgb(173,173,173)"/><circle cx="340.5" cy="71.7" r="0.42" fill="rgb(208,208,208)"/><circle cx="321.0" cy="104.9" r="0.42" fill="rgb(204,204,204)"/><circle cx="318.4" cy="109.1" r="0.42" fill="rgb(175,175,175)"/><circle cx="284.9" cy="126.7" r="0.42" fill="rgb(187,187,187)"/><circle cx="323.6" cy="83.8" r="0.42" fill="rgb(174,174,174)"/><circle cx="327.7" cy="94.2" r="0.42" fill="rgb(210,210,210)"/><circle cx="299.4" cy="136.3" r="0.42" fill="rgb(154,154,154)"/><circle cx="306.7" cy="95.0" r="0.42" fill="rgb(194,194,194)"/><circle cx="324.7" cy="98.0" r="0.42" fill="rgb(170,170,170)"/><circle cx="292.3" cy="135.1" r="0.42" fill="rgb(205,205,205)"/><circle cx="337.0" cy="92.4" r="0.42" fill="rgb(201,201,201)"/><circle cx="333.9" cy="102.0" r="0.42" fill="rgb(155,155,155)"/><circle cx="340.4" cy="70.6" r="0.42" fill="rgb(202,202,202)"/><circle cx="302.3" cy="114.8" r="0.42" fill="rgb(203,203,203)"/><circle cx="284.1" cy="111.2" r="0.42" fill="rgb(161,161,161)"/><circle cx="315.6" cy="81.7" r="0.42" fill="rgb(161,161,161)"/><circle cx="326.6" cy="103.3" r="0.42" fill="rgb(209,209,209)"/><circle cx="339.3" cy="85.1" r="0.42" fill="rgb(178,178,178)"/><circle cx="340.0" cy="88.9" r="0.42" fill="rgb(213,213,213)"/><circle cx="332.3" cy="69.6" r="0.42" fill="rgb(186,186,186)"/><circle cx="287.2" cy="125.1" r="0.42" fill="rgb(155,155,155)"/><circle cx="299.7" cy="108.8" r="0.42" fill="rgb(206,206,206)"/><circle cx="284.1" cy="108.5" r="0.42" fill="rgb(161,161,161)"/><circle cx="334.7" cy="89.7" r="0.42" fill="rgb(173,173,173)"/><circle cx="280.6" cy="87.3" r="0.42" fill="rgb(209,209,209)"/><circle cx="281.0" cy="121.2" r="0.42" fill="rgb(159,159,159)"/><circle cx="314.7" cy="109.0" r="0.42" fill="rgb(170,170,170)"/><circle cx="326.9" cy="69.5" r="0.42" fill="rgb(214,214,214)"/><circle cx="290.3" cy="104.4" r="0.42" fill="rgb(197,197,197)"/><circle cx="282.4" cy="124.7" r="0.42" fill="rgb(180,180,180)"/><circle cx="286.9" cy="121.9" r="0.42" fill="rgb(160,160,160)"/><circle cx="300.0" cy="92.5" r="0.42" fill="rgb(159,159,159)"/><circle cx="295.5" cy="116.5" r="0.42" fill="rgb(164,164,164)"/><circle cx="313.1" cy="99.4" r="0.42" fill="rgb(171,171,171)"/><circle cx="298.2" cy="112.9" r="0.42" fill="rgb(152,152,152)"/><circle cx="281.1" cy="123.8" r="0.42" fill="rgb(174,174,174)"/><circle cx="329.6" cy="109.3" r="0.42" fill="rgb(213,213,213)"/><circle cx="281.6" cy="106.5" r="0.42" fill="rgb(150,150,150)"/><circle cx="342.9" cy="76.8" r="0.42" fill="rgb(194,194,194)"/><circle cx="294.6" cy="122.7" r="0.42" fill="rgb(202,202,202)"/><circle cx="315.8" cy="110.2" r="0.42" fill="rgb(150,150,150)"/><circle cx="328.9" cy="87.0" r="0.42" fill="rgb(181,181,181)"/><circle cx="334.8" cy="89.2" r="0.42" fill="rgb(161,161,161)"/><circle cx="293.6" cy="92.3" r="0.42" fill="rgb(155,155,155)"/><circle cx="284.5" cy="109.0" r="0.42" fill="rgb(166,166,166)"/><circle cx="330.9" cy="101.1" r="0.42" fill="rgb(199,199,199)"/><circle cx="313.4" cy="103.4" r="0.42" fill="rgb(189,189,189)"/><circle cx="338.4" cy="76.1" r="0.42" fill="rgb(195,195,195)"/><circle cx="320.4" cy="85.5" r="0.42" fill="rgb(206,206,206)"/><circle cx="285.2" cy="82.3" r="0.42" fill="rgb(190,190,190)"/><circle cx="279.1" cy="121.0" r="0.42" fill="rgb(188,188,188)"/><circle cx="284.1" cy="85.9" r="0.42" fill="rgb(165,165,165)"/><circle cx="324.6" cy="109.5" r="0.42" fill="rgb(211,211,211)"/><circle cx="335.7" cy="66.0" r="0.42" fill="rgb(215,215,215)"/><circle cx="316.3" cy="74.1" r="0.42" fill="rgb(177,177,177)"/><circle cx="307.3" cy="115.7" r="0.42" fill="rgb(186,186,186)"/><circle cx="301.9" cy="93.7" r="0.42" fill="rgb(181,181,181)"/><circle cx="334.9" cy="87.2" r="0.42" fill="rgb(209,209,209)"/><circle cx="331.5" cy="87.0" r="0.42" fill="rgb(214,214,214)"/><circle cx="331.9" cy="66.3" r="0.42" fill="rgb(150,150,150)"/><circle cx="280.1" cy="78.5" r="0.42" fill="rgb(210,210,210)"/><circle cx="324.0" cy="70.6" r="0.42" fill="rgb(150,150,150)"/><circle cx="340.1" cy="76.6" r="0.42" fill="rgb(201,201,201)"/><circle cx="286.7" cy="135.1" r="0.42" fill="rgb(179,179,179)"/><circle cx="286.6" cy="102.5" r="0.42" fill="rgb(179,179,179)"/><circle cx="330.7" cy="66.6" r="0.42" fill="rgb(155,155,155)"/><circle cx="291.5" cy="125.1" r="0.42" fill="rgb(161,161,161)"/><circle cx="296.9" cy="135.5" r="0.42" fill="rgb(167,167,167)"/><circle cx="282.3" cy="105.1" r="0.42" fill="rgb(150,150,150)"/><circle cx="283.2" cy="113.9" r="0.42" fill="rgb(175,175,175)"/><circle cx="285.2" cy="118.4" r="0.42" fill="rgb(182,182,182)"/><circle cx="310.6" cy="82.5" r="0.42" fill="rgb(170,170,170)"/><circle cx="316.0" cy="87.0" r="0.42" fill="rgb(200,200,200)"/><circle cx="292.4" cy="95.7" r="0.42" fill="rgb(177,177,177)"/><circle cx="323.7" cy="81.1" r="0.42" fill="rgb(173,173,173)"/><circle cx="318.4" cy="103.0" r="0.42" fill="rgb(161,161,161)"/><circle cx="295.4" cy="118.6" r="0.42" fill="rgb(182,182,182)"/><circle cx="282.1" cy="122.2" r="0.42" fill="rgb(164,164,164)"/><circle cx="288.9" cy="127.0" r="0.42" fill="rgb(194,194,194)"/><circle cx="285.6" cy="121.4" r="0.42" fill="rgb(188,188,188)"/><circle cx="317.9" cy="79.2" r="0.42" fill="rgb(164,164,164)"/><circle cx="334.0" cy="103.4" r="0.42" fill="rgb(153,153,153)"/><circle cx="327.6" cy="103.6" r="0.42" fill="rgb(205,205,205)"/><circle cx="297.9" cy="99.1" r="0.42" fill="rgb(200,200,200)"/><circle cx="282.6" cy="87.6" r="0.42" fill="rgb(201,201,201)"/><circle cx="335.7" cy="101.1" r="0.42" fill="rgb(200,200,200)"/><circle cx="290.6" cy="104.7" r="0.42" fill="rgb(174,174,174)"/><circle cx="283.3" cy="81.5" r="0.42" fill="rgb(158,158,158)"/><circle cx="294.5" cy="122.3" r="0.42" fill="rgb(206,206,206)"/><circle cx="310.9" cy="98.8" r="0.42" fill="rgb(207,207,207)"/><circle cx="295.1" cy="115.0" r="0.42" fill="rgb(195,195,195)"/><circle cx="306.6" cy="97.0" r="0.42" fill="rgb(195,195,195)"/><circle cx="290.4" cy="119.7" r="0.42" fill="rgb(202,202,202)"/><circle cx="289.2" cy="136.3" r="0.42" fill="rgb(167,167,167)"/><circle cx="294.8" cy="102.4" r="0.42" fill="rgb(191,191,191)"/><circle cx="328.2" cy="101.6" r="0.42" fill="rgb(203,203,203)"/><circle cx="300.3" cy="111.8" r="0.42" fill="rgb(212,212,212)"/><circle cx="334.0" cy="93.8" r="0.42" fill="rgb(165,165,165)"/><circle cx="299.1" cy="103.1" r="0.42" fill="rgb(180,180,180)"/><circle cx="282.4" cy="110.1" r="0.42" fill="rgb(175,175,175)"/><circle cx="293.7" cy="115.0" r="0.42" fill="rgb(166,166,166)"/><circle cx="287.1" cy="90.0" r="0.42" fill="rgb(174,174,174)"/><circle cx="338.1" cy="68.2" r="0.42" fill="rgb(150,150,150)"/><circle cx="286.2" cy="116.0" r="0.42" fill="rgb(157,157,157)"/><circle cx="334.6" cy="80.4" r="0.42" fill="rgb(193,193,193)"/><circle cx="280.6" cy="131.3" r="0.42" fill="rgb(215,215,215)"/><circle cx="281.8" cy="115.6" r="0.42" fill="rgb(165,165,165)"/><circle cx="308.9" cy="80.6" r="0.42" fill="rgb(205,205,205)"/><circle cx="294.6" cy="112.8" r="0.42" fill="rgb(193,193,193)"/><circle cx="297.8" cy="112.9" r="0.42" fill="rgb(151,151,151)"/><circle cx="287.3" cy="91.1" r="0.42" fill="rgb(191,191,191)"/><circle cx="285.5" cy="136.1" r="0.42" fill="rgb(169,169,169)"/><circle cx="314.5" cy="76.6" r="0.42" fill="rgb(161,161,161)"/><circle cx="331.1" cy="85.0" r="0.42" fill="rgb(157,157,157)"/><circle cx="299.4" cy="114.3" r="0.42" fill="rgb(193,193,193)"/><circle cx="287.9" cy="106.5" r="0.42" fill="rgb(184,184,184)"/><circle cx="310.4" cy="80.8" r="0.42" fill="rgb(162,162,162)"/><circle cx="329.3" cy="86.9" r="0.42" fill="rgb(199,199,199)"/><circle cx="340.1" cy="78.6" r="0.42" fill="rgb(193,193,193)"/><circle cx="343.0" cy="79.1" r="0.42" fill="rgb(168,168,168)"/><circle cx="330.8" cy="105.2" r="0.42" fill="rgb(211,211,211)"/><circle cx="315.2" cy="78.0" r="0.42" fill="rgb(152,152,152)"/><circle cx="292.8" cy="107.6" r="0.42" fill="rgb(171,171,171)"/><circle cx="308.6" cy="90.6" r="0.42" fill="rgb(197,197,197)"/><circle cx="284.1" cy="91.3" r="0.42" fill="rgb(192,192,192)"/><circle cx="344.0" cy="75.6" r="0.42" fill="rgb(155,155,155)"/><circle cx="284.2" cy="78.0" r="0.42" fill="rgb(205,205,205)"/><circle cx="297.9" cy="135.9" r="0.42" fill="rgb(187,187,187)"/><circle cx="321.3" cy="82.8" r="0.42" fill="rgb(200,200,200)"/><circle cx="314.8" cy="84.7" r="0.42" fill="rgb(189,189,189)"/><circle cx="325.1" cy="93.5" r="0.42" fill="rgb(211,211,211)"/><circle cx="331.1" cy="65.0" r="0.42" fill="rgb(190,190,190)"/><circle cx="303.4" cy="109.6" r="0.42" fill="rgb(163,163,163)"/><circle cx="303.8" cy="81.6" r="0.42" fill="rgb(154,154,154)"/><circle cx="331.2" cy="75.7" r="0.42" fill="rgb(177,177,177)"/><circle cx="328.7" cy="69.9" r="0.42" fill="rgb(215,215,215)"/><circle cx="334.7" cy="88.3" r="0.42" fill="rgb(180,180,180)"/><circle cx="289.0" cy="118.1" r="0.42" fill="rgb(191,191,191)"/><circle cx="298.0" cy="110.0" r="0.42" fill="rgb(213,213,213)"/><circle cx="311.6" cy="84.9" r="0.42" fill="rgb(181,181,181)"/><circle cx="302.5" cy="87.5" r="0.42" fill="rgb(193,193,193)"/><circle cx="281.8" cy="120.0" r="0.42" fill="rgb(188,188,188)"/><circle cx="279.8" cy="113.7" r="0.42" fill="rgb(196,196,196)"/><circle cx="325.3" cy="87.9" r="0.42" fill="rgb(203,203,203)"/><circle cx="285.6" cy="124.5" r="0.42" fill="rgb(182,182,182)"/><circle cx="283.8" cy="120.1" r="0.42" fill="rgb(190,190,190)"/><circle cx="303.2" cy="106.7" r="0.42" fill="rgb(169,169,169)"/><circle cx="297.3" cy="87.9" r="0.42" fill="rgb(163,163,163)"/><circle cx="287.7" cy="86.6" r="0.42" fill="rgb(161,161,161)"/><circle cx="317.1" cy="97.5" r="0.42" fill="rgb(193,193,193)"/><circle cx="307.6" cy="86.0" r="0.42" fill="rgb(195,195,195)"/><circle cx="323.4" cy="70.2" r="0.42" fill="rgb(181,181,181)"/><circle cx="284.4" cy="93.3" r="0.42" fill="rgb(178,178,178)"/><circle cx="289.8" cy="106.2" r="0.42" fill="rgb(213,213,213)"/><circle cx="330.3" cy="73.9" r="0.42" fill="rgb(156,156,156)"/><circle cx="294.2" cy="126.7" r="0.42" fill="rgb(159,159,159)"/><circle cx="339.7" cy="79.0" r="0.42" fill="rgb(161,161,161)"/><circle cx="335.3" cy="90.0" r="0.42" fill="rgb(165,165,165)"/><circle cx="280.1" cy="80.0" r="0.42" fill="rgb(198,198,198)"/><circle cx="315.4" cy="90.6" r="0.42" fill="rgb(151,151,151)"/><circle cx="302.7" cy="122.5" r="0.42" fill="rgb(201,201,201)"/><circle cx="319.8" cy="99.2" r="0.42" fill="rgb(192,192,192)"/><circle cx="338.0" cy="89.0" r="0.42" fill="rgb(166,166,166)"/><circle cx="286.3" cy="131.9" r="0.42" fill="rgb(195,195,195)"/><circle cx="324.0" cy="71.0" r="0.42" fill="rgb(163,163,163)"/><circle cx="286.5" cy="131.2" r="0.42" fill="rgb(156,156,156)"/><circle cx="302.6" cy="118.0" r="0.42" fill="rgb(191,191,191)"/><circle cx="283.8" cy="124.8" r="0.42" fill="rgb(204,204,204)"/><circle cx="301.3" cy="103.5" r="0.42" fill="rgb(188,188,188)"/><circle cx="285.1" cy="133.3" r="0.42" fill="rgb(162,162,162)"/><circle cx="299.0" cy="126.0" r="0.42" fill="rgb(185,185,185)"/><circle cx="305.8" cy="102.7" r="0.42" fill="rgb(156,156,156)"/><circle cx="298.2" cy="128.6" r="0.42" fill="rgb(188,188,188)"/><circle cx="292.1" cy="107.6" r="0.42" fill="rgb(194,194,194)"/><circle cx="284.4" cy="110.5" r="0.42" fill="rgb(160,160,160)"/><circle cx="302.4" cy="116.6" r="0.42" fill="rgb(164,164,164)"/><circle cx="288.1" cy="130.0" r="0.42" fill="rgb(186,186,186)"/><circle cx="282.1" cy="83.4" r="0.42" fill="rgb(196,196,196)"/><circle cx="281.6" cy="108.1" r="0.42" fill="rgb(210,210,210)"/><circle cx="315.7" cy="80.0" r="0.42" fill="rgb(205,205,205)"/><circle cx="322.1" cy="107.0" r="0.42" fill="rgb(200,200,200)"/><circle cx="321.1" cy="72.2" r="0.42" fill="rgb(156,156,156)"/><circle cx="328.1" cy="86.0" r="0.42" fill="rgb(204,204,204)"/><circle cx="281.9" cy="123.1" r="0.42" fill="rgb(175,175,175)"/><circle cx="313.1" cy="77.4" r="0.42" fill="rgb(159,159,159)"/><circle cx="326.7" cy="66.7" r="0.42" fill="rgb(182,182,182)"/><circle cx="288.7" cy="81.4" r="0.42" fill="rgb(153,153,153)"/><circle cx="302.8" cy="102.1" r="0.42" fill="rgb(162,162,162)"/><circle cx="339.7" cy="88.1" r="0.42" fill="rgb(209,209,209)"/><circle cx="298.9" cy="134.2" r="0.42" fill="rgb(197,197,197)"/><circle cx="295.1" cy="130.3" r="0.42" fill="rgb(173,173,173)"/><circle cx="291.8" cy="96.3" r="0.42" fill="rgb(171,171,171)"/><circle cx="332.5" cy="99.2" r="0.42" fill="rgb(163,163,163)"/><circle cx="331.7" cy="75.2" r="0.42" fill="rgb(189,189,189)"/><circle cx="283.2" cy="128.5" r="0.42" fill="rgb(151,151,151)"/><circle cx="305.7" cy="84.2" r="0.42" fill="rgb(206,206,206)"/><circle cx="335.4" cy="86.2" r="0.42" fill="rgb(151,151,151)"/><circle cx="338.0" cy="91.8" r="0.42" fill="rgb(165,165,165)"/><circle cx="289.3" cy="127.1" r="0.42" fill="rgb(179,179,179)"/><circle cx="340.5" cy="78.8" r="0.42" fill="rgb(175,175,175)"/><circle cx="324.0" cy="81.4" r="0.42" fill="rgb(180,180,180)"/><circle cx="284.0" cy="106.6" r="0.42" fill="rgb(159,159,159)"/><circle cx="295.6" cy="114.0" r="0.42" fill="rgb(204,204,204)"/><circle cx="311.7" cy="89.6" r="0.42" fill="rgb(179,179,179)"/><circle cx="298.4" cy="100.4" r="0.42" fill="rgb(155,155,155)"/><circle cx="318.4" cy="74.6" r="0.42" fill="rgb(209,209,209)"/><circle cx="337.8" cy="89.3" r="0.42" fill="rgb(160,160,160)"/><circle cx="341.7" cy="81.0" r="0.42" fill="rgb(161,161,161)"/><circle cx="321.6" cy="73.4" r="0.42" fill="rgb(206,206,206)"/><circle cx="303.4" cy="114.9" r="0.42" fill="rgb(184,184,184)"/><circle cx="281.0" cy="82.1" r="0.42" fill="rgb(205,205,205)"/><circle cx="283.5" cy="123.0" r="0.42" fill="rgb(164,164,164)"/><circle cx="291.4" cy="109.1" r="0.42" fill="rgb(155,155,155)"/><circle cx="300.4" cy="91.6" r="0.42" fill="rgb(197,197,197)"/><circle cx="325.2" cy="108.2" r="0.42" fill="rgb(207,207,207)"/><circle cx="295.7" cy="130.5" r="0.42" fill="rgb(171,171,171)"/><circle cx="286.2" cy="123.4" r="0.42" fill="rgb(155,155,155)"/><circle cx="298.2" cy="117.4" r="0.42" fill="rgb(191,191,191)"/><circle cx="284.9" cy="118.4" r="0.42" fill="rgb(192,192,192)"/><circle cx="325.0" cy="88.8" r="0.42" fill="rgb(155,155,155)"/><circle cx="301.3" cy="106.0" r="0.42" fill="rgb(167,167,167)"/><circle cx="294.3" cy="103.9" r="0.42" fill="rgb(201,201,201)"/><circle cx="310.2" cy="89.4" r="0.42" fill="rgb(163,163,163)"/><circle cx="311.8" cy="112.2" r="0.42" fill="rgb(178,178,178)"/><circle cx="330.3" cy="76.9" r="0.42" fill="rgb(205,205,205)"/><circle cx="282.8" cy="76.7" r="0.42" fill="rgb(187,187,187)"/><circle cx="293.0" cy="123.4" r="0.42" fill="rgb(185,185,185)"/><circle cx="296.1" cy="115.8" r="0.42" fill="rgb(153,153,153)"/><circle cx="299.8" cy="118.3" r="0.42" fill="rgb(160,160,160)"/><circle cx="284.2" cy="135.7" r="0.42" fill="rgb(173,173,173)"/><circle cx="338.8" cy="98.3" r="0.42" fill="rgb(162,162,162)"/><circle cx="287.1" cy="128.9" r="0.42" fill="rgb(178,178,178)"/><circle cx="319.1" cy="71.9" r="0.42" fill="rgb(175,175,175)"/><circle cx="295.5" cy="88.3" r="0.42" fill="rgb(199,199,199)"/><circle cx="313.0" cy="76.3" r="0.42" fill="rgb(215,215,215)"/><circle cx="284.0" cy="81.0" r="0.42" fill="rgb(155,155,155)"/><circle cx="286.2" cy="133.8" r="0.42" fill="rgb(188,188,188)"/><circle cx="287.3" cy="93.9" r="0.42" fill="rgb(199,199,199)"/><circle cx="344.7" cy="76.0" r="0.42" fill="rgb(177,177,177)"/><circle cx="298.5" cy="131.8" r="0.42" fill="rgb(195,195,195)"/><circle cx="280.8" cy="85.3" r="0.42" fill="rgb(190,190,190)"/><circle cx="285.6" cy="134.9" r="0.42" fill="rgb(163,163,163)"/><circle cx="300.4" cy="105.7" r="0.42" fill="rgb(198,198,198)"/><circle cx="338.7" cy="86.5" r="0.42" fill="rgb(205,205,205)"/><circle cx="321.8" cy="96.0" r="0.42" fill="rgb(196,196,196)"/><circle cx="312.1" cy="101.5" r="0.42" fill="rgb(163,163,163)"/><circle cx="293.1" cy="108.1" r="0.42" fill="rgb(185,185,185)"/><circle cx="292.9" cy="106.2" r="0.42" fill="rgb(187,187,187)"/><circle cx="329.1" cy="83.0" r="0.42" fill="rgb(168,168,168)"/><circle cx="297.9" cy="117.9" r="0.42" fill="rgb(151,151,151)"/><circle cx="291.7" cy="114.7" r="0.42" fill="rgb(198,198,198)"/><circle cx="283.6" cy="126.7" r="0.42" fill="rgb(177,177,177)"/><circle cx="292.8" cy="96.5" r="0.42" fill="rgb(181,181,181)"/><circle cx="289.2" cy="89.5" r="0.42" fill="rgb(153,153,153)"/><circle cx="294.9" cy="92.6" r="0.42" fill="rgb(152,152,152)"/><circle cx="283.4" cy="79.2" r="0.42" fill="rgb(204,204,204)"/><circle cx="303.0" cy="98.1" r="0.42" fill="rgb(202,202,202)"/><circle cx="315.2" cy="90.2" r="0.42" fill="rgb(171,171,171)"/><circle cx="289.5" cy="120.6" r="0.42" fill="rgb(205,205,205)"/><circle cx="319.5" cy="78.9" r="0.42" fill="rgb(153,153,153)"/><circle cx="317.1" cy="83.0" r="0.42" fill="rgb(170,170,170)"/><circle cx="284.7" cy="87.4" r="0.42" fill="rgb(153,153,153)"/><circle cx="306.8" cy="89.0" r="0.42" fill="rgb(183,183,183)"/><circle cx="322.6" cy="69.8" r="0.42" fill="rgb(157,157,157)"/><circle cx="286.3" cy="87.8" r="0.42" fill="rgb(189,189,189)"/><circle cx="282.1" cy="109.0" r="0.42" fill="rgb(209,209,209)"/><circle cx="294.0" cy="114.0" r="0.42" fill="rgb(195,195,195)"/><circle cx="334.1" cy="86.7" r="0.42" fill="rgb(200,200,200)"/><circle cx="336.4" cy="98.9" r="0.42" fill="rgb(170,170,170)"/><circle cx="340.5" cy="86.9" r="0.42" fill="rgb(181,181,181)"/><circle cx="343.4" cy="68.5" r="0.42" fill="rgb(194,194,194)"/><circle cx="302.2" cy="130.6" r="0.42" fill="rgb(210,210,210)"/><circle cx="279.3" cy="122.2" r="0.42" fill="rgb(161,161,161)"/><circle cx="327.9" cy="106.2" r="0.42" fill="rgb(158,158,158)"/><circle cx="298.6" cy="134.2" r="0.42" fill="rgb(150,150,150)"/><circle cx="343.0" cy="69.6" r="0.42" fill="rgb(193,193,193)"/><circle cx="296.0" cy="127.1" r="0.42" fill="rgb(159,159,159)"/><circle cx="317.6" cy="77.3" r="0.42" fill="rgb(165,165,165)"/><circle cx="319.7" cy="90.1" r="0.42" fill="rgb(152,152,152)"/><circle cx="296.5" cy="132.5" r="0.42" fill="rgb(197,197,197)"/><circle cx="297.7" cy="112.6" r="0.42" fill="rgb(163,163,163)"/><circle cx="317.7" cy="78.4" r="0.42" fill="rgb(197,197,197)"/><circle cx="289.3" cy="87.5" r="0.42" fill="rgb(191,191,191)"/><circle cx="321.2" cy="98.0" r="0.42" fill="rgb(208,208,208)"/><circle cx="302.8" cy="98.3" r="0.42" fill="rgb(160,160,160)"/><circle cx="325.7" cy="109.7" r="0.42" fill="rgb(204,204,204)"/><circle cx="314.4" cy="98.8" r="0.42" fill="rgb(211,211,211)"/><circle cx="306.3" cy="100.9" r="0.42" fill="rgb(214,214,214)"/><circle cx="309.0" cy="105.3" r="0.42" fill="rgb(189,189,189)"/><circle cx="325.5" cy="88.8" r="0.42" fill="rgb(182,182,182)"/><circle cx="335.5" cy="99.2" r="0.42" fill="rgb(172,172,172)"/><circle cx="333.7" cy="99.9" r="0.42" fill="rgb(174,174,174)"/><circle cx="281.2" cy="133.2" r="0.42" fill="rgb(214,214,214)"/><circle cx="327.0" cy="80.4" r="0.42" fill="rgb(200,200,200)"/><circle cx="292.4" cy="87.7" r="0.42" fill="rgb(180,180,180)"/><circle cx="340.8" cy="84.9" r="0.42" fill="rgb(176,176,176)"/><circle cx="304.4" cy="97.2" r="0.42" fill="rgb(201,201,201)"/><circle cx="296.9" cy="85.3" r="0.42" fill="rgb(153,153,153)"/><circle cx="293.1" cy="112.2" r="0.42" fill="rgb(195,195,195)"/><circle cx="280.9" cy="126.3" r="0.42" fill="rgb(188,188,188)"/><circle cx="294.5" cy="111.2" r="0.42" fill="rgb(151,151,151)"/><circle cx="303.9" cy="95.2" r="0.42" fill="rgb(194,194,194)"/><circle cx="296.3" cy="124.2" r="0.42" fill="rgb(171,171,171)"/><circle cx="291.8" cy="118.5" r="0.42" fill="rgb(187,187,187)"/><circle cx="326.2" cy="89.4" r="0.42" fill="rgb(166,166,166)"/><circle cx="285.7" cy="127.4" r="0.42" fill="rgb(170,170,170)"/><circle cx="293.4" cy="127.1" r="0.42" fill="rgb(173,173,173)"/><circle cx="332.9" cy="68.0" r="0.42" fill="rgb(164,164,164)"/><circle cx="334.9" cy="70.9" r="0.42" fill="rgb(151,151,151)"/><circle cx="315.9" cy="75.0" r="0.42" fill="rgb(194,194,194)"/><circle cx="310.7" cy="78.8" r="0.42" fill="rgb(155,155,155)"/><circle cx="290.7" cy="121.6" r="0.42" fill="rgb(162,162,162)"/><circle cx="330.7" cy="79.7" r="0.42" fill="rgb(205,205,205)"/><circle cx="295.9" cy="121.4" r="0.42" fill="rgb(188,188,188)"/><circle cx="334.1" cy="97.3" r="0.42" fill="rgb(188,188,188)"/><circle cx="317.4" cy="75.8" r="0.42" fill="rgb(161,161,161)"/><circle cx="330.6" cy="84.4" r="0.42" fill="rgb(155,155,155)"/><circle cx="342.7" cy="79.9" r="0.42" fill="rgb(169,169,169)"/><circle cx="294.2" cy="109.7" r="0.42" fill="rgb(215,215,215)"/><circle cx="284.9" cy="87.1" r="0.42" fill="rgb(209,209,209)"/><circle cx="323.6" cy="101.7" r="0.42" fill="rgb(186,186,186)"/><circle cx="326.4" cy="78.2" r="0.42" fill="rgb(199,199,199)"/><circle cx="326.0" cy="73.0" r="0.42" fill="rgb(201,201,201)"/><circle cx="324.1" cy="88.9" r="0.42" fill="rgb(200,200,200)"/><circle cx="292.2" cy="109.6" r="0.42" fill="rgb(178,178,178)"/><circle cx="333.1" cy="86.2" r="0.42" fill="rgb(160,160,160)"/><circle cx="305.8" cy="89.3" r="0.42" fill="rgb(192,192,192)"/><circle cx="309.7" cy="104.2" r="0.42" fill="rgb(207,207,207)"/><circle cx="284.5" cy="91.9" r="0.42" fill="rgb(171,171,171)"/><circle cx="281.8" cy="109.2" r="0.42" fill="rgb(213,213,213)"/><circle cx="315.3" cy="82.4" r="0.42" fill="rgb(181,181,181)"/><circle cx="293.7" cy="119.9" r="0.42" fill="rgb(185,185,185)"/><circle cx="305.2" cy="88.9" r="0.42" fill="rgb(186,186,186)"/><circle cx="341.9" cy="73.8" r="0.42" fill="rgb(161,161,161)"/><circle cx="283.9" cy="110.8" r="0.42" fill="rgb(188,188,188)"/><circle cx="339.4" cy="95.8" r="0.42" fill="rgb(178,178,178)"/><circle cx="331.7" cy="83.1" r="0.42" fill="rgb(174,174,174)"/><circle cx="287.2" cy="114.3" r="0.42" fill="rgb(168,168,168)"/><circle cx="312.5" cy="89.4" r="0.42" fill="rgb(206,206,206)"/><circle cx="333.5" cy="70.4" r="0.42" fill="rgb(201,201,201)"/><circle cx="344.9" cy="75.0" r="0.42" fill="rgb(207,207,207)"/><circle cx="320.2" cy="108.5" r="0.42" fill="rgb(188,188,188)"/><circle cx="280.7" cy="83.4" r="0.42" fill="rgb(167,167,167)"/><circle cx="324.4" cy="75.8" r="0.42" fill="rgb(181,181,181)"/><circle cx="318.3" cy="108.1" r="0.42" fill="rgb(215,215,215)"/><circle cx="339.3" cy="84.5" r="0.42" fill="rgb(206,206,206)"/><circle cx="336.2" cy="88.6" r="0.42" fill="rgb(215,215,215)"/><circle cx="313.7" cy="84.7" r="0.42" fill="rgb(207,207,207)"/><circle cx="295.4" cy="113.5" r="0.42" fill="rgb(189,189,189)"/><circle cx="320.3" cy="88.1" r="0.42" fill="rgb(214,214,214)"/><circle cx="282.3" cy="130.4" r="0.42" fill="rgb(194,194,194)"/><circle cx="287.9" cy="133.9" r="0.42" fill="rgb(185,185,185)"/><circle cx="286.9" cy="113.8" r="0.42" fill="rgb(193,193,193)"/><circle cx="281.4" cy="130.5" r="0.42" fill="rgb(153,153,153)"/><circle cx="286.8" cy="80.7" r="0.42" fill="rgb(189,189,189)"/><circle cx="297.3" cy="120.7" r="0.42" fill="rgb(181,181,181)"/><circle cx="292.8" cy="132.3" r="0.42" fill="rgb(204,204,204)"/><circle cx="281.4" cy="129.4" r="0.42" fill="rgb(166,166,166)"/><circle cx="298.2" cy="92.3" r="0.42" fill="rgb(209,209,209)"/><circle cx="331.8" cy="87.1" r="0.42" fill="rgb(199,199,199)"/><circle cx="294.5" cy="116.8" r="0.42" fill="rgb(169,169,169)"/><circle cx="310.9" cy="79.7" r="0.42" fill="rgb(208,208,208)"/><circle cx="283.9" cy="81.9" r="0.42" fill="rgb(160,160,160)"/><circle cx="343.1" cy="77.9" r="0.42" fill="rgb(195,195,195)"/><circle cx="308.8" cy="101.7" r="0.42" fill="rgb(194,194,194)"/><circle cx="295.3" cy="112.9" r="0.42" fill="rgb(192,192,192)"/><circle cx="288.0" cy="104.9" r="0.42" fill="rgb(152,152,152)"/><circle cx="330.5" cy="106.2" r="0.42" fill="rgb(153,153,153)"/><circle cx="282.0" cy="107.0" r="0.42" fill="rgb(207,207,207)"/><circle cx="294.3" cy="128.3" r="0.42" fill="rgb(174,174,174)"/><circle cx="318.9" cy="88.5" r="0.42" fill="rgb(152,152,152)"/><circle cx="334.8" cy="70.3" r="0.42" fill="rgb(169,169,169)"/><circle cx="289.2" cy="129.2" r="0.42" fill="rgb(206,206,206)"/><circle cx="290.1" cy="117.2" r="0.42" fill="rgb(214,214,214)"/><circle cx="293.7" cy="124.7" r="0.42" fill="rgb(168,168,168)"/><circle cx="297.9" cy="108.7" r="0.42" fill="rgb(163,163,163)"/><circle cx="322.3" cy="99.1" r="0.42" fill="rgb(192,192,192)"/><circle cx="293.5" cy="124.3" r="0.42" fill="rgb(201,201,201)"/><circle cx="280.9" cy="109.9" r="0.42" fill="rgb(192,192,192)"/><circle cx="293.1" cy="100.1" r="0.42" fill="rgb(157,157,157)"/><circle cx="285.8" cy="99.6" r="0.42" fill="rgb(182,182,182)"/><circle cx="296.4" cy="120.5" r="0.42" fill="rgb(213,213,213)"/><circle cx="296.5" cy="96.7" r="0.42" fill="rgb(193,193,193)"/><circle cx="289.4" cy="128.5" r="0.42" fill="rgb(155,155,155)"/><circle cx="300.5" cy="105.5" r="0.42" fill="rgb(167,167,167)"/><circle cx="293.1" cy="94.2" r="0.42" fill="rgb(195,195,195)"/><circle cx="325.2" cy="80.0" r="0.42" fill="rgb(188,188,188)"/><circle cx="295.6" cy="128.8" r="0.42" fill="rgb(174,174,174)"/><circle cx="312.3" cy="101.6" r="0.42" fill="rgb(159,159,159)"/><circle cx="291.1" cy="117.1" r="0.42" fill="rgb(177,177,177)"/><circle cx="314.7" cy="79.7" r="0.42" fill="rgb(164,164,164)"/><circle cx="321.1" cy="79.6" r="0.42" fill="rgb(191,191,191)"/><circle cx="284.6" cy="87.5" r="0.42" fill="rgb(167,167,167)"/><circle cx="296.7" cy="95.1" r="0.42" fill="rgb(211,211,211)"/><circle cx="313.6" cy="97.1" r="0.42" fill="rgb(215,215,215)"/><circle cx="292.4" cy="94.7" r="0.42" fill="rgb(206,206,206)"/><circle cx="309.2" cy="96.4" r="0.42" fill="rgb(165,165,165)"/><circle cx="310.9" cy="77.6" r="0.42" fill="rgb(194,194,194)"/><circle cx="292.5" cy="114.9" r="0.42" fill="rgb(171,171,171)"/><circle cx="284.9" cy="79.7" r="0.42" fill="rgb(167,167,167)"/><circle cx="286.0" cy="97.5" r="0.42" fill="rgb(183,183,183)"/><circle cx="328.2" cy="70.7" r="0.42" fill="rgb(215,215,215)"/><circle cx="323.9" cy="99.9" r="0.42" fill="rgb(165,165,165)"/><circle cx="285.1" cy="103.1" r="0.42" fill="rgb(179,179,179)"/><circle cx="331.4" cy="84.9" r="0.42" fill="rgb(169,169,169)"/><circle cx="282.4" cy="85.7" r="0.42" fill="rgb(154,154,154)"/><circle cx="306.5" cy="84.3" r="0.42" fill="rgb(154,154,154)"/><circle cx="336.0" cy="78.7" r="0.42" fill="rgb(206,206,206)"/><circle cx="338.8" cy="94.0" r="0.42" fill="rgb(157,157,157)"/><circle cx="294.4" cy="119.1" r="0.42" fill="rgb(170,170,170)"/><circle cx="336.7" cy="79.0" r="0.42" fill="rgb(194,194,194)"/><circle cx="340.8" cy="74.7" r="0.42" fill="rgb(210,210,210)"/><circle cx="314.6" cy="100.2" r="0.42" fill="rgb(150,150,150)"/><circle cx="284.5" cy="128.7" r="0.42" fill="rgb(188,188,188)"/><circle cx="302.4" cy="118.8" r="0.42" fill="rgb(177,177,177)"/><circle cx="292.5" cy="87.3" r="0.42" fill="rgb(169,169,169)"/><circle cx="298.4" cy="86.0" r="0.42" fill="rgb(191,191,191)"/><circle cx="314.3" cy="81.2" r="0.42" fill="rgb(176,176,176)"/><circle cx="325.5" cy="101.8" r="0.42" fill="rgb(191,191,191)"/><circle cx="326.6" cy="83.0" r="0.42" fill="rgb(160,160,160)"/><circle cx="290.5" cy="103.1" r="0.42" fill="rgb(179,179,179)"/><circle cx="340.7" cy="71.6" r="0.42" fill="rgb(209,209,209)"/><circle cx="315.2" cy="104.3" r="0.42" fill="rgb(180,180,180)"/><circle cx="330.3" cy="98.4" r="0.42" fill="rgb(208,208,208)"/><circle cx="339.7" cy="68.1" r="0.42" fill="rgb(178,178,178)"/><circle cx="326.5" cy="89.2" r="0.42" fill="rgb(198,198,198)"/><circle cx="293.5" cy="91.6" r="0.42" fill="rgb(185,185,185)"/><circle cx="318.7" cy="104.5" r="0.42" fill="rgb(184,184,184)"/><circle cx="325.7" cy="85.8" r="0.42" fill="rgb(179,179,179)"/><circle cx="297.6" cy="137.0" r="0.42" fill="rgb(207,207,207)"/><circle cx="289.8" cy="84.6" r="0.42" fill="rgb(212,212,212)"/><circle cx="319.9" cy="79.0" r="0.42" fill="rgb(192,192,192)"/><circle cx="333.3" cy="67.1" r="0.42" fill="rgb(185,185,185)"/><circle cx="297.0" cy="110.4" r="0.42" fill="rgb(209,209,209)"/><circle cx="298.3" cy="117.5" r="0.42" fill="rgb(207,207,207)"/><circle cx="290.2" cy="133.7" r="0.42" fill="rgb(176,176,176)"/><circle cx="298.0" cy="136.0" r="0.42" fill="rgb(175,175,175)"/><circle cx="289.7" cy="108.3" r="0.42" fill="rgb(205,205,205)"/><circle cx="313.6" cy="80.3" r="0.42" fill="rgb(198,198,198)"/><circle cx="288.1" cy="79.8" r="0.42" fill="rgb(175,175,175)"/><circle cx="283.9" cy="124.3" r="0.42" fill="rgb(151,151,151)"/><circle cx="318.2" cy="86.7" r="0.42" fill="rgb(183,183,183)"/><circle cx="325.4" cy="84.2" r="0.42" fill="rgb(202,202,202)"/><circle cx="297.5" cy="87.4" r="0.42" fill="rgb(201,201,201)"/><circle cx="297.0" cy="90.6" r="0.42" fill="rgb(167,167,167)"/><circle cx="331.3" cy="108.0" r="0.42" fill="rgb(191,191,191)"/><circle cx="282.7" cy="127.4" r="0.42" fill="rgb(166,166,166)"/><circle cx="279.6" cy="130.0" r="0.42" fill="rgb(171,171,171)"/><circle cx="333.2" cy="75.5" r="0.42" fill="rgb(165,165,165)"/><circle cx="317.9" cy="101.8" r="0.42" fill="rgb(152,152,152)"/><circle cx="333.6" cy="86.7" r="0.42" fill="rgb(212,212,212)"/><circle cx="287.5" cy="106.5" r="0.42" fill="rgb(199,199,199)"/><circle cx="313.1" cy="102.9" r="0.42" fill="rgb(152,152,152)"/><circle cx="302.5" cy="82.2" r="0.42" fill="rgb(162,162,162)"/><circle cx="295.0" cy="86.4" r="0.42" fill="rgb(214,214,214)"/><circle cx="287.2" cy="79.3" r="0.42" fill="rgb(175,175,175)"/><circle cx="292.4" cy="111.0" r="0.42" fill="rgb(192,192,192)"/><circle cx="314.2" cy="110.8" r="0.42" fill="rgb(176,176,176)"/><circle cx="324.8" cy="75.7" r="0.42" fill="rgb(200,200,200)"/><circle cx="342.8" cy="78.5" r="0.42" fill="rgb(208,208,208)"/><circle cx="319.5" cy="101.4" r="0.42" fill="rgb(201,201,201)"/><circle cx="336.2" cy="79.6" r="0.42" fill="rgb(202,202,202)"/><circle cx="288.4" cy="125.0" r="0.42" fill="rgb(215,215,215)"/><circle cx="288.5" cy="91.5" r="0.42" fill="rgb(198,198,198)"/><circle cx="284.3" cy="126.4" r="0.42" fill="rgb(175,175,175)"/><circle cx="313.8" cy="80.9" r="0.42" fill="rgb(210,210,210)"/><circle cx="308.6" cy="79.6" r="0.42" fill="rgb(194,194,194)"/><circle cx="288.5" cy="107.2" r="0.42" fill="rgb(202,202,202)"/><circle cx="292.7" cy="105.7" r="0.42" fill="rgb(150,150,150)"/><circle cx="324.5" cy="69.2" r="0.42" fill="rgb(182,182,182)"/><circle cx="327.4" cy="87.4" r="0.42" fill="rgb(164,164,164)"/><circle cx="302.1" cy="85.2" r="0.42" fill="rgb(214,214,214)"/><circle cx="322.1" cy="73.7" r="0.42" fill="rgb(151,151,151)"/><circle cx="341.4" cy="80.0" r="0.42" fill="rgb(197,197,197)"/><circle cx="312.0" cy="96.9" r="0.42" fill="rgb(206,206,206)"/><circle cx="281.1" cy="129.5" r="0.42" fill="rgb(183,183,183)"/><circle cx="282.7" cy="129.3" r="0.42" fill="rgb(215,215,215)"/><circle cx="332.0" cy="94.3" r="0.42" fill="rgb(170,170,170)"/><circle cx="294.2" cy="89.6" r="0.42" fill="rgb(188,188,188)"/><circle cx="322.0" cy="94.6" r="0.42" fill="rgb(154,154,154)"/><circle cx="291.4" cy="132.0" r="0.42" fill="rgb(175,175,175)"/><circle cx="296.6" cy="110.3" r="0.42" fill="rgb(153,153,153)"/><circle cx="283.7" cy="81.3" r="0.42" fill="rgb(207,207,207)"/><circle cx="299.8" cy="121.4" r="0.42" fill="rgb(199,199,199)"/><circle cx="333.1" cy="67.8" r="0.42" fill="rgb(151,151,151)"/><circle cx="324.1" cy="75.0" r="0.42" fill="rgb(182,182,182)"/><circle cx="318.9" cy="93.3" r="0.42" fill="rgb(188,188,188)"/><circle cx="297.2" cy="123.7" r="0.42" fill="rgb(174,174,174)"/><circle cx="284.8" cy="111.5" r="0.42" fill="rgb(199,199,199)"/><circle cx="291.9" cy="128.1" r="0.42" fill="rgb(197,197,197)"/><circle cx="285.5" cy="128.0" r="0.42" fill="rgb(208,208,208)"/><circle cx="331.0" cy="86.9" r="0.42" fill="rgb(179,179,179)"/><circle cx="314.6" cy="76.5" r="0.42" fill="rgb(178,178,178)"/><circle cx="302.7" cy="115.3" r="0.42" fill="rgb(171,171,171)"/><circle cx="329.6" cy="82.3" r="0.42" fill="rgb(151,151,151)"/><circle cx="312.6" cy="95.2" r="0.42" fill="rgb(176,176,176)"/><circle cx="288.0" cy="132.8" r="0.42" fill="rgb(190,190,190)"/><circle cx="327.3" cy="97.0" r="0.42" fill="rgb(210,210,210)"/><circle cx="282.4" cy="126.7" r="0.42" fill="rgb(172,172,172)"/><circle cx="308.8" cy="106.0" r="0.42" fill="rgb(204,204,204)"/><circle cx="294.3" cy="120.0" r="0.42" fill="rgb(199,199,199)"/><circle cx="300.0" cy="121.2" r="0.42" fill="rgb(191,191,191)"/><circle cx="285.0" cy="83.9" r="0.42" fill="rgb(160,160,160)"/><circle cx="293.0" cy="130.9" r="0.42" fill="rgb(196,196,196)"/><circle cx="313.4" cy="107.3" r="0.42" fill="rgb(210,210,210)"/><circle cx="281.4" cy="133.2" r="0.42" fill="rgb(182,182,182)"/><circle cx="332.9" cy="77.0" r="0.42" fill="rgb(211,211,211)"/><circle cx="284.4" cy="117.9" r="0.42" fill="rgb(190,190,190)"/><circle cx="286.9" cy="117.9" r="0.42" fill="rgb(191,191,191)"/><circle cx="291.7" cy="115.9" r="0.42" fill="rgb(172,172,172)"/><circle cx="292.3" cy="111.0" r="0.42" fill="rgb(154,154,154)"/><circle cx="295.5" cy="132.9" r="0.42" fill="rgb(183,183,183)"/><circle cx="312.4" cy="94.4" r="0.42" fill="rgb(204,204,204)"/><circle cx="312.2" cy="80.3" r="0.42" fill="rgb(152,152,152)"/><circle cx="326.7" cy="106.2" r="0.42" fill="rgb(209,209,209)"/><circle cx="288.8" cy="120.8" r="0.42" fill="rgb(163,163,163)"/><circle cx="329.9" cy="98.9" r="0.42" fill="rgb(211,211,211)"/><circle cx="288.3" cy="125.0" r="0.42" fill="rgb(209,209,209)"/><circle cx="286.8" cy="131.8" r="0.42" fill="rgb(179,179,179)"/><circle cx="295.6" cy="91.2" r="0.42" fill="rgb(201,201,201)"/><circle cx="328.6" cy="92.0" r="0.42" fill="rgb(212,212,212)"/><circle cx="292.0" cy="117.5" r="0.42" fill="rgb(198,198,198)"/><circle cx="302.9" cy="132.6" r="0.42" fill="rgb(179,179,179)"/><circle cx="289.0" cy="118.5" r="0.42" fill="rgb(168,168,168)"/><circle cx="299.6" cy="101.5" r="0.42" fill="rgb(171,171,171)"/><circle cx="287.1" cy="124.5" r="0.42" fill="rgb(161,161,161)"/><circle cx="328.5" cy="83.3" r="0.42" fill="rgb(212,212,212)"/><circle cx="303.8" cy="119.1" r="0.42" fill="rgb(197,197,197)"/><circle cx="278.8" cy="88.0" r="0.42" fill="rgb(187,187,187)"/><circle cx="292.7" cy="94.8" r="0.42" fill="rgb(152,152,152)"/><circle cx="280.0" cy="128.2" r="0.42" fill="rgb(172,172,172)"/><circle cx="290.7" cy="97.8" r="0.42" fill="rgb(181,181,181)"/><circle cx="325.4" cy="85.9" r="0.42" fill="rgb(198,198,198)"/><circle cx="319.3" cy="98.5" r="0.42" fill="rgb(211,211,211)"/><circle cx="336.1" cy="102.3" r="0.42" fill="rgb(187,187,187)"/><circle cx="307.3" cy="102.1" r="0.42" fill="rgb(164,164,164)"/><circle cx="294.0" cy="105.4" r="0.42" fill="rgb(160,160,160)"/><circle cx="316.5" cy="100.6" r="0.42" fill="rgb(162,162,162)"/><circle cx="301.3" cy="95.0" r="0.42" fill="rgb(186,186,186)"/><circle cx="278.4" cy="116.6" r="0.42" fill="rgb(174,174,174)"/><circle cx="286.2" cy="110.0" r="0.42" fill="rgb(158,158,158)"/><circle cx="318.5" cy="108.6" r="0.42" fill="rgb(213,213,213)"/><circle cx="290.0" cy="121.9" r="0.42" fill="rgb(196,196,196)"/><circle cx="286.5" cy="107.9" r="0.42" fill="rgb(175,175,175)"/><circle cx="297.7" cy="124.8" r="0.42" fill="rgb(180,180,180)"/><circle cx="327.0" cy="90.8" r="0.42" fill="rgb(169,169,169)"/><circle cx="332.2" cy="95.6" r="0.42" fill="rgb(214,214,214)"/><circle cx="318.7" cy="86.1" r="0.42" fill="rgb(214,214,214)"/><circle cx="289.8" cy="84.4" r="0.42" fill="rgb(173,173,173)"/><circle cx="281.2" cy="83.1" r="0.42" fill="rgb(163,163,163)"/><circle cx="292.4" cy="120.4" r="0.42" fill="rgb(173,173,173)"/><circle cx="300.5" cy="129.8" r="0.42" fill="rgb(170,170,170)"/><circle cx="278.8" cy="86.9" r="0.42" fill="rgb(205,205,205)"/><circle cx="285.4" cy="86.2" r="0.42" fill="rgb(207,207,207)"/><circle cx="286.0" cy="130.9" r="0.42" fill="rgb(196,196,196)"/><circle cx="284.3" cy="108.8" r="0.42" fill="rgb(154,154,154)"/><circle cx="312.0" cy="108.1" r="0.42" fill="rgb(170,170,170)"/><circle cx="319.6" cy="84.3" r="0.42" fill="rgb(155,155,155)"/><circle cx="297.8" cy="124.4" r="0.42" fill="rgb(175,175,175)"/><circle cx="336.9" cy="103.1" r="0.42" fill="rgb(203,203,203)"/><circle cx="287.5" cy="97.9" r="0.42" fill="rgb(179,179,179)"/><circle cx="284.5" cy="94.0" r="0.42" fill="rgb(152,152,152)"/><circle cx="298.8" cy="85.8" r="0.42" fill="rgb(156,156,156)"/><circle cx="294.7" cy="113.4" r="0.42" fill="rgb(160,160,160)"/><circle cx="318.7" cy="104.7" r="0.42" fill="rgb(178,178,178)"/><circle cx="323.1" cy="93.0" r="0.42" fill="rgb(156,156,156)"/><circle cx="306.6" cy="111.5" r="0.42" fill="rgb(190,190,190)"/><circle cx="280.0" cy="88.2" r="0.42" fill="rgb(204,204,204)"/><circle cx="325.7" cy="79.6" r="0.42" fill="rgb(208,208,208)"/><circle cx="314.3" cy="85.4" r="0.42" fill="rgb(158,158,158)"/><circle cx="288.1" cy="129.8" r="0.42" fill="rgb(191,191,191)"/><circle cx="335.8" cy="79.0" r="0.42" fill="rgb(184,184,184)"/><circle cx="281.6" cy="121.5" r="0.42" fill="rgb(201,201,201)"/><circle cx="297.6" cy="125.4" r="0.42" fill="rgb(215,215,215)"/><circle cx="302.8" cy="93.3" r="0.42" fill="rgb(164,164,164)"/><circle cx="283.4" cy="134.6" r="0.42" fill="rgb(177,177,177)"/><circle cx="338.8" cy="97.4" r="0.42" fill="rgb(171,171,171)"/><circle cx="310.7" cy="107.5" r="0.42" fill="rgb(188,188,188)"/><circle cx="278.3" cy="85.9" r="0.42" fill="rgb(157,157,157)"/><circle cx="281.9" cy="87.4" r="0.42" fill="rgb(177,177,177)"/><circle cx="290.8" cy="122.5" r="0.42" fill="rgb(212,212,212)"/><circle cx="324.9" cy="76.9" r="0.42" fill="rgb(197,197,197)"/><circle cx="284.3" cy="119.6" r="0.42" fill="rgb(172,172,172)"/><circle cx="299.2" cy="113.6" r="0.42" fill="rgb(150,150,150)"/><circle cx="289.3" cy="115.4" r="0.42" fill="rgb(212,212,212)"/><circle cx="326.9" cy="107.4" r="0.42" fill="rgb(193,193,193)"/><circle cx="309.5" cy="88.2" r="0.42" fill="rgb(189,189,189)"/><circle cx="289.9" cy="96.9" r="0.42" fill="rgb(163,163,163)"/><circle cx="290.0" cy="110.6" r="0.42" fill="rgb(187,187,187)"/><circle cx="336.9" cy="93.2" r="0.42" fill="rgb(180,180,180)"/><circle cx="322.3" cy="89.8" r="0.42" fill="rgb(180,180,180)"/><circle cx="284.9" cy="129.1" r="0.42" fill="rgb(174,174,174)"/><circle cx="295.2" cy="133.5" r="0.42" fill="rgb(207,207,207)"/><circle cx="311.8" cy="112.9" r="0.42" fill="rgb(189,189,189)"/><circle cx="292.3" cy="135.5" r="0.42" fill="rgb(152,152,152)"/><circle cx="324.4" cy="96.1" r="0.42" fill="rgb(203,203,203)"/><circle cx="281.2" cy="121.1" r="0.42" fill="rgb(172,172,172)"/><circle cx="299.2" cy="107.7" r="0.42" fill="rgb(196,196,196)"/><circle cx="345.1" cy="70.9" r="0.42" fill="rgb(173,173,173)"/><circle cx="332.0" cy="80.5" r="0.42" fill="rgb(161,161,161)"/><circle cx="321.0" cy="74.4" r="0.42" fill="rgb(182,182,182)"/><circle cx="343.4" cy="82.4" r="0.42" fill="rgb(211,211,211)"/><circle cx="278.4" cy="117.3" r="0.42" fill="rgb(185,185,185)"/><circle cx="307.9" cy="98.1" r="0.42" fill="rgb(175,175,175)"/><circle cx="289.3" cy="83.0" r="0.42" fill="rgb(172,172,172)"/><circle cx="301.4" cy="133.6" r="0.42" fill="rgb(166,166,166)"/><circle cx="286.2" cy="95.1" r="0.42" fill="rgb(155,155,155)"/><circle cx="285.8" cy="79.2" r="0.42" fill="rgb(163,163,163)"/><circle cx="299.2" cy="109.4" r="0.42" fill="rgb(155,155,155)"/><circle cx="292.6" cy="109.7" r="0.42" fill="rgb(194,194,194)"/><circle cx="292.2" cy="124.1" r="0.42" fill="rgb(209,209,209)"/><circle cx="282.1" cy="119.6" r="0.42" fill="rgb(204,204,204)"/><circle cx="291.1" cy="133.6" r="0.42" fill="rgb(212,212,212)"/><circle cx="303.3" cy="85.1" r="0.42" fill="rgb(186,186,186)"/><circle cx="282.6" cy="112.0" r="0.42" fill="rgb(209,209,209)"/><circle cx="310.0" cy="82.5" r="0.42" fill="rgb(174,174,174)"/><circle cx="303.9" cy="108.8" r="0.42" fill="rgb(194,194,194)"/><circle cx="312.2" cy="99.4" r="0.42" fill="rgb(183,183,183)"/><circle cx="278.1" cy="85.2" r="0.42" fill="rgb(188,188,188)"/><circle cx="290.6" cy="127.4" r="0.42" fill="rgb(199,199,199)"/><circle cx="316.4" cy="109.1" r="0.42" fill="rgb(159,159,159)"/><circle cx="283.1" cy="125.5" r="0.42" fill="rgb(189,189,189)"/><circle cx="293.0" cy="112.4" r="0.42" fill="rgb(180,180,180)"/><circle cx="330.2" cy="86.4" r="0.42" fill="rgb(186,186,186)"/><circle cx="296.3" cy="98.3" r="0.42" fill="rgb(165,165,165)"/><circle cx="329.5" cy="73.0" r="0.42" fill="rgb(157,157,157)"/><circle cx="303.0" cy="114.8" r="0.42" fill="rgb(188,188,188)"/><circle cx="293.9" cy="132.5" r="0.42" fill="rgb(196,196,196)"/><circle cx="278.4" cy="111.8" r="0.42" fill="rgb(206,206,206)"/><circle cx="294.9" cy="92.3" r="0.42" fill="rgb(189,189,189)"/><circle cx="305.6" cy="101.6" r="0.42" fill="rgb(215,215,215)"/><circle cx="296.8" cy="116.3" r="0.42" fill="rgb(158,158,158)"/><circle cx="297.5" cy="119.8" r="0.42" fill="rgb(164,164,164)"/><circle cx="303.3" cy="112.4" r="0.42" fill="rgb(161,161,161)"/><circle cx="324.9" cy="77.3" r="0.42" fill="rgb(174,174,174)"/><circle cx="281.6" cy="124.3" r="0.42" fill="rgb(211,211,211)"/><circle cx="287.3" cy="86.0" r="0.42" fill="rgb(201,201,201)"/><circle cx="287.9" cy="84.3" r="0.42" fill="rgb(156,156,156)"/><circle cx="281.8" cy="79.1" r="0.42" fill="rgb(200,200,200)"/><circle cx="286.1" cy="131.7" r="0.42" fill="rgb(199,199,199)"/><circle cx="285.1" cy="107.0" r="0.42" fill="rgb(192,192,192)"/><circle cx="328.8" cy="78.0" r="0.42" fill="rgb(215,215,215)"/><circle cx="314.1" cy="89.7" r="0.42" fill="rgb(168,168,168)"/><circle cx="286.2" cy="91.1" r="0.42" fill="rgb(155,155,155)"/><circle cx="324.1" cy="70.8" r="0.42" fill="rgb(203,203,203)"/><circle cx="309.9" cy="105.4" r="0.42" fill="rgb(210,210,210)"/><circle cx="310.8" cy="90.1" r="0.42" fill="rgb(160,160,160)"/><circle cx="319.4" cy="105.1" r="0.42" fill="rgb(215,215,215)"/><circle cx="340.8" cy="67.1" r="0.42" fill="rgb(168,168,168)"/><circle cx="329.1" cy="74.5" r="0.42" fill="rgb(165,165,165)"/><circle cx="280.4" cy="86.6" r="0.42" fill="rgb(203,203,203)"/><circle cx="278.4" cy="82.6" r="0.42" fill="rgb(182,182,182)"/><circle cx="328.8" cy="107.6" r="0.42" fill="rgb(199,199,199)"/><circle cx="278.6" cy="122.2" r="0.42" fill="rgb(178,178,178)"/><circle cx="304.0" cy="90.3" r="0.42" fill="rgb(151,151,151)"/><circle cx="330.8" cy="76.1" r="0.42" fill="rgb(186,186,186)"/><circle cx="304.4" cy="111.8" r="0.42" fill="rgb(198,198,198)"/><circle cx="281.8" cy="86.1" r="0.42" fill="rgb(184,184,184)"/><circle cx="324.2" cy="110.0" r="0.42" fill="rgb(196,196,196)"/><circle cx="289.6" cy="118.8" r="0.42" fill="rgb(194,194,194)"/><circle cx="340.4" cy="79.6" r="0.42" fill="rgb(199,199,199)"/><circle cx="283.0" cy="131.9" r="0.42" fill="rgb(213,213,213)"/><circle cx="335.9" cy="100.8" r="0.42" fill="rgb(180,180,180)"/><circle cx="293.0" cy="137.5" r="0.42" fill="rgb(199,199,199)"/><circle cx="291.6" cy="126.6" r="0.42" fill="rgb(191,191,191)"/><circle cx="292.5" cy="114.6" r="0.42" fill="rgb(161,161,161)"/><circle cx="317.0" cy="97.6" r="0.42" fill="rgb(196,196,196)"/><circle cx="283.5" cy="87.4" r="0.42" fill="rgb(189,189,189)"/><circle cx="291.6" cy="106.2" r="0.42" fill="rgb(204,204,204)"/><circle cx="282.6" cy="85.7" r="0.42" fill="rgb(160,160,160)"/><circle cx="323.2" cy="83.1" r="0.42" fill="rgb(212,212,212)"/><circle cx="286.7" cy="111.9" r="0.42" fill="rgb(180,180,180)"/><circle cx="328.0" cy="78.9" r="0.42" fill="rgb(153,153,153)"/><circle cx="341.6" cy="81.1" r="0.42" fill="rgb(201,201,201)"/><circle cx="339.6" cy="93.5" r="0.42" fill="rgb(185,185,185)"/><circle cx="278.1" cy="84.1" r="0.42" fill="rgb(203,203,203)"/><circle cx="290.4" cy="118.8" r="0.42" fill="rgb(150,150,150)"/><circle cx="302.7" cy="131.0" r="0.42" fill="rgb(184,184,184)"/><circle cx="309.6" cy="97.4" r="0.42" fill="rgb(188,188,188)"/><circle cx="313.7" cy="104.1" r="0.42" fill="rgb(212,212,212)"/><circle cx="324.3" cy="77.6" r="0.42" fill="rgb(161,161,161)"/><circle cx="287.6" cy="87.2" r="0.42" fill="rgb(159,159,159)"/><circle cx="341.8" cy="79.8" r="0.42" fill="rgb(203,203,203)"/><circle cx="295.1" cy="87.0" r="0.42" fill="rgb(194,194,194)"/><circle cx="329.5" cy="94.2" r="0.42" fill="rgb(161,161,161)"/><circle cx="285.8" cy="79.4" r="0.42" fill="rgb(182,182,182)"/><circle cx="295.6" cy="86.7" r="0.42" fill="rgb(162,162,162)"/><circle cx="326.9" cy="67.1" r="0.42" fill="rgb(206,206,206)"/><circle cx="291.6" cy="120.7" r="0.42" fill="rgb(212,212,212)"/><circle cx="319.7" cy="73.4" r="0.42" fill="rgb(182,182,182)"/><circle cx="314.9" cy="100.8" r="0.42" fill="rgb(172,172,172)"/><circle cx="282.6" cy="77.7" r="0.42" fill="rgb(162,162,162)"/><circle cx="298.1" cy="94.5" r="0.42" fill="rgb(204,204,204)"/><circle cx="300.3" cy="101.1" r="0.42" fill="rgb(201,201,201)"/><circle cx="303.7" cy="105.7" r="0.42" fill="rgb(181,181,181)"/><circle cx="315.6" cy="107.9" r="0.42" fill="rgb(167,167,167)"/><circle cx="290.3" cy="126.2" r="0.42" fill="rgb(174,174,174)"/><circle cx="338.8" cy="69.6" r="0.42" fill="rgb(152,152,152)"/><circle cx="303.4" cy="107.5" r="0.42" fill="rgb(205,205,205)"/><circle cx="326.8" cy="103.8" r="0.42" fill="rgb(157,157,157)"/><circle cx="283.0" cy="84.7" r="0.42" fill="rgb(166,166,166)"/><circle cx="331.2" cy="88.6" r="0.42" fill="rgb(209,209,209)"/><circle cx="294.1" cy="129.4" r="0.42" fill="rgb(214,214,214)"/><circle cx="301.9" cy="95.7" r="0.42" fill="rgb(193,193,193)"/><circle cx="320.8" cy="103.6" r="0.42" fill="rgb(177,177,177)"/><circle cx="282.6" cy="91.3" r="0.42" fill="rgb(177,177,177)"/><circle cx="283.0" cy="82.6" r="0.42" fill="rgb(215,215,215)"/><circle cx="329.2" cy="75.3" r="0.42" fill="rgb(190,190,190)"/><circle cx="313.5" cy="80.4" r="0.42" fill="rgb(205,205,205)"/><circle cx="282.1" cy="107.3" r="0.42" fill="rgb(204,204,204)"/><circle cx="287.4" cy="94.1" r="0.42" fill="rgb(202,202,202)"/><circle cx="332.8" cy="76.5" r="0.42" fill="rgb(189,189,189)"/><circle cx="344.1" cy="72.3" r="0.42" fill="rgb(183,183,183)"/><circle cx="299.5" cy="131.6" r="0.42" fill="rgb(179,179,179)"/><circle cx="322.6" cy="90.3" r="0.42" fill="rgb(178,178,178)"/><circle cx="329.5" cy="78.4" r="0.42" fill="rgb(154,154,154)"/><circle cx="329.0" cy="69.6" r="0.42" fill="rgb(151,151,151)"/><circle cx="294.3" cy="116.7" r="0.42" fill="rgb(167,167,167)"/><circle cx="292.4" cy="90.5" r="0.42" fill="rgb(168,168,168)"/><circle cx="296.7" cy="135.5" r="0.42" fill="rgb(154,154,154)"/><circle cx="308.8" cy="78.6" r="0.42" fill="rgb(191,191,191)"/><circle cx="330.5" cy="80.7" r="0.42" fill="rgb(160,160,160)"/><circle cx="317.9" cy="105.2" r="0.42" fill="rgb(191,191,191)"/><circle cx="317.9" cy="109.3" r="0.42" fill="rgb(169,169,169)"/><circle cx="311.3" cy="111.8" r="0.42" fill="rgb(177,177,177)"/><circle cx="303.1" cy="128.3" r="0.42" fill="rgb(195,195,195)"/><circle cx="290.6" cy="100.9" r="0.42" fill="rgb(162,162,162)"/><circle cx="289.3" cy="110.1" r="0.42" fill="rgb(175,175,175)"/><circle cx="303.2" cy="114.3" r="0.42" fill="rgb(190,190,190)"/><circle cx="290.3" cy="132.2" r="0.42" fill="rgb(158,158,158)"/><circle cx="284.5" cy="128.2" r="0.42" fill="rgb(200,200,200)"/><circle cx="335.2" cy="67.5" r="0.42" fill="rgb(184,184,184)"/><circle cx="296.8" cy="128.9" r="0.42" fill="rgb(152,152,152)"/><circle cx="311.8" cy="105.5" r="0.42" fill="rgb(197,197,197)"/><circle cx="289.1" cy="106.5" r="0.42" fill="rgb(205,205,205)"/><circle cx="299.2" cy="118.0" r="0.42" fill="rgb(178,178,178)"/><circle cx="328.9" cy="99.8" r="0.42" fill="rgb(215,215,215)"/><circle cx="300.1" cy="93.8" r="0.42" fill="rgb(205,205,205)"/><circle cx="319.3" cy="75.7" r="0.42" fill="rgb(157,157,157)"/><circle cx="293.1" cy="112.7" r="0.42" fill="rgb(162,162,162)"/><circle cx="319.8" cy="72.2" r="0.42" fill="rgb(215,215,215)"/><circle cx="299.7" cy="108.3" r="0.42" fill="rgb(199,199,199)"/><circle cx="288.9" cy="92.3" r="0.42" fill="rgb(166,166,166)"/><circle cx="279.1" cy="128.7" r="0.42" fill="rgb(166,166,166)"/><circle cx="282.9" cy="112.2" r="0.42" fill="rgb(194,194,194)"/><circle cx="327.9" cy="83.7" r="0.42" fill="rgb(195,195,195)"/><circle cx="312.5" cy="100.5" r="0.42" fill="rgb(188,188,188)"/><circle cx="331.5" cy="65.9" r="0.42" fill="rgb(212,212,212)"/><circle cx="336.1" cy="94.6" r="0.42" fill="rgb(195,195,195)"/><circle cx="313.5" cy="84.1" r="0.42" fill="rgb(205,205,205)"/><circle cx="292.2" cy="134.7" r="0.42" fill="rgb(167,167,167)"/><circle cx="283.4" cy="83.7" r="0.42" fill="rgb(152,152,152)"/><circle cx="337.9" cy="83.7" r="0.42" fill="rgb(152,152,152)"/><circle cx="295.1" cy="103.3" r="0.42" fill="rgb(176,176,176)"/><circle cx="295.0" cy="130.2" r="0.42" fill="rgb(162,162,162)"/><circle cx="334.8" cy="90.5" r="0.42" fill="rgb(167,167,167)"/><circle cx="297.1" cy="132.1" r="0.42" fill="rgb(159,159,159)"/><circle cx="341.2" cy="82.3" r="0.42" fill="rgb(199,199,199)"/><circle cx="299.6" cy="112.3" r="0.42" fill="rgb(211,211,211)"/><circle cx="287.0" cy="128.3" r="0.42" fill="rgb(192,192,192)"/><circle cx="338.6" cy="87.5" r="0.42" fill="rgb(173,173,173)"/><circle cx="321.0" cy="71.2" r="0.42" fill="rgb(192,192,192)"/><circle cx="330.1" cy="82.5" r="0.42" fill="rgb(182,182,182)"/><circle cx="299.5" cy="131.1" r="0.42" fill="rgb(173,173,173)"/><circle cx="298.0" cy="134.1" r="0.42" fill="rgb(189,189,189)"/><circle cx="311.5" cy="92.6" r="0.42" fill="rgb(193,193,193)"/><circle cx="289.4" cy="120.2" r="0.42" fill="rgb(201,201,201)"/><circle cx="340.0" cy="85.2" r="0.42" fill="rgb(184,184,184)"/><circle cx="333.9" cy="87.8" r="0.42" fill="rgb(172,172,172)"/><circle cx="281.0" cy="125.1" r="0.42" fill="rgb(214,214,214)"/><circle cx="281.5" cy="121.2" r="0.42" fill="rgb(194,194,194)"/><circle cx="294.5" cy="119.0" r="0.42" fill="rgb(150,150,150)"/><circle cx="284.1" cy="104.0" r="0.42" fill="rgb(162,162,162)"/><circle cx="287.6" cy="79.8" r="0.42" fill="rgb(208,208,208)"/><circle cx="279.4" cy="108.9" r="0.42" fill="rgb(172,172,172)"/><circle cx="316.6" cy="74.8" r="0.42" fill="rgb(165,165,165)"/><circle cx="323.8" cy="78.0" r="0.42" fill="rgb(191,191,191)"/><circle cx="288.1" cy="119.7" r="0.42" fill="rgb(194,194,194)"/><circle cx="308.5" cy="111.8" r="0.42" fill="rgb(198,198,198)"/><circle cx="279.4" cy="113.8" r="0.42" fill="rgb(208,208,208)"/><circle cx="311.9" cy="103.2" r="0.42" fill="rgb(185,185,185)"/><circle cx="330.5" cy="77.7" r="0.42" fill="rgb(166,166,166)"/><circle cx="284.5" cy="114.7" r="0.42" fill="rgb(174,174,174)"/><circle cx="334.3" cy="69.1" r="0.42" fill="rgb(166,166,166)"/><circle cx="282.5" cy="130.6" r="0.42" fill="rgb(153,153,153)"/><circle cx="292.2" cy="119.6" r="0.42" fill="rgb(181,181,181)"/><circle cx="327.8" cy="70.3" r="0.42" fill="rgb(213,213,213)"/><circle cx="313.7" cy="93.0" r="0.42" fill="rgb(185,185,185)"/><circle cx="311.3" cy="82.5" r="0.42" fill="rgb(164,164,164)"/><circle cx="300.6" cy="130.2" r="0.42" fill="rgb(150,150,150)"/><circle cx="279.4" cy="123.7" r="0.42" fill="rgb(152,152,152)"/><circle cx="279.2" cy="121.1" r="0.42" fill="rgb(198,198,198)"/><circle cx="295.9" cy="130.4" r="0.42" fill="rgb(179,179,179)"/><circle cx="289.7" cy="129.2" r="0.42" fill="rgb(203,203,203)"/><circle cx="325.3" cy="87.3" r="0.42" fill="rgb(169,169,169)"/><circle cx="300.9" cy="106.1" r="0.42" fill="rgb(209,209,209)"/><circle cx="321.5" cy="105.4" r="0.42" fill="rgb(182,182,182)"/><circle cx="286.8" cy="129.1" r="0.42" fill="rgb(169,169,169)"/><circle cx="315.7" cy="105.6" r="0.42" fill="rgb(150,150,150)"/><circle cx="294.8" cy="123.4" r="0.42" fill="rgb(165,165,165)"/><circle cx="292.4" cy="109.4" r="0.42" fill="rgb(172,172,172)"/><circle cx="330.0" cy="75.5" r="0.42" fill="rgb(202,202,202)"/><circle cx="284.1" cy="110.5" r="0.42" fill="rgb(173,173,173)"/><circle cx="323.6" cy="101.3" r="0.42" fill="rgb(157,157,157)"/><circle cx="328.0" cy="109.4" r="0.42" fill="rgb(211,211,211)"/><circle cx="297.9" cy="113.5" r="0.42" fill="rgb(205,205,205)"/><circle cx="287.4" cy="81.9" r="0.42" fill="rgb(164,164,164)"/><circle cx="298.7" cy="131.6" r="0.42" fill="rgb(215,215,215)"/><circle cx="316.9" cy="78.8" r="0.42" fill="rgb(170,170,170)"/><circle cx="315.0" cy="105.0" r="0.42" fill="rgb(173,173,173)"/><circle cx="293.6" cy="136.1" r="0.42" fill="rgb(155,155,155)"/><circle cx="318.4" cy="92.2" r="0.42" fill="rgb(206,206,206)"/><circle cx="283.2" cy="122.7" r="0.42" fill="rgb(180,180,180)"/><circle cx="337.5" cy="77.5" r="0.42" fill="rgb(208,208,208)"/><circle cx="301.9" cy="124.4" r="0.42" fill="rgb(166,166,166)"/><circle cx="314.0" cy="98.5" r="0.42" fill="rgb(194,194,194)"/><circle cx="330.4" cy="84.3" r="0.42" fill="rgb(151,151,151)"/><circle cx="326.8" cy="80.5" r="0.42" fill="rgb(187,187,187)"/><circle cx="342.0" cy="68.7" r="0.42" fill="rgb(200,200,200)"/><circle cx="286.7" cy="121.4" r="0.42" fill="rgb(171,171,171)"/><circle cx="289.4" cy="105.6" r="0.42" fill="rgb(168,168,168)"/><circle cx="298.5" cy="115.5" r="0.42" fill="rgb(155,155,155)"/><circle cx="305.6" cy="102.6" r="0.42" fill="rgb(213,213,213)"/><circle cx="289.8" cy="94.9" r="0.42" fill="rgb(179,179,179)"/><circle cx="322.9" cy="70.0" r="0.42" fill="rgb(158,158,158)"/><circle cx="289.8" cy="84.4" r="0.42" fill="rgb(185,185,185)"/><circle cx="324.4" cy="71.6" r="0.42" fill="rgb(190,190,190)"/><circle cx="329.1" cy="74.4" r="0.42" fill="rgb(173,173,173)"/><circle cx="334.8" cy="102.4" r="0.42" fill="rgb(177,177,177)"/><circle cx="317.2" cy="94.0" r="0.42" fill="rgb(186,186,186)"/><circle cx="283.6" cy="129.3" r="0.42" fill="rgb(206,206,206)"/><circle cx="294.6" cy="110.6" r="0.42" fill="rgb(170,170,170)"/><circle cx="314.3" cy="78.4" r="0.42" fill="rgb(160,160,160)"/><circle cx="283.6" cy="80.4" r="0.42" fill="rgb(207,207,207)"/><circle cx="334.3" cy="65.1" r="0.42" fill="rgb(184,184,184)"/><circle cx="304.3" cy="112.3" r="0.42" fill="rgb(192,192,192)"/><circle cx="310.4" cy="106.4" r="0.42" fill="rgb(174,174,174)"/><circle cx="327.0" cy="106.2" r="0.42" fill="rgb(158,158,158)"/><circle cx="332.6" cy="103.1" r="0.42" fill="rgb(209,209,209)"/><circle cx="306.0" cy="104.0" r="0.42" fill="rgb(162,162,162)"/><circle cx="288.3" cy="115.8" r="0.42" fill="rgb(188,188,188)"/><circle cx="299.6" cy="95.9" r="0.42" fill="rgb(195,195,195)"/><circle cx="327.9" cy="82.5" r="0.42" fill="rgb(207,207,207)"/><circle cx="287.0" cy="86.9" r="0.42" fill="rgb(183,183,183)"/><circle cx="294.3" cy="122.4" r="0.42" fill="rgb(202,202,202)"/><circle cx="344.2" cy="77.7" r="0.42" fill="rgb(203,203,203)"/><circle cx="295.1" cy="132.0" r="0.42" fill="rgb(154,154,154)"/><circle cx="306.8" cy="94.3" r="0.42" fill="rgb(203,203,203)"/><circle cx="335.6" cy="65.5" r="0.42" fill="rgb(172,172,172)"/><circle cx="337.4" cy="98.9" r="0.42" fill="rgb(210,210,210)"/><circle cx="301.5" cy="103.6" r="0.42" fill="rgb(202,202,202)"/><circle cx="297.4" cy="115.9" r="0.42" fill="rgb(207,207,207)"/><circle cx="279.8" cy="115.7" r="0.42" fill="rgb(188,188,188)"/><circle cx="303.5" cy="125.2" r="0.42" fill="rgb(152,152,152)"/><circle cx="296.8" cy="87.7" r="0.42" fill="rgb(174,174,174)"/><circle cx="279.8" cy="117.0" r="0.42" fill="rgb(154,154,154)"/><circle cx="296.1" cy="107.2" r="0.42" fill="rgb(163,163,163)"/><circle cx="292.1" cy="113.0" r="0.42" fill="rgb(163,163,163)"/><circle cx="307.2" cy="93.4" r="0.42" fill="rgb(198,198,198)"/><circle cx="280.0" cy="129.8" r="0.42" fill="rgb(188,188,188)"/><circle cx="303.7" cy="89.0" r="0.42" fill="rgb(197,197,197)"/><circle cx="296.3" cy="93.3" r="0.42" fill="rgb(207,207,207)"/><circle cx="303.0" cy="107.5" r="0.42" fill="rgb(179,179,179)"/><circle cx="292.0" cy="87.7" r="0.42" fill="rgb(179,179,179)"/><circle cx="287.6" cy="135.3" r="0.42" fill="rgb(167,167,167)"/><circle cx="287.1" cy="117.6" r="0.42" fill="rgb(212,212,212)"/><circle cx="326.1" cy="82.7" r="0.42" fill="rgb(169,169,169)"/><circle cx="302.4" cy="98.3" r="0.42" fill="rgb(183,183,183)"/><circle cx="290.7" cy="120.0" r="0.42" fill="rgb(165,165,165)"/><circle cx="287.0" cy="129.8" r="0.42" fill="rgb(171,171,171)"/><circle cx="286.2" cy="108.8" r="0.42" fill="rgb(188,188,188)"/><circle cx="288.9" cy="94.4" r="0.42" fill="rgb(157,157,157)"/><circle cx="299.7" cy="132.0" r="0.42" fill="rgb(213,213,213)"/><circle cx="289.1" cy="133.8" r="0.42" fill="rgb(202,202,202)"/><circle cx="288.2" cy="100.8" r="0.42" fill="rgb(192,192,192)"/><circle cx="298.0" cy="92.0" r="0.42" fill="rgb(167,167,167)"/><circle cx="298.0" cy="87.7" r="0.42" fill="rgb(210,210,210)"/><circle cx="283.5" cy="86.7" r="0.42" fill="rgb(210,210,210)"/><circle cx="336.0" cy="77.4" r="0.42" fill="rgb(211,211,211)"/><circle cx="314.3" cy="93.5" r="0.42" fill="rgb(160,160,160)"/><circle cx="339.0" cy="79.5" r="0.42" fill="rgb(168,168,168)"/><circle cx="299.9" cy="128.7" r="0.42" fill="rgb(209,209,209)"/><circle cx="284.4" cy="128.0" r="0.42" fill="rgb(215,215,215)"/><circle cx="343.6" cy="69.5" r="0.42" fill="rgb(172,172,172)"/><circle cx="282.3" cy="90.8" r="0.42" fill="rgb(153,153,153)"/><circle cx="337.9" cy="90.4" r="0.42" fill="rgb(213,213,213)"/><circle cx="292.8" cy="112.2" r="0.42" fill="rgb(184,184,184)"/><circle cx="281.5" cy="115.5" r="0.42" fill="rgb(167,167,167)"/><circle cx="295.5" cy="126.1" r="0.42" fill="rgb(186,186,186)"/><circle cx="300.4" cy="114.0" r="0.42" fill="rgb(154,154,154)"/><circle cx="318.9" cy="82.1" r="0.42" fill="rgb(214,214,214)"/><circle cx="301.5" cy="87.1" r="0.42" fill="rgb(191,191,191)"/><circle cx="322.4" cy="91.9" r="0.42" fill="rgb(174,174,174)"/><circle cx="279.5" cy="126.3" r="0.42" fill="rgb(190,190,190)"/><circle cx="290.1" cy="94.0" r="0.42" fill="rgb(214,214,214)"/><circle cx="287.0" cy="121.2" r="0.42" fill="rgb(159,159,159)"/><circle cx="311.9" cy="110.8" r="0.42" fill="rgb(160,160,160)"/><circle cx="300.6" cy="96.1" r="0.42" fill="rgb(207,207,207)"/><circle cx="322.5" cy="96.8" r="0.42" fill="rgb(162,162,162)"/><circle cx="279.3" cy="128.0" r="0.42" fill="rgb(176,176,176)"/><circle cx="314.9" cy="107.2" r="0.42" fill="rgb(189,189,189)"/><circle cx="298.4" cy="127.1" r="0.42" fill="rgb(181,181,181)"/><circle cx="342.8" cy="81.3" r="0.42" fill="rgb(196,196,196)"/><circle cx="290.1" cy="120.6" r="0.42" fill="rgb(158,158,158)"/><circle cx="298.1" cy="124.9" r="0.42" fill="rgb(177,177,177)"/><circle cx="341.4" cy="85.0" r="0.42" fill="rgb(193,193,193)"/><circle cx="286.7" cy="108.6" r="0.42" fill="rgb(195,195,195)"/><circle cx="327.2" cy="69.9" r="0.42" fill="rgb(200,200,200)"/><circle cx="323.4" cy="107.6" r="0.42" fill="rgb(168,168,168)"/><circle cx="278.5" cy="123.0" r="0.42" fill="rgb(190,190,190)"/><circle cx="308.8" cy="101.3" r="0.42" fill="rgb(184,184,184)"/><circle cx="312.6" cy="96.3" r="0.42" fill="rgb(183,183,183)"/><circle cx="283.1" cy="110.3" r="0.42" fill="rgb(191,191,191)"/><circle cx="292.3" cy="132.9" r="0.42" fill="rgb(182,182,182)"/><circle cx="311.7" cy="112.3" r="0.42" fill="rgb(181,181,181)"/><circle cx="283.5" cy="122.8" r="0.42" fill="rgb(201,201,201)"/><circle cx="294.6" cy="135.5" r="0.42" fill="rgb(198,198,198)"/><circle cx="285.2" cy="77.9" r="0.42" fill="rgb(173,173,173)"/><circle cx="300.9" cy="118.3" r="0.42" fill="rgb(155,155,155)"/><circle cx="292.0" cy="95.2" r="0.42" fill="rgb(165,165,165)"/><circle cx="308.4" cy="85.9" r="0.42" fill="rgb(188,188,188)"/><circle cx="340.2" cy="69.7" r="0.42" fill="rgb(212,212,212)"/><circle cx="333.5" cy="65.5" r="0.42" fill="rgb(214,214,214)"/><circle cx="289.4" cy="91.0" r="0.42" fill="rgb(215,215,215)"/><circle cx="281.8" cy="111.0" r="0.42" fill="rgb(196,196,196)"/><circle cx="302.3" cy="107.0" r="0.42" fill="rgb(172,172,172)"/><circle cx="305.8" cy="83.9" r="0.42" fill="rgb(198,198,198)"/><circle cx="302.6" cy="122.9" r="0.42" fill="rgb(206,206,206)"/><circle cx="279.6" cy="85.9" r="0.42" fill="rgb(159,159,159)"/><circle cx="283.1" cy="91.3" r="0.42" fill="rgb(203,203,203)"/><circle cx="329.2" cy="81.2" r="0.42" fill="rgb(151,151,151)"/><circle cx="336.0" cy="78.2" r="0.42" fill="rgb(183,183,183)"/><circle cx="289.9" cy="88.3" r="0.42" fill="rgb(206,206,206)"/><circle cx="294.5" cy="115.9" r="0.42" fill="rgb(180,180,180)"/><circle cx="316.7" cy="101.0" r="0.42" fill="rgb(173,173,173)"/><circle cx="339.4" cy="79.8" r="0.42" fill="rgb(176,176,176)"/><circle cx="342.4" cy="81.4" r="0.42" fill="rgb(210,210,210)"/><circle cx="283.7" cy="76.8" r="0.42" fill="rgb(153,153,153)"/><circle cx="285.1" cy="105.9" r="0.42" fill="rgb(162,162,162)"/><circle cx="306.4" cy="100.5" r="0.42" fill="rgb(212,212,212)"/><circle cx="279.6" cy="126.1" r="0.42" fill="rgb(173,173,173)"/><circle cx="335.8" cy="99.0" r="0.42" fill="rgb(161,161,161)"/><circle cx="287.4" cy="126.7" r="0.42" fill="rgb(196,196,196)"/><circle cx="293.5" cy="95.5" r="0.42" fill="rgb(203,203,203)"/><circle cx="281.5" cy="77.3" r="0.42" fill="rgb(211,211,211)"/><circle cx="294.2" cy="126.7" r="0.42" fill="rgb(180,180,180)"/><circle cx="298.9" cy="99.6" r="0.42" fill="rgb(189,189,189)"/><circle cx="293.5" cy="132.0" r="0.42" fill="rgb(215,215,215)"/><circle cx="336.7" cy="87.3" r="0.42" fill="rgb(156,156,156)"/><circle cx="326.5" cy="66.8" r="0.42" fill="rgb(167,167,167)"/><circle cx="297.7" cy="116.4" r="0.42" fill="rgb(208,208,208)"/><circle cx="297.9" cy="123.1" r="0.42" fill="rgb(177,177,177)"/><circle cx="293.6" cy="118.5" r="0.42" fill="rgb(188,188,188)"/><circle cx="330.2" cy="103.4" r="0.42" fill="rgb(166,166,166)"/><circle cx="292.2" cy="131.6" r="0.42" fill="rgb(172,172,172)"/><circle cx="283.3" cy="84.6" r="0.42" fill="rgb(174,174,174)"/><circle cx="290.3" cy="124.0" r="0.42" fill="rgb(204,204,204)"/><circle cx="288.4" cy="81.2" r="0.42" fill="rgb(172,172,172)"/><circle cx="287.3" cy="121.2" r="0.42" fill="rgb(153,153,153)"/><circle cx="278.3" cy="86.1" r="0.42" fill="rgb(153,153,153)"/><circle cx="322.0" cy="107.1" r="0.42" fill="rgb(193,193,193)"/><circle cx="309.0" cy="78.2" r="0.42" fill="rgb(204,204,204)"/><circle cx="286.7" cy="86.5" r="0.42" fill="rgb(184,184,184)"/><circle cx="296.1" cy="110.0" r="0.42" fill="rgb(177,177,177)"/><circle cx="319.1" cy="107.1" r="0.42" fill="rgb(164,164,164)"/><circle cx="340.1" cy="90.5" r="0.42" fill="rgb(167,167,167)"/><circle cx="327.5" cy="69.6" r="0.42" fill="rgb(158,158,158)"/><circle cx="295.6" cy="110.7" r="0.42" fill="rgb(159,159,159)"/><circle cx="320.1" cy="109.5" r="0.42" fill="rgb(166,166,166)"/><circle cx="278.5" cy="112.8" r="0.42" fill="rgb(190,190,190)"/><circle cx="325.1" cy="90.9" r="0.42" fill="rgb(201,201,201)"/><circle cx="292.9" cy="120.6" r="0.42" fill="rgb(204,204,204)"/><circle cx="282.9" cy="88.5" r="0.42" fill="rgb(208,208,208)"/><circle cx="309.0" cy="78.7" r="0.42" fill="rgb(169,169,169)"/><circle cx="279.0" cy="78.8" r="0.42" fill="rgb(185,185,185)"/><circle cx="283.8" cy="83.8" r="0.42" fill="rgb(187,187,187)"/><circle cx="283.4" cy="117.6" r="0.42" fill="rgb(179,179,179)"/><circle cx="287.1" cy="109.6" r="0.42" fill="rgb(163,163,163)"/><circle cx="340.0" cy="80.6" r="0.42" fill="rgb(206,206,206)"/><circle cx="302.3" cy="96.6" r="0.42" fill="rgb(176,176,176)"/><circle cx="324.4" cy="99.4" r="0.42" fill="rgb(159,159,159)"/><circle cx="338.5" cy="96.4" r="0.42" fill="rgb(191,191,191)"/><circle cx="317.1" cy="106.7" r="0.42" fill="rgb(166,166,166)"/><circle cx="292.1" cy="113.1" r="0.42" fill="rgb(186,186,186)"/><circle cx="317.0" cy="89.5" r="0.42" fill="rgb(188,188,188)"/><circle cx="295.1" cy="121.0" r="0.42" fill="rgb(157,157,157)"/><circle cx="286.6" cy="129.3" r="0.42" fill="rgb(158,158,158)"/><circle cx="333.3" cy="74.3" r="0.42" fill="rgb(210,210,210)"/><circle cx="290.0" cy="126.4" r="0.42" fill="rgb(200,200,200)"/><circle cx="290.4" cy="92.9" r="0.42" fill="rgb(206,206,206)"/><circle cx="306.2" cy="80.0" r="0.42" fill="rgb(164,164,164)"/><circle cx="286.1" cy="130.3" r="0.42" fill="rgb(211,211,211)"/><circle cx="290.9" cy="94.4" r="0.42" fill="rgb(167,167,167)"/><circle cx="331.6" cy="101.4" r="0.42" fill="rgb(171,171,171)"/><circle cx="288.2" cy="126.7" r="0.42" fill="rgb(174,174,174)"/><circle cx="281.4" cy="112.0" r="0.42" fill="rgb(182,182,182)"/><circle cx="309.0" cy="94.3" r="0.42" fill="rgb(208,208,208)"/><circle cx="334.3" cy="75.3" r="0.42" fill="rgb(157,157,157)"/><circle cx="282.8" cy="126.7" r="0.42" fill="rgb(196,196,196)"/><circle cx="292.0" cy="117.7" r="0.42" fill="rgb(185,185,185)"/><circle cx="292.3" cy="118.7" r="0.42" fill="rgb(163,163,163)"/><circle cx="294.4" cy="110.3" r="0.42" fill="rgb(197,197,197)"/><circle cx="334.9" cy="72.3" r="0.42" fill="rgb(192,192,192)"/><circle cx="296.5" cy="132.8" r="0.42" fill="rgb(159,159,159)"/><circle cx="290.4" cy="134.6" r="0.42" fill="rgb(205,205,205)"/><circle cx="291.3" cy="111.8" r="0.42" fill="rgb(189,189,189)"/><circle cx="280.6" cy="126.5" r="0.42" fill="rgb(185,185,185)"/><circle cx="283.6" cy="117.6" r="0.42" fill="rgb(169,169,169)"/><circle cx="333.1" cy="89.8" r="0.42" fill="rgb(174,174,174)"/><circle cx="298.2" cy="119.2" r="0.42" fill="rgb(189,189,189)"/><circle cx="326.8" cy="81.0" r="0.42" fill="rgb(170,170,170)"/><circle cx="304.5" cy="85.1" r="0.42" fill="rgb(162,162,162)"/><circle cx="322.4" cy="107.9" r="0.42" fill="rgb(193,193,193)"/><circle cx="298.5" cy="129.2" r="0.42" fill="rgb(179,179,179)"/><circle cx="306.0" cy="81.1" r="0.42" fill="rgb(190,190,190)"/><circle cx="323.4" cy="86.8" r="0.42" fill="rgb(180,180,180)"/><circle cx="316.9" cy="73.5" r="0.42" fill="rgb(213,213,213)"/><circle cx="279.6" cy="120.6" r="0.42" fill="rgb(158,158,158)"/><circle cx="345.2" cy="70.9" r="0.42" fill="rgb(192,192,192)"/><circle cx="286.2" cy="133.9" r="0.42" fill="rgb(172,172,172)"/><circle cx="304.1" cy="102.7" r="0.42" fill="rgb(173,173,173)"/><circle cx="288.7" cy="84.0" r="0.42" fill="rgb(204,204,204)"/><circle cx="289.1" cy="101.2" r="0.42" fill="rgb(210,210,210)"/><circle cx="289.6" cy="97.8" r="0.42" fill="rgb(181,181,181)"/><circle cx="321.2" cy="71.9" r="0.42" fill="rgb(150,150,150)"/><circle cx="300.6" cy="84.9" r="0.42" fill="rgb(169,169,169)"/><circle cx="322.5" cy="101.8" r="0.42" fill="rgb(156,156,156)"/><circle cx="283.7" cy="113.9" r="0.42" fill="rgb(170,170,170)"/><circle cx="327.9" cy="65.3" r="0.42" fill="rgb(150,150,150)"/><circle cx="328.3" cy="97.6" r="0.42" fill="rgb(155,155,155)"/><circle cx="281.8" cy="133.1" r="0.42" fill="rgb(165,165,165)"/><circle cx="289.0" cy="93.1" r="0.42" fill="rgb(152,152,152)"/><circle cx="291.1" cy="136.5" r="0.42" fill="rgb(154,154,154)"/><circle cx="313.7" cy="83.0" r="0.42" fill="rgb(151,151,151)"/><circle cx="310.3" cy="90.6" r="0.42" fill="rgb(203,203,203)"/><circle cx="337.1" cy="82.3" r="0.42" fill="rgb(215,215,215)"/><circle cx="301.0" cy="132.6" r="0.42" fill="rgb(161,161,161)"/><circle cx="328.0" cy="86.6" r="0.42" fill="rgb(161,161,161)"/><circle cx="283.3" cy="125.3" r="0.42" fill="rgb(168,168,168)"/><circle cx="299.0" cy="117.1" r="0.42" fill="rgb(155,155,155)"/><circle cx="321.2" cy="82.4" r="0.42" fill="rgb(195,195,195)"/><circle cx="327.2" cy="80.1" r="0.42" fill="rgb(150,150,150)"/><circle cx="298.5" cy="108.1" r="0.42" fill="rgb(182,182,182)"/><circle cx="332.7" cy="97.5" r="0.42" fill="rgb(213,213,213)"/><circle cx="286.8" cy="116.0" r="0.42" fill="rgb(205,205,205)"/><circle cx="304.4" cy="88.0" r="0.42" fill="rgb(195,195,195)"/><circle cx="301.1" cy="93.2" r="0.42" fill="rgb(152,152,152)"/><circle cx="296.0" cy="124.1" r="0.42" fill="rgb(168,168,168)"/><circle cx="295.1" cy="94.4" r="0.42" fill="rgb(186,186,186)"/><circle cx="315.9" cy="95.8" r="0.42" fill="rgb(183,183,183)"/><circle cx="325.4" cy="100.0" r="0.42" fill="rgb(177,177,177)"/><circle cx="314.0" cy="106.5" r="0.42" fill="rgb(150,150,150)"/><circle cx="317.6" cy="97.1" r="0.42" fill="rgb(203,203,203)"/><circle cx="295.4" cy="118.2" r="0.42" fill="rgb(181,181,181)"/><circle cx="286.0" cy="86.6" r="0.42" fill="rgb(152,152,152)"/><circle cx="294.2" cy="134.6" r="0.42" fill="rgb(208,208,208)"/><circle cx="298.6" cy="85.2" r="0.42" fill="rgb(152,152,152)"/><circle cx="278.9" cy="124.2" r="0.42" fill="rgb(202,202,202)"/><circle cx="332.3" cy="101.5" r="0.42" fill="rgb(197,197,197)"/><circle cx="302.3" cy="107.5" r="0.42" fill="rgb(206,206,206)"/><circle cx="314.9" cy="102.1" r="0.42" fill="rgb(179,179,179)"/><circle cx="280.7" cy="87.7" r="0.42" fill="rgb(161,161,161)"/><circle cx="319.7" cy="104.1" r="0.42" fill="rgb(196,196,196)"/><circle cx="279.1" cy="127.1" r="0.42" fill="rgb(213,213,213)"/><circle cx="311.0" cy="85.0" r="0.42" fill="rgb(208,208,208)"/><circle cx="284.3" cy="119.6" r="0.42" fill="rgb(180,180,180)"/><circle cx="280.2" cy="128.4" r="0.42" fill="rgb(214,214,214)"/><circle cx="289.5" cy="97.1" r="0.42" fill="rgb(167,167,167)"/><circle cx="289.1" cy="116.5" r="0.42" fill="rgb(159,159,159)"/><circle cx="288.2" cy="98.8" r="0.42" fill="rgb(202,202,202)"/><circle cx="298.6" cy="134.9" r="0.42" fill="rgb(212,212,212)"/><circle cx="321.2" cy="85.7" r="0.42" fill="rgb(182,182,182)"/><circle cx="287.8" cy="115.1" r="0.42" fill="rgb(152,152,152)"/><circle cx="289.4" cy="82.8" r="0.42" fill="rgb(214,214,214)"/><circle cx="336.2" cy="90.5" r="0.42" fill="rgb(198,198,198)"/><circle cx="282.4" cy="88.0" r="0.42" fill="rgb(173,173,173)"/><circle cx="325.1" cy="92.2" r="0.42" fill="rgb(167,167,167)"/><circle cx="299.7" cy="110.1" r="0.42" fill="rgb(172,172,172)"/><circle cx="318.7" cy="77.4" r="0.42" fill="rgb(186,186,186)"/><circle cx="289.3" cy="91.7" r="0.42" fill="rgb(186,186,186)"/><circle cx="292.7" cy="137.4" r="0.42" fill="rgb(178,178,178)"/><circle cx="332.3" cy="87.0" r="0.42" fill="rgb(194,194,194)"/><circle cx="341.5" cy="83.6" r="0.42" fill="rgb(190,190,190)"/><circle cx="286.2" cy="85.8" r="0.42" fill="rgb(171,171,171)"/><circle cx="286.6" cy="118.1" r="0.42" fill="rgb(174,174,174)"/><circle cx="295.8" cy="130.5" r="0.42" fill="rgb(209,209,209)"/><circle cx="281.1" cy="117.3" r="0.42" fill="rgb(189,189,189)"/><circle cx="285.7" cy="88.4" r="0.42" fill="rgb(172,172,172)"/><circle cx="317.1" cy="94.4" r="0.42" fill="rgb(160,160,160)"/><circle cx="339.2" cy="75.4" r="0.42" fill="rgb(214,214,214)"/><circle cx="336.0" cy="92.5" r="0.42" fill="rgb(165,165,165)"/><circle cx="333.2" cy="76.3" r="0.42" fill="rgb(207,207,207)"/><circle cx="332.5" cy="108.0" r="0.42" fill="rgb(174,174,174)"/><circle cx="308.7" cy="100.8" r="0.42" fill="rgb(197,197,197)"/><circle cx="278.5" cy="116.1" r="0.42" fill="rgb(150,150,150)"/><circle cx="324.9" cy="69.5" r="0.42" fill="rgb(153,153,153)"/><circle cx="304.4" cy="96.9" r="0.42" fill="rgb(193,193,193)"/><circle cx="295.0" cy="118.3" r="0.42" fill="rgb(173,173,173)"/><circle cx="327.0" cy="80.1" r="0.42" fill="rgb(152,152,152)"/><circle cx="340.6" cy="83.8" r="0.42" fill="rgb(213,213,213)"/><circle cx="302.4" cy="99.5" r="0.42" fill="rgb(208,208,208)"/></g>
<circle cx="348.0" cy="58.8" r="0.65" fill="#4a4050"/>
<circle cx="348.6" cy="60.2" r="0.65" fill="#4a4050"/>
<circle cx="349.3" cy="61.4" r="0.65" fill="#4a4050"/>
<circle cx="312.3" cy="75.6" r="0.65" fill="#4a4050"/>
<circle cx="286.9" cy="101.8" r="0.65" fill="#4a4050"/>
<circle cx="320.5" cy="105.5" r="0.65" fill="#4a4050"/>
<circle cx="299" cy="90" r="0.65" fill="#4a4050"/>
<circle cx="343" cy="96" r="0.65" fill="#4a4050"/>
<circle cx="344" cy="93.5" r="0.65" fill="#4a4050"/>
<circle cx="342" cy="99" r="0.65" fill="#4a4050"/>
<ellipse cx="346.5" cy="99" rx="8.5" ry="6" transform="rotate(47 346.5 99)" fill="#cfae74" opacity="0.85"/>
<ellipse cx="356" cy="106.5" rx="8.5" ry="6.6" transform="rotate(47 356 106.5)" fill="#e06876" opacity="0.82"/>
<circle cx="352.8" cy="101.8" r="0.6" fill="#b03050" opacity="0.75"/><circle cx="348.8" cy="107.2" r="0.6" fill="#f0a0a8" opacity="0.75"/><circle cx="343.4" cy="94.8" r="0.6" fill="#b03050" opacity="0.75"/><circle cx="349.4" cy="102.8" r="0.6" fill="#5a2a3a" opacity="0.75"/><circle cx="339.3" cy="92.4" r="0.6" fill="#5a2a3a" opacity="0.75"/><circle cx="351.7" cy="110.3" r="0.6" fill="#90a050" opacity="0.75"/><circle cx="357.8" cy="113.0" r="0.6" fill="#e05060" opacity="0.75"/><circle cx="346.4" cy="93.8" r="0.6" fill="#e8944a" opacity="0.75"/><circle cx="345.7" cy="95.7" r="0.6" fill="#90a050" opacity="0.75"/><circle cx="351.1" cy="110.9" r="0.6" fill="#c02070" opacity="0.75"/><circle cx="350.2" cy="97.0" r="0.6" fill="#90a050" opacity="0.75"/><circle cx="343.4" cy="100.6" r="0.6" fill="#e8944a" opacity="0.75"/><circle cx="346.4" cy="102.1" r="0.6" fill="#5a2a3a" opacity="0.75"/><circle cx="360.2" cy="104.9" r="0.6" fill="#e05060" opacity="0.75"/><circle cx="359.5" cy="108.7" r="0.6" fill="#90a050" opacity="0.75"/><circle cx="350.3" cy="96.6" r="0.6" fill="#e8944a" opacity="0.75"/><circle cx="354.9" cy="106.0" r="0.6" fill="#f0a0a8" opacity="0.75"/><circle cx="350.3" cy="97.8" r="0.6" fill="#b03050" opacity="0.75"/><circle cx="342.2" cy="91.8" r="0.6" fill="#e8944a" opacity="0.75"/><circle cx="350.2" cy="95.8" r="0.6" fill="#7a2040" opacity="0.75"/><circle cx="345.3" cy="102.5" r="0.6" fill="#c02070" opacity="0.75"/><circle cx="354.7" cy="102.9" r="0.6" fill="#e8944a" opacity="0.75"/><circle cx="351.0" cy="95.4" r="0.6" fill="#e07080" opacity="0.75"/><circle cx="349.8" cy="106.0" r="0.6" fill="#7a2040" opacity="0.75"/><circle cx="343.3" cy="96.0" r="0.6" fill="#c8a860" opacity="0.75"/><circle cx="339.9" cy="93.0" r="0.6" fill="#c8a860" opacity="0.75"/><circle cx="346.4" cy="94.1" r="0.6" fill="#5a2a3a" opacity="0.75"/><circle cx="361.0" cy="112.3" r="0.6" fill="#5a2a3a" opacity="0.75"/><circle cx="344.0" cy="100.2" r="0.6" fill="#e07080" opacity="0.75"/><circle cx="342.5" cy="100.9" r="0.6" fill="#f0a0a8" opacity="0.75"/><circle cx="351.6" cy="111.7" r="0.6" fill="#7a2040" opacity="0.75"/><circle cx="352.8" cy="98.8" r="0.6" fill="#c8a860" opacity="0.75"/><circle cx="351.7" cy="94.8" r="0.6" fill="#f0a0a8" opacity="0.75"/><circle cx="346.3" cy="99.1" r="0.6" fill="#f0a0a8" opacity="0.75"/><circle cx="341.9" cy="100.1" r="0.6" fill="#b03050" opacity="0.75"/><circle cx="352.6" cy="96.0" r="0.6" fill="#7a2040" opacity="0.75"/><circle cx="349.1" cy="98.4" r="0.6" fill="#90a050" opacity="0.75"/><circle cx="353.8" cy="99.4" r="0.6" fill="#90a050" opacity="0.75"/><circle cx="356.9" cy="107.9" r="0.6" fill="#e07080" opacity="0.75"/><circle cx="344.7" cy="96.7" r="0.6" fill="#e05060" opacity="0.75"/><circle cx="362.3" cy="112.6" r="0.6" fill="#f0a0a8" opacity="0.75"/><circle cx="356.5" cy="101.1" r="0.6" fill="#f0a0a8" opacity="0.75"/><circle cx="360.2" cy="111.4" r="0.6" fill="#f0a0a8" opacity="0.75"/><circle cx="358.5" cy="113.1" r="0.6" fill="#7a2040" opacity="0.75"/><circle cx="347.2" cy="98.4" r="0.6" fill="#e05060" opacity="0.75"/><circle cx="347.1" cy="108.1" r="0.6" fill="#c02070" opacity="0.75"/><circle cx="356.6" cy="113.4" r="0.6" fill="#7a2040" opacity="0.75"/><circle cx="349.4" cy="106.9" r="0.6" fill="#c02070" opacity="0.75"/><circle cx="358.4" cy="106.4" r="0.6" fill="#b03050" opacity="0.75"/><circle cx="360.4" cy="110.2" r="0.6" fill="#7a2040" opacity="0.75"/><circle cx="357.3" cy="113.1" r="0.6" fill="#e05060" opacity="0.75"/><circle cx="357.4" cy="110.5" r="0.6" fill="#e05060" opacity="0.75"/><circle cx="347.8" cy="91.8" r="0.6" fill="#90a050" opacity="0.75"/><circle cx="352.3" cy="105.9" r="0.6" fill="#e05060" opacity="0.75"/><circle cx="349.9" cy="110.4" r="0.6" fill="#f0a0a8" opacity="0.75"/><circle cx="362.5" cy="112.4" r="0.6" fill="#7a2040" opacity="0.75"/><circle cx="355.6" cy="102.3" r="0.6" fill="#e07080" opacity="0.75"/><circle cx="350.7" cy="109.2" r="0.6" fill="#f0a0a8" opacity="0.75"/><circle cx="342.3" cy="92.2" r="0.6" fill="#90a050" opacity="0.75"/><circle cx="354.8" cy="110.9" r="0.6" fill="#c02070" opacity="0.75"/><circle cx="344.1" cy="98.8" r="0.6" fill="#5a2a3a" opacity="0.75"/><circle cx="347.0" cy="97.3" r="0.6" fill="#e07080" opacity="0.75"/><circle cx="362.5" cy="108.4" r="0.6" fill="#e8944a" opacity="0.75"/><circle cx="352.7" cy="109.8" r="0.6" fill="#e8944a" opacity="0.75"/><circle cx="354.7" cy="99.0" r="0.6" fill="#b03050" opacity="0.75"/><circle cx="355.5" cy="98.1" r="0.6" fill="#c02070" opacity="0.75"/><circle cx="359.7" cy="103.9" r="0.6" fill="#5a2a3a" opacity="0.75"/><circle cx="353.3" cy="97.6" r="0.6" fill="#c02070" opacity="0.75"/><circle cx="359.0" cy="107.4" r="0.6" fill="#f0a0a8" opacity="0.75"/><circle cx="353.7" cy="105.0" r="0.6" fill="#90a050" opacity="0.75"/><circle cx="360.7" cy="107.7" r="0.6" fill="#f0a0a8" opacity="0.75"/><circle cx="341.5" cy="101.3" r="0.6" fill="#7a2040" opacity="0.75"/><circle cx="340.6" cy="97.7" r="0.6" fill="#c02070" opacity="0.75"/><circle cx="349.2" cy="105.6" r="0.6" fill="#e07080" opacity="0.75"/><circle cx="354.6" cy="99.6" r="0.6" fill="#90a050" opacity="0.75"/><circle cx="350.9" cy="104.4" r="0.6" fill="#c02070" opacity="0.75"/><circle cx="342.1" cy="100.3" r="0.6" fill="#e07080" opacity="0.75"/><circle cx="351.7" cy="95.9" r="0.6" fill="#c02070" opacity="0.75"/><circle cx="353.9" cy="99.5" r="0.6" fill="#e07080" opacity="0.75"/><circle cx="348.9" cy="94.9" r="0.6" fill="#e07080" opacity="0.75"/><circle cx="356.0" cy="99.4" r="0.6" fill="#5a2a3a" opacity="0.75"/><circle cx="346.2" cy="104.9" r="0.6" fill="#c02070" opacity="0.75"/><circle cx="352.0" cy="108.3" r="0.6" fill="#90a050" opacity="0.75"/><circle cx="355.4" cy="112.8" r="0.6" fill="#5a2a3a" opacity="0.75"/><circle cx="347.6" cy="93.9" r="0.6" fill="#e07080" opacity="0.75"/><circle cx="350.6" cy="93.4" r="0.6" fill="#7a2040" opacity="0.75"/><circle cx="349.3" cy="97.0" r="0.6" fill="#7a2040" opacity="0.75"/><circle cx="351.9" cy="101.7" r="0.6" fill="#e05060" opacity="0.75"/><circle cx="345.1" cy="104.8" r="0.6" fill="#c02070" opacity="0.75"/><circle cx="348.3" cy="96.5" r="0.6" fill="#c8a860" opacity="0.75"/><circle cx="358.1" cy="105.6" r="0.6" fill="#c02070" opacity="0.75"/><circle cx="361.9" cy="111.7" r="0.6" fill="#5a2a3a" opacity="0.75"/><circle cx="342.0" cy="101.1" r="0.6" fill="#e8944a" opacity="0.75"/><circle cx="356.6" cy="99.5" r="0.6" fill="#f0a0a8" opacity="0.75"/><circle cx="356.0" cy="108.0" r="0.6" fill="#f0a0a8" opacity="0.75"/><circle cx="354.9" cy="103.8" r="0.6" fill="#c8a860" opacity="0.75"/><circle cx="354.6" cy="109.5" r="0.6" fill="#e8944a" opacity="0.75"/><circle cx="345.3" cy="92.7" r="0.6" fill="#f0a0a8" opacity="0.75"/><circle cx="359.0" cy="110.5" r="0.6" fill="#c02070" opacity="0.75"/><circle cx="348.8" cy="103.8" r="0.6" fill="#e8944a" opacity="0.75"/><circle cx="349.9" cy="96.7" r="0.6" fill="#e05060" opacity="0.75"/><circle cx="341.0" cy="98.2" r="0.6" fill="#7a2040" opacity="0.75"/><circle cx="340.0" cy="96.5" r="0.6" fill="#7a2040" opacity="0.75"/><circle cx="339.4" cy="92.6" r="0.6" fill="#5a2a3a" opacity="0.75"/><circle cx="341.8" cy="93.0" r="0.6" fill="#e8944a" opacity="0.75"/><circle cx="351.3" cy="110.6" r="0.6" fill="#c8a860" opacity="0.75"/><circle cx="358.5" cy="106.9" r="0.6" fill="#b03050" opacity="0.75"/><circle cx="356.0" cy="103.3" r="0.6" fill="#b03050" opacity="0.75"/><circle cx="353.7" cy="105.7" r="0.6" fill="#90a050" opacity="0.75"/><circle cx="359.8" cy="103.9" r="0.6" fill="#90a050" opacity="0.75"/><circle cx="346.5" cy="104.3" r="0.6" fill="#b03050" opacity="0.75"/><circle cx="362.8" cy="109.6" r="0.6" fill="#c02070" opacity="0.75"/><circle cx="354.2" cy="108.3" r="0.6" fill="#e05060" opacity="0.75"/><circle cx="361.7" cy="107.1" r="0.6" fill="#e07080" opacity="0.75"/><circle cx="360.3" cy="114.4" r="0.6" fill="#b03050" opacity="0.75"/><circle cx="341.9" cy="100.8" r="0.6" fill="#90a050" opacity="0.75"/><circle cx="356.4" cy="101.0" r="0.6" fill="#e07080" opacity="0.75"/><circle cx="346.9" cy="92.8" r="0.6" fill="#c02070" opacity="0.75"/><circle cx="357.4" cy="113.9" r="0.6" fill="#7a2040" opacity="0.75"/><circle cx="341.9" cy="91.7" r="0.6" fill="#5a2a3a" opacity="0.75"/><circle cx="359.5" cy="108.1" r="0.6" fill="#c02070" opacity="0.75"/><circle cx="358.8" cy="105.6" r="0.6" fill="#e05060" opacity="0.75"/><circle cx="346.6" cy="92.1" r="0.6" fill="#5a2a3a" opacity="0.75"/><circle cx="361.0" cy="112.1" r="0.6" fill="#7a2040" opacity="0.75"/><circle cx="347.0" cy="93.2" r="0.6" fill="#5a2a3a" opacity="0.75"/><circle cx="345.5" cy="93.7" r="0.6" fill="#e05060" opacity="0.75"/><circle cx="340.3" cy="91.0" r="0.6" fill="#e07080" opacity="0.75"/><circle cx="345.3" cy="94.0" r="0.6" fill="#e8944a" opacity="0.75"/><circle cx="358.5" cy="104.3" r="0.6" fill="#90a050" opacity="0.75"/><circle cx="348.8" cy="101.1" r="0.6" fill="#c02070" opacity="0.75"/><circle cx="360.3" cy="111.4" r="0.6" fill="#c8a860" opacity="0.75"/><circle cx="342.3" cy="97.1" r="0.6" fill="#e8944a" opacity="0.75"/><circle cx="350.1" cy="93.6" r="0.6" fill="#e8944a" opacity="0.75"/><circle cx="354.3" cy="105.5" r="0.6" fill="#c02070" opacity="0.75"/><circle cx="352.0" cy="101.8" r="0.6" fill="#c02070" opacity="0.75"/><circle cx="361.5" cy="107.0" r="0.6" fill="#e05060" opacity="0.75"/><circle cx="356.9" cy="108.2" r="0.6" fill="#e05060" opacity="0.75"/><circle cx="358.3" cy="103.2" r="0.6" fill="#e8944a" opacity="0.75"/><circle cx="349.9" cy="110.0" r="0.6" fill="#c8a860" opacity="0.75"/><circle cx="349.4" cy="110.4" r="0.6" fill="#f0a0a8" opacity="0.75"/><circle cx="349.9" cy="93.1" r="0.6" fill="#c8a860" opacity="0.75"/><circle cx="346.9" cy="98.4" r="0.6" fill="#b03050" opacity="0.75"/><circle cx="354.8" cy="114.0" r="0.6" fill="#e05060" opacity="0.75"/><circle cx="357.3" cy="109.1" r="0.6" fill="#e07080" opacity="0.75"/><circle cx="346.2" cy="95.8" r="0.6" fill="#e05060" opacity="0.75"/><circle cx="348.3" cy="96.0" r="0.6" fill="#e8944a" opacity="0.75"/><circle cx="357.2" cy="101.4" r="0.6" fill="#90a050" opacity="0.75"/><circle cx="348.0" cy="103.5" r="0.6" fill="#e07080" opacity="0.75"/><circle cx="357.5" cy="105.5" r="0.6" fill="#f0a0a8" opacity="0.75"/><circle cx="357.8" cy="114.6" r="0.6" fill="#5a2a3a" opacity="0.75"/><circle cx="344.7" cy="100.1" r="0.6" fill="#e07080" opacity="0.75"/><circle cx="340.1" cy="95.9" r="0.6" fill="#90a050" opacity="0.75"/><circle cx="356.0" cy="109.0" r="0.6" fill="#5a2a3a" opacity="0.75"/><circle cx="341.3" cy="100.1" r="0.6" fill="#7a2040" opacity="0.75"/><circle cx="343.4" cy="99.7" r="0.6" fill="#b03050" opacity="0.75"/><circle cx="348.9" cy="97.9" r="0.6" fill="#b03050" opacity="0.75"/><circle cx="340.2" cy="97.2" r="0.6" fill="#5a2a3a" opacity="0.75"/><circle cx="353.8" cy="113.5" r="0.6" fill="#90a050" opacity="0.75"/><circle cx="356.2" cy="112.8" r="0.6" fill="#c02070" opacity="0.75"/><circle cx="356.1" cy="109.9" r="0.6" fill="#f0a0a8" opacity="0.75"/><circle cx="351.2" cy="97.2" r="0.6" fill="#e05060" opacity="0.75"/><circle cx="346.6" cy="94.8" r="0.6" fill="#c8a860" opacity="0.75"/><circle cx="362.4" cy="109.8" r="0.6" fill="#e07080" opacity="0.75"/><circle cx="357.5" cy="104.7" r="0.6" fill="#c8a860" opacity="0.75"/><circle cx="339.8" cy="93.3" r="0.6" fill="#90a050" opacity="0.75"/><circle cx="343.6" cy="98.8" r="0.6" fill="#7a2040" opacity="0.75"/><circle cx="358.7" cy="112.8" r="0.6" fill="#c02070" opacity="0.75"/><circle cx="340.4" cy="98.8" r="0.6" fill="#c8a860" opacity="0.75"/><circle cx="353.5" cy="98.4" r="0.6" fill="#7a2040" opacity="0.75"/><circle cx="352.0" cy="108.3" r="0.6" fill="#e07080" opacity="0.75"/><circle cx="352.3" cy="94.8" r="0.6" fill="#90a050" opacity="0.75"/><circle cx="357.6" cy="103.4" r="0.6" fill="#f0a0a8" opacity="0.75"/><circle cx="352.0" cy="100.8" r="0.6" fill="#e05060" opacity="0.75"/><circle cx="347.9" cy="103.0" r="0.6" fill="#e05060" opacity="0.75"/><circle cx="344.0" cy="98.3" r="0.6" fill="#c02070" opacity="0.75"/><circle cx="344.1" cy="98.5" r="0.6" fill="#f0a0a8" opacity="0.75"/><circle cx="356.6" cy="107.5" r="0.6" fill="#b03050" opacity="0.75"/><circle cx="349.1" cy="96.7" r="0.6" fill="#c02070" opacity="0.75"/><circle cx="357.2" cy="99.9" r="0.6" fill="#e07080" opacity="0.75"/><circle cx="354.2" cy="105.7" r="0.6" fill="#e07080" opacity="0.75"/><circle cx="346.3" cy="100.1" r="0.6" fill="#c02070" opacity="0.75"/><circle cx="360.2" cy="104.9" r="0.6" fill="#e8944a" opacity="0.75"/><circle cx="344.0" cy="100.7" r="0.6" fill="#7a2040" opacity="0.75"/><circle cx="340.9" cy="97.8" r="0.6" fill="#e07080" opacity="0.75"/><circle cx="342.8" cy="90.7" r="0.6" fill="#c8a860" opacity="0.75"/><circle cx="347.6" cy="93.6" r="0.6" fill="#e8944a" opacity="0.75"/><circle cx="345.6" cy="91.1" r="0.6" fill="#5a2a3a" opacity="0.75"/><circle cx="344.9" cy="96.5" r="0.6" fill="#5a2a3a" opacity="0.75"/><circle cx="351.2" cy="108.2" r="0.6" fill="#5a2a3a" opacity="0.75"/><circle cx="360.7" cy="109.9" r="0.6" fill="#c02070" opacity="0.75"/><circle cx="356.1" cy="101.5" r="0.6" fill="#b03050" opacity="0.75"/><circle cx="356.0" cy="109.1" r="0.6" fill="#f0a0a8" opacity="0.75"/><circle cx="353.7" cy="101.5" r="0.6" fill="#7a2040" opacity="0.75"/><circle cx="349.8" cy="101.8" r="0.6" fill="#c02070" opacity="0.75"/><circle cx="352.8" cy="104.2" r="0.6" fill="#7a2040" opacity="0.75"/><circle cx="362.9" cy="111.8" r="0.6" fill="#b03050" opacity="0.75"/><circle cx="341.6" cy="93.6" r="0.6" fill="#e07080" opacity="0.75"/><circle cx="345.2" cy="104.3" r="0.6" fill="#5a2a3a" opacity="0.75"/><circle cx="347.5" cy="94.9" r="0.6" fill="#7a2040" opacity="0.75"/><circle cx="361.2" cy="111.0" r="0.6" fill="#90a050" opacity="0.75"/><circle cx="357.7" cy="112.3" r="0.6" fill="#c8a860" opacity="0.75"/><circle cx="359.2" cy="106.7" r="0.6" fill="#c8a860" opacity="0.75"/><circle cx="362.5" cy="111.7" r="0.6" fill="#90a050" opacity="0.75"/><circle cx="349.3" cy="106.9" r="0.6" fill="#e07080" opacity="0.75"/><circle cx="356.1" cy="110.4" r="0.6" fill="#5a2a3a" opacity="0.75"/><circle cx="353.2" cy="97.6" r="0.6" fill="#5a2a3a" opacity="0.75"/><circle cx="353.1" cy="109.3" r="0.6" fill="#e07080" opacity="0.75"/><circle cx="348.2" cy="101.9" r="0.6" fill="#e07080" opacity="0.75"/><circle cx="351.8" cy="96.5" r="0.6" fill="#f0a0a8" opacity="0.75"/><circle cx="352.4" cy="96.2" r="0.6" fill="#c8a860" opacity="0.75"/><circle cx="349.7" cy="103.8" r="0.6" fill="#c8a860" opacity="0.75"/><circle cx="359.2" cy="110.7" r="0.6" fill="#7a2040" opacity="0.75"/><circle cx="347.1" cy="101.6" r="0.6" fill="#7a2040" opacity="0.75"/><circle cx="357.0" cy="101.9" r="0.6" fill="#c02070" opacity="0.75"/><circle cx="341.4" cy="97.7" r="0.6" fill="#90a050" opacity="0.75"/><circle cx="351.7" cy="93.9" r="0.6" fill="#e8944a" opacity="0.75"/><circle cx="357.0" cy="104.9" r="0.6" fill="#c02070" opacity="0.75"/><circle cx="350.9" cy="97.9" r="0.6" fill="#7a2040" opacity="0.75"/><circle cx="352.8" cy="104.2" r="0.6" fill="#b03050" opacity="0.75"/><circle cx="345.1" cy="104.4" r="0.6" fill="#7a2040" opacity="0.75"/><circle cx="340.5" cy="88.5" r="0.8" fill="#4a2038" opacity="0.85"/><circle cx="342.5" cy="90" r="0.8" fill="#4a2038" opacity="0.85"/><circle cx="344.5" cy="91.2" r="0.8" fill="#4a2038" opacity="0.85"/><circle cx="346.5" cy="92.5" r="0.8" fill="#4a2038" opacity="0.85"/><circle cx="348.5" cy="93.5" r="0.8" fill="#4a2038" opacity="0.85"/><circle cx="350.5" cy="95" r="0.8" fill="#4a2038" opacity="0.85"/><circle cx="352.5" cy="96" r="0.8" fill="#4a2038" opacity="0.85"/><circle cx="354.5" cy="97.2" r="0.8" fill="#4a2038" opacity="0.85"/><circle cx="339" cy="93.5" r="0.8" fill="#4a2038" opacity="0.85"/><circle cx="341" cy="97.5" r="0.8" fill="#4a2038" opacity="0.85"/><circle cx="343" cy="104" r="0.8" fill="#4a2038" opacity="0.85"/><circle cx="346.5" cy="107.5" r="0.8" fill="#4a2038" opacity="0.85"/><circle cx="350" cy="111" r="0.8" fill="#4a2038" opacity="0.85"/><circle cx="356" cy="113" r="0.8" fill="#4a2038" opacity="0.85"/><circle cx="360.5" cy="110.5" r="0.8" fill="#4a2038" opacity="0.85"/><circle cx="340.3" cy="98.1" r="0.5" fill="#e0a0b0"/><circle cx="342.6" cy="94.4" r="0.5" fill="#e0a0b0"/><circle cx="344.1" cy="95.1" r="0.5" fill="#e0a0b0"/><circle cx="337.5" cy="96.5" r="0.5" fill="#d8c0a0"/><circle cx="336.5" cy="99.4" r="0.5" fill="#d8c0a0"/><circle cx="342.9" cy="97.8" r="0.5" fill="#a07090"/><circle cx="336.9" cy="100.3" r="0.5" fill="#6a3050"/><circle cx="340.4" cy="85.4" r="0.5" fill="#e0a0b0"/><circle cx="338.7" cy="91.0" r="0.5" fill="#e0a0b0"/><circle cx="337.2" cy="96.2" r="0.5" fill="#e0a0b0"/><circle cx="345.0" cy="89.4" r="0.5" fill="#a07090"/><circle cx="340.2" cy="98.2" r="0.5" fill="#d8c0a0"/><circle cx="335.9" cy="91.0" r="0.5" fill="#e0a0b0"/><circle cx="344.6" cy="94.2" r="0.5" fill="#a07090"/><circle cx="342.6" cy="92.8" r="0.5" fill="#6a3050"/><circle cx="336.2" cy="101.3" r="0.5" fill="#a07090"/><circle cx="336.3" cy="99.3" r="0.5" fill="#6a3050"/><circle cx="343.4" cy="94.6" r="0.5" fill="#6a3050"/><circle cx="338.3" cy="96.6" r="0.5" fill="#d8c0a0"/><circle cx="338.7" cy="93.8" r="0.5" fill="#a07090"/><circle cx="337.1" cy="97.6" r="0.5" fill="#e0a0b0"/><circle cx="345.9" cy="88.1" r="0.5" fill="#a07090"/><circle cx="345.8" cy="87.9" r="0.5" fill="#d8c0a0"/><circle cx="344.4" cy="87.4" r="0.5" fill="#d8c0a0"/><circle cx="336.2" cy="85.6" r="0.5" fill="#e0a0b0"/><circle cx="339.0" cy="100.9" r="0.5" fill="#e0a0b0"/><circle cx="343.7" cy="94.9" r="0.5" fill="#d8c0a0"/><circle cx="338.7" cy="99.4" r="0.5" fill="#d8c0a0"/><circle cx="336.4" cy="89.5" r="0.5" fill="#d8c0a0"/><circle cx="344.5" cy="90.5" r="0.5" fill="#a07090"/>
<path d="M265.5,137.3 L265.5,148.2 L276,148.2" fill="none" stroke="#222" stroke-width="1.3"/>
<text x="0" y="0" font-size="6.9" font-weight="bold" fill="#222" stroke="#222" stroke-width="0.3" textLength="18.6" lengthAdjust="spacingAndGlyphs" transform="translate(269.2,135.0) rotate(-90)">UMAP2</text>
<text x="278.30" y="150.70" font-size="6.9" text-anchor="start" fill="#222" font-weight="bold" stroke="#222" stroke-width="0.3" textLength="18.6" lengthAdjust="spacingAndGlyphs">UMAP1</text>
<path d="M116.60,248.80L118.26,209.23A39.6,39.6 0 0 1 128.05,210.89Z" fill="#e9704e" stroke="#e9704e" stroke-width="0.3"/>
<path d="M116.60,248.80L128.05,210.89A39.6,39.6 0 0 1 137.11,214.93Z" fill="#f1deb2" stroke="#f1deb2" stroke-width="0.3"/>
<path d="M116.60,248.80L137.11,214.93A39.6,39.6 0 0 1 144.89,221.09Z" fill="#96d5c3" stroke="#96d5c3" stroke-width="0.3"/>
<path d="M116.60,248.80L144.89,221.09A39.6,39.6 0 0 1 156.19,247.97Z" fill="#f2a11f" stroke="#f2a11f" stroke-width="0.3"/>
<path d="M116.60,248.80L156.19,247.97A39.6,39.6 0 0 1 151.69,267.15Z" fill="#0d2a3a" stroke="#0d2a3a" stroke-width="0.3"/>
<path d="M116.60,248.80L151.69,267.15A39.6,39.6 0 0 1 138.51,281.78Z" fill="#ad4250" stroke="#ad4250" stroke-width="0.3"/>
<path d="M116.60,248.80L138.51,281.78A39.6,39.6 0 0 1 129.62,286.20Z" fill="#e9704e" stroke="#e9704e" stroke-width="0.3"/>
<path d="M116.60,248.80L129.62,286.20A39.6,39.6 0 0 1 119.91,288.26Z" fill="#f1deb2" stroke="#f1deb2" stroke-width="0.3"/>
<path d="M116.60,248.80L119.91,288.26A39.6,39.6 0 0 1 110.00,287.85Z" fill="#96d5c3" stroke="#96d5c3" stroke-width="0.3"/>
<path d="M116.60,248.80L110.00,287.85A39.6,39.6 0 0 1 100.49,284.98Z" fill="#f2a11f" stroke="#f2a11f" stroke-width="0.3"/>
<path d="M116.60,248.80L100.49,284.98A39.6,39.6 0 0 1 77.42,254.58Z" fill="#196478" stroke="#196478" stroke-width="0.3"/>
<path d="M116.60,248.80L77.42,254.58A39.6,39.6 0 0 1 77.22,244.66Z" fill="#0d2a3a" stroke="#0d2a3a" stroke-width="0.3"/>
<path d="M116.60,248.80L77.22,244.66A39.6,39.6 0 0 1 79.48,235.00Z" fill="#ef7b78" stroke="#ef7b78" stroke-width="0.3"/>
<path d="M116.60,248.80L79.48,235.00A39.6,39.6 0 0 1 84.08,226.20Z" fill="#8db056" stroke="#8db056" stroke-width="0.3"/>
<path d="M116.60,248.80L84.08,226.20A39.6,39.6 0 0 1 90.72,218.82Z" fill="#e8246e" stroke="#e8246e" stroke-width="0.3"/>
<path d="M116.60,248.80L90.72,218.82A39.6,39.6 0 0 1 108.37,210.07Z" fill="#0d2a3a" stroke="#0d2a3a" stroke-width="0.3"/>
<path d="M116.60,248.80L108.37,210.07A39.6,39.6 0 0 1 118.26,209.23Z" fill="#b4464f" stroke="#b4464f" stroke-width="0.3"/>
<text x="121.22" y="222.87" font-size="6.31" text-anchor="middle" fill="#101010" stroke="#101010" stroke-width="0.25" textLength="3.28" lengthAdjust="spacingAndGlyphs" opacity="0.62">1</text>
<text x="127.87" y="224.88" font-size="6.31" text-anchor="middle" fill="#101010" stroke="#101010" stroke-width="0.25" textLength="3.28" lengthAdjust="spacingAndGlyphs" opacity="0.62">1</text>
<text x="133.82" y="228.48" font-size="6.31" text-anchor="middle" fill="#101010" stroke="#101010" stroke-width="0.25" textLength="3.28" lengthAdjust="spacingAndGlyphs" opacity="0.62">1</text>
<text x="142.15" y="239.46" font-size="6.31" text-anchor="middle" fill="#101010" stroke="#101010" stroke-width="0.25" textLength="3.28" lengthAdjust="spacingAndGlyphs" opacity="0.62">3</text>
<text x="143.59" y="256.53" font-size="6.31" text-anchor="middle" fill="#f2f4f6" stroke="#f2f4f6" stroke-width="0.25" textLength="3.28" lengthAdjust="spacingAndGlyphs" opacity="0.9">2</text>
<text x="137.20" y="268.75" font-size="6.31" text-anchor="middle" fill="#101010" stroke="#101010" stroke-width="0.25" textLength="3.28" lengthAdjust="spacingAndGlyphs" opacity="0.62">2</text>
<text x="128.93" y="275.03" font-size="6.31" text-anchor="middle" fill="#101010" stroke="#101010" stroke-width="0.25" textLength="3.28" lengthAdjust="spacingAndGlyphs" opacity="0.62">1</text>
<text x="122.36" y="277.31" font-size="6.31" text-anchor="middle" fill="#101010" stroke="#101010" stroke-width="0.25" textLength="3.28" lengthAdjust="spacingAndGlyphs" opacity="0.62">1</text>
<text x="115.44" y="277.90" font-size="6.31" text-anchor="middle" fill="#101010" stroke="#101010" stroke-width="0.25" textLength="3.28" lengthAdjust="spacingAndGlyphs" opacity="0.62">1</text>
<text x="108.59" y="276.74" font-size="6.31" text-anchor="middle" fill="#101010" stroke="#101010" stroke-width="0.25" textLength="3.28" lengthAdjust="spacingAndGlyphs" opacity="0.62">1</text>
<text x="94.52" y="266.96" font-size="6.31" text-anchor="middle" fill="#101010" stroke="#101010" stroke-width="0.25" textLength="3.28" lengthAdjust="spacingAndGlyphs" opacity="0.62">4</text>
<text x="88.89" y="250.78" font-size="6.31" text-anchor="middle" fill="#f2f4f6" stroke="#f2f4f6" stroke-width="0.25" textLength="3.28" lengthAdjust="spacingAndGlyphs" opacity="0.9">1</text>
<text x="89.61" y="243.87" font-size="6.31" text-anchor="middle" fill="#101010" stroke="#101010" stroke-width="0.25" textLength="3.28" lengthAdjust="spacingAndGlyphs" opacity="0.62">1</text>
<text x="92.03" y="237.36" font-size="6.31" text-anchor="middle" fill="#101010" stroke="#101010" stroke-width="0.25" textLength="3.28" lengthAdjust="spacingAndGlyphs" opacity="0.62">1</text>
<text x="96.00" y="231.65" font-size="6.31" text-anchor="middle" fill="#101010" stroke="#101010" stroke-width="0.25" textLength="3.28" lengthAdjust="spacingAndGlyphs" opacity="0.62">1</text>
<text x="104.27" y="225.37" font-size="6.31" text-anchor="middle" fill="#f2f4f6" stroke="#f2f4f6" stroke-width="0.25" textLength="3.28" lengthAdjust="spacingAndGlyphs" opacity="0.9">2</text>
<text x="114.28" y="222.58" font-size="6.31" text-anchor="middle" fill="#101010" stroke="#101010" stroke-width="0.25" textLength="3.28" lengthAdjust="spacingAndGlyphs" opacity="0.62">1</text>
<text x="122.60" y="192.90" font-size="8.24" text-anchor="middle" fill="#333" stroke="#333" stroke-width="0.16" textLength="33.81" lengthAdjust="spacingAndGlyphs" >Diagnosis</text>
<text x="79.00" y="202.20" font-size="6.42" text-anchor="start" fill="#333" stroke="#333" stroke-width="0.06" textLength="32.02" lengthAdjust="spacingAndGlyphs" >Clonotype 1</text>
<text x="64.70" y="209.80" font-size="6.42" text-anchor="start" fill="#333" stroke="#333" stroke-width="0.06" textLength="32.02" lengthAdjust="spacingAndGlyphs" >Clonotype 2</text>
<text x="49.00" y="220.50" font-size="6.42" text-anchor="start" fill="#333" stroke="#333" stroke-width="0.06" textLength="32.02" lengthAdjust="spacingAndGlyphs" >Clonotype 3</text>
<text x="42.70" y="229.50" font-size="6.42" text-anchor="start" fill="#333" stroke="#333" stroke-width="0.06" textLength="32.02" lengthAdjust="spacingAndGlyphs" >Clonotype 4</text>
<text x="40.00" y="240.50" font-size="6.42" text-anchor="start" fill="#333" stroke="#333" stroke-width="0.06" textLength="32.02" lengthAdjust="spacingAndGlyphs" >Clonotype 5</text>
<text x="40.00" y="251.70" font-size="6.42" text-anchor="start" fill="#333" stroke="#333" stroke-width="0.06" textLength="32.02" lengthAdjust="spacingAndGlyphs" >Clonotype 6</text>
<text x="45.40" y="275.70" font-size="6.42" text-anchor="start" fill="#333" stroke="#333" stroke-width="0.06" textLength="32.02" lengthAdjust="spacingAndGlyphs" >Clonotype 7</text>
<text x="68.10" y="291.80" font-size="6.42" text-anchor="start" fill="#333" stroke="#333" stroke-width="0.06" textLength="32.02" lengthAdjust="spacingAndGlyphs" >Clonotype 8</text>
<text x="81.50" y="299.50" font-size="6.42" text-anchor="start" fill="#333" stroke="#333" stroke-width="0.06" textLength="32.02" lengthAdjust="spacingAndGlyphs" >Clonotype 9</text>
<text x="121.90" y="299.20" font-size="6.42" text-anchor="start" fill="#333" stroke="#333" stroke-width="0.06" textLength="35.36" lengthAdjust="spacingAndGlyphs" >Clonotype 10</text>
<text x="135.40" y="291.60" font-size="6.42" text-anchor="start" fill="#333" stroke="#333" stroke-width="0.06" textLength="34.91" lengthAdjust="spacingAndGlyphs" >Clonotype 11</text>
<text x="148.60" y="280.80" font-size="6.42" text-anchor="start" fill="#333" stroke="#333" stroke-width="0.06" textLength="35.36" lengthAdjust="spacingAndGlyphs" >Clonotype 12</text>
<text x="158.00" y="261.50" font-size="6.42" text-anchor="start" fill="#333" stroke="#333" stroke-width="0.06" textLength="35.36" lengthAdjust="spacingAndGlyphs" >Clonotype 13</text>
<text x="158.20" y="237.90" font-size="6.42" text-anchor="start" fill="#333" stroke="#333" stroke-width="0.06" textLength="35.36" lengthAdjust="spacingAndGlyphs" >Clonotype 14</text>
<text x="144.90" y="216.70" font-size="6.42" text-anchor="start" fill="#333" stroke="#333" stroke-width="0.06" textLength="35.36" lengthAdjust="spacingAndGlyphs" >Clonotype 15</text>
<text x="134.60" y="211.00" font-size="6.42" text-anchor="start" fill="#333" stroke="#333" stroke-width="0.06" textLength="35.36" lengthAdjust="spacingAndGlyphs" >Clonotype 16</text>
<text x="121.50" y="203.80" font-size="6.42" text-anchor="start" fill="#333" stroke="#333" stroke-width="0.06" textLength="35.36" lengthAdjust="spacingAndGlyphs" >Clonotype 17</text>
<path d="M354.60,251.50L354.60,212.00A39.5,39.5 0 0 1 362.88,212.88Z" fill="#b4464f" stroke="#b4464f" stroke-width="0.3"/>
<path d="M354.60,251.50L362.88,212.88A39.5,39.5 0 0 1 371.92,216.00Z" fill="#e9704e" stroke="#e9704e" stroke-width="0.3"/>
<path d="M354.60,251.50L371.92,216.00A39.5,39.5 0 0 1 379.62,220.93Z" fill="#f1deb2" stroke="#f1deb2" stroke-width="0.3"/>
<path d="M354.60,251.50L379.62,220.93A39.5,39.5 0 0 1 385.81,227.29Z" fill="#96d5c3" stroke="#96d5c3" stroke-width="0.3"/>
<path d="M354.60,251.50L385.81,227.29A39.5,39.5 0 0 1 394.10,251.84Z" fill="#f2a11f" stroke="#f2a11f" stroke-width="0.3"/>
<path d="M354.60,251.50L394.10,251.84A39.5,39.5 0 0 1 385.85,275.66Z" fill="#0d2a3a" stroke="#0d2a3a" stroke-width="0.3"/>
<path d="M354.60,251.50L385.85,275.66A39.5,39.5 0 0 1 379.78,281.94Z" fill="#ad4250" stroke="#ad4250" stroke-width="0.3"/>
<path d="M354.60,251.50L379.78,281.94A39.5,39.5 0 0 1 362.14,290.27Z" fill="#e9704e" stroke="#e9704e" stroke-width="0.3"/>
<path d="M354.60,251.50L362.14,290.27A39.5,39.5 0 0 1 345.31,289.89Z" fill="#f1deb2" stroke="#f1deb2" stroke-width="0.3"/>
<path d="M354.60,251.50L345.31,289.89A39.5,39.5 0 0 1 318.57,267.69Z" fill="#96d5c3" stroke="#96d5c3" stroke-width="0.3"/>
<path d="M354.60,251.50L318.57,267.69A39.5,39.5 0 0 1 316.04,260.05Z" fill="#f2a11f" stroke="#f2a11f" stroke-width="0.3"/>
<path d="M354.60,251.50L316.04,260.05A39.5,39.5 0 0 1 315.96,243.29Z" fill="#196478" stroke="#196478" stroke-width="0.3"/>
<path d="M354.60,251.50L315.96,243.29A39.5,39.5 0 0 1 318.74,234.93Z" fill="#0d2a3a" stroke="#0d2a3a" stroke-width="0.3"/>
<path d="M354.60,251.50L318.74,234.93A39.5,39.5 0 0 1 322.64,228.28Z" fill="#ef7b78" stroke="#ef7b78" stroke-width="0.3"/>
<path d="M354.60,251.50L322.64,228.28A39.5,39.5 0 0 1 329.05,221.37Z" fill="#8db056" stroke="#8db056" stroke-width="0.3"/>
<path d="M354.60,251.50L329.05,221.37A39.5,39.5 0 0 1 346.39,212.86Z" fill="#e8246e" stroke="#e8246e" stroke-width="0.3"/>
<path d="M354.60,251.50L346.39,212.86A39.5,39.5 0 0 1 354.60,212.00Z" fill="#0d2a3a" stroke="#0d2a3a" stroke-width="0.3"/>
<text x="357.51" y="225.40" font-size="6.31" text-anchor="middle" fill="#101010" stroke="#101010" stroke-width="0.25" textLength="3.28" lengthAdjust="spacingAndGlyphs" opacity="0.62">2</text>
<text x="363.62" y="226.76" font-size="6.31" text-anchor="middle" fill="#101010" stroke="#101010" stroke-width="0.25" textLength="3.28" lengthAdjust="spacingAndGlyphs" opacity="0.62">2</text>
<text x="369.52" y="229.62" font-size="6.31" text-anchor="middle" fill="#101010" stroke="#101010" stroke-width="0.25" textLength="3.28" lengthAdjust="spacingAndGlyphs" opacity="0.62">2</text>
<text x="374.41" y="233.61" font-size="6.31" text-anchor="middle" fill="#101010" stroke="#101010" stroke-width="0.25" textLength="3.28" lengthAdjust="spacingAndGlyphs" opacity="0.62">2</text>
<text x="380.80" y="244.06" font-size="6.31" text-anchor="middle" fill="#101010" stroke="#101010" stroke-width="0.25" textLength="3.28" lengthAdjust="spacingAndGlyphs" opacity="0.62">4</text>
<text x="380.73" y="261.95" font-size="6.31" text-anchor="middle" fill="#f2f4f6" stroke="#f2f4f6" stroke-width="0.25" textLength="3.28" lengthAdjust="spacingAndGlyphs" opacity="0.9">4</text>
<text x="374.47" y="272.12" font-size="6.31" text-anchor="middle" fill="#101010" stroke="#101010" stroke-width="0.25" textLength="3.28" lengthAdjust="spacingAndGlyphs" opacity="0.62">2</text>
<text x="366.42" y="277.90" font-size="6.31" text-anchor="middle" fill="#101010" stroke="#101010" stroke-width="0.25" textLength="3.28" lengthAdjust="spacingAndGlyphs" opacity="0.62">3</text>
<text x="353.97" y="280.54" font-size="6.31" text-anchor="middle" fill="#101010" stroke="#101010" stroke-width="0.25" textLength="3.28" lengthAdjust="spacingAndGlyphs" opacity="0.62">3</text>
<text x="336.94" y="274.17" font-size="6.31" text-anchor="middle" fill="#101010" stroke="#101010" stroke-width="0.25" textLength="3.28" lengthAdjust="spacingAndGlyphs" opacity="0.62">5</text>
<text x="328.36" y="261.60" font-size="6.31" text-anchor="middle" fill="#101010" stroke="#101010" stroke-width="0.25" textLength="3.28" lengthAdjust="spacingAndGlyphs" opacity="0.62">2</text>
<text x="326.95" y="253.02" font-size="6.31" text-anchor="middle" fill="#f2f4f6" stroke="#f2f4f6" stroke-width="0.25" textLength="3.28" lengthAdjust="spacingAndGlyphs" opacity="0.9">3</text>
<text x="328.36" y="244.17" font-size="6.31" text-anchor="middle" fill="#f2f4f6" stroke="#f2f4f6" stroke-width="0.25" textLength="3.28" lengthAdjust="spacingAndGlyphs" opacity="0.9">2</text>
<text x="330.75" y="238.91" font-size="6.31" text-anchor="middle" fill="#101010" stroke="#101010" stroke-width="0.25" textLength="3.28" lengthAdjust="spacingAndGlyphs" opacity="0.62">2</text>
<text x="334.33" y="234.10" font-size="6.31" text-anchor="middle" fill="#101010" stroke="#101010" stroke-width="0.25" textLength="3.28" lengthAdjust="spacingAndGlyphs" opacity="0.62">2</text>
<text x="342.41" y="228.08" font-size="6.31" text-anchor="middle" fill="#101010" stroke="#101010" stroke-width="0.25" textLength="3.28" lengthAdjust="spacingAndGlyphs" opacity="0.62">3</text>
<text x="351.71" y="225.40" font-size="6.31" text-anchor="middle" fill="#f2f4f6" stroke="#f2f4f6" stroke-width="0.25" textLength="3.28" lengthAdjust="spacingAndGlyphs" opacity="0.9">2</text>
<text x="352.60" y="190.40" font-size="8.24" text-anchor="middle" fill="#333" stroke="#333" stroke-width="0.16" textLength="76.62" lengthAdjust="spacingAndGlyphs" >Posttransplant relapse</text>
<text x="356.50" y="204.10" font-size="6.42" text-anchor="start" fill="#333" stroke="#333" stroke-width="0.06" textLength="32.02" lengthAdjust="spacingAndGlyphs" >Clonotype 1</text>
<text x="318.20" y="207.30" font-size="6.42" text-anchor="start" fill="#333" stroke="#333" stroke-width="0.06" textLength="32.02" lengthAdjust="spacingAndGlyphs" >Clonotype 2</text>
<text x="300.30" y="214.50" font-size="6.42" text-anchor="start" fill="#333" stroke="#333" stroke-width="0.06" textLength="32.02" lengthAdjust="spacingAndGlyphs" >Clonotype 3</text>
<text x="288.00" y="223.00" font-size="6.42" text-anchor="start" fill="#333" stroke="#333" stroke-width="0.06" textLength="32.02" lengthAdjust="spacingAndGlyphs" >Clonotype 4</text>
<text x="282.30" y="230.70" font-size="6.42" text-anchor="start" fill="#333" stroke="#333" stroke-width="0.06" textLength="32.02" lengthAdjust="spacingAndGlyphs" >Clonotype 5</text>
<text x="280.00" y="239.60" font-size="6.42" text-anchor="start" fill="#333" stroke="#333" stroke-width="0.06" textLength="32.02" lengthAdjust="spacingAndGlyphs" >Clonotype 6</text>
<text x="276.90" y="253.20" font-size="6.42" text-anchor="start" fill="#333" stroke="#333" stroke-width="0.06" textLength="32.02" lengthAdjust="spacingAndGlyphs" >Clonotype 7</text>
<text x="279.20" y="268.00" font-size="6.42" text-anchor="start" fill="#333" stroke="#333" stroke-width="0.06" textLength="32.02" lengthAdjust="spacingAndGlyphs" >Clonotype 8</text>
<text x="292.30" y="289.10" font-size="6.42" text-anchor="start" fill="#333" stroke="#333" stroke-width="0.06" textLength="32.02" lengthAdjust="spacingAndGlyphs" >Clonotype 9</text>
<text x="332.70" y="300.30" font-size="6.42" text-anchor="start" fill="#333" stroke="#333" stroke-width="0.06" textLength="35.36" lengthAdjust="spacingAndGlyphs" >Clonotype 10</text>
<text x="373.00" y="293.40" font-size="6.42" text-anchor="start" fill="#333" stroke="#333" stroke-width="0.06" textLength="34.91" lengthAdjust="spacingAndGlyphs" >Clonotype 11</text>
<text x="385.60" y="284.30" font-size="6.42" text-anchor="start" fill="#333" stroke="#333" stroke-width="0.06" textLength="35.36" lengthAdjust="spacingAndGlyphs" >Clonotype 12</text>
<text x="396.20" y="268.00" font-size="6.42" text-anchor="start" fill="#333" stroke="#333" stroke-width="0.06" textLength="35.36" lengthAdjust="spacingAndGlyphs" >Clonotype 13</text>
<text x="396.30" y="242.90" font-size="6.42" text-anchor="start" fill="#333" stroke="#333" stroke-width="0.06" textLength="35.36" lengthAdjust="spacingAndGlyphs" >Clonotype 14</text>
<text x="385.80" y="225.70" font-size="6.42" text-anchor="start" fill="#333" stroke="#333" stroke-width="0.06" textLength="35.36" lengthAdjust="spacingAndGlyphs" >Clonotype 15</text>
<text x="379.00" y="218.40" font-size="6.42" text-anchor="start" fill="#333" stroke="#333" stroke-width="0.06" textLength="35.36" lengthAdjust="spacingAndGlyphs" >Clonotype 16</text>
<text x="368.50" y="212.20" font-size="6.42" text-anchor="start" fill="#333" stroke="#333" stroke-width="0.06" textLength="35.36" lengthAdjust="spacingAndGlyphs" >Clonotype 17</text>
<defs><linearGradient id="g0" gradientUnits="userSpaceOnUse" x1="17.5" y1="0" x2="192.8" y2="0"><stop offset="0" stop-color="#05a7e2"/><stop offset="1" stop-color="#05a7e2"/></linearGradient><linearGradient id="g1" gradientUnits="userSpaceOnUse" x1="17.5" y1="0" x2="192.8" y2="0"><stop offset="0" stop-color="#05a7e2"/><stop offset="1" stop-color="#be60ab"/></linearGradient><linearGradient id="g2" gradientUnits="userSpaceOnUse" x1="17.5" y1="0" x2="192.8" y2="0"><stop offset="0" stop-color="#be60ab"/><stop offset="1" stop-color="#05a7e2"/></linearGradient><linearGradient id="g3" gradientUnits="userSpaceOnUse" x1="17.5" y1="0" x2="192.8" y2="0"><stop offset="0" stop-color="#be60ab"/><stop offset="1" stop-color="#be60ab"/></linearGradient><linearGradient id="g4" gradientUnits="userSpaceOnUse" x1="17.5" y1="0" x2="192.8" y2="0"><stop offset="0" stop-color="#be60ab"/><stop offset="1" stop-color="#ed7f09"/></linearGradient><linearGradient id="g5" gradientUnits="userSpaceOnUse" x1="17.5" y1="0" x2="192.8" y2="0"><stop offset="0" stop-color="#be60ab"/><stop offset="1" stop-color="#18b0b5"/></linearGradient><linearGradient id="g6" gradientUnits="userSpaceOnUse" x1="17.5" y1="0" x2="192.8" y2="0"><stop offset="0" stop-color="#ed7f09"/><stop offset="1" stop-color="#be60ab"/></linearGradient><linearGradient id="g7" gradientUnits="userSpaceOnUse" x1="17.5" y1="0" x2="192.8" y2="0"><stop offset="0" stop-color="#ed7f09"/><stop offset="1" stop-color="#ed7f09"/></linearGradient><linearGradient id="g8" gradientUnits="userSpaceOnUse" x1="17.5" y1="0" x2="192.8" y2="0"><stop offset="0" stop-color="#f7b51e"/><stop offset="1" stop-color="#ed7f09"/></linearGradient><linearGradient id="g9" gradientUnits="userSpaceOnUse" x1="17.5" y1="0" x2="192.8" y2="0"><stop offset="0" stop-color="#f7b51e"/><stop offset="1" stop-color="#f7b51e"/></linearGradient><linearGradient id="g10" gradientUnits="userSpaceOnUse" x1="17.5" y1="0" x2="192.8" y2="0"><stop offset="0" stop-color="#43a050"/><stop offset="1" stop-color="#43a050"/></linearGradient><linearGradient id="g11" gradientUnits="userSpaceOnUse" x1="17.5" y1="0" x2="192.8" y2="0"><stop offset="0" stop-color="#18b0b5"/><stop offset="1" stop-color="#ed7f09"/></linearGradient></defs>
<path d="M17.50,325.00 L21.15,325.00 L24.80,325.00 L28.46,325.00 L32.11,325.00 L35.76,325.00 L39.41,325.00 L43.06,325.00 L46.72,325.00 L50.37,325.00 L54.02,325.00 L57.67,325.00 L61.33,325.00 L64.98,325.00 L68.63,325.00 L72.28,325.00 L75.93,325.00 L79.59,325.00 L83.24,325.00 L86.89,325.00 L90.54,325.00 L94.19,325.00 L97.85,325.00 L101.50,325.00 L105.15,325.00 L108.80,325.00 L112.45,325.00 L116.11,325.00 L119.76,325.00 L123.41,325.00 L127.06,325.00 L130.71,325.00 L134.37,325.00 L138.02,325.00 L141.67,325.00 L145.32,325.00 L148.98,325.00 L152.63,325.00 L156.28,325.00 L159.93,325.00 L163.58,325.00 L167.24,325.00 L170.89,325.00 L174.54,325.00 L178.19,325.00 L181.84,325.00 L185.50,325.00 L189.15,325.00 L192.80,325.00 L192.80,357.00 L189.15,357.00 L185.50,357.00 L181.84,357.00 L178.19,357.00 L174.54,357.00 L170.89,357.00 L167.24,357.00 L163.58,357.00 L159.93,357.00 L156.28,357.00 L152.63,357.00 L148.98,357.00 L145.32,357.00 L141.67,357.00 L138.02,357.00 L134.37,357.00 L130.71,357.00 L127.06,357.00 L123.41,357.00 L119.76,357.00 L116.11,357.00 L112.45,357.00 L108.80,357.00 L105.15,357.00 L101.50,357.00 L97.85,357.00 L94.19,357.00 L90.54,357.00 L86.89,357.00 L83.24,357.00 L79.59,357.00 L75.93,357.00 L72.28,357.00 L68.63,357.00 L64.98,357.00 L61.33,357.00 L57.67,357.00 L54.02,357.00 L50.37,357.00 L46.72,357.00 L43.06,357.00 L39.41,357.00 L35.76,357.00 L32.11,357.00 L28.46,357.00 L24.80,357.00 L21.15,357.00 L17.50,357.00 Z" fill="url(#g0)" fill-opacity="0.85"/>
<path d="M17.50,357.00 L21.15,357.01 L24.80,357.04 L28.46,357.10 L32.11,357.19 L35.76,357.30 L39.41,357.46 L43.06,357.64 L46.72,357.87 L50.37,358.12 L54.02,358.42 L57.67,358.75 L61.33,359.12 L64.98,359.52 L68.63,359.95 L72.28,360.41 L75.93,360.90 L79.59,361.42 L83.24,361.96 L86.89,362.52 L90.54,363.09 L94.19,363.68 L97.85,364.28 L101.50,364.89 L105.15,365.50 L108.80,366.11 L112.45,366.72 L116.11,367.32 L119.76,367.91 L123.41,368.48 L127.06,369.04 L130.71,369.58 L134.37,370.10 L138.02,370.59 L141.67,371.05 L145.32,371.48 L148.98,371.88 L152.63,372.25 L156.28,372.58 L159.93,372.88 L163.58,373.13 L167.24,373.36 L170.89,373.54 L174.54,373.70 L178.19,373.81 L181.84,373.90 L185.50,373.96 L189.15,373.99 L192.80,374.00 L192.80,403.00 L189.15,402.98 L185.50,402.92 L181.84,402.82 L178.19,402.66 L174.54,402.45 L170.89,402.17 L167.24,401.83 L163.58,401.42 L159.93,400.95 L156.28,400.41 L152.63,399.81 L148.98,399.14 L145.32,398.41 L141.67,397.62 L138.02,396.78 L134.37,395.88 L130.71,394.94 L127.06,393.96 L123.41,392.94 L119.76,391.89 L116.11,390.81 L112.45,389.72 L108.80,388.61 L105.15,387.50 L101.50,386.39 L97.85,385.28 L94.19,384.19 L90.54,383.11 L86.89,382.06 L83.24,381.04 L79.59,380.06 L75.93,379.12 L72.28,378.22 L68.63,377.38 L64.98,376.59 L61.33,375.86 L57.67,375.19 L54.02,374.59 L50.37,374.05 L46.72,373.58 L43.06,373.17 L39.41,372.83 L35.76,372.55 L32.11,372.34 L28.46,372.18 L24.80,372.08 L21.15,372.02 L17.50,372.00 Z" fill="url(#g1)" fill-opacity="0.85"/>
<path d="M17.50,375.00 L21.15,374.99 L24.80,374.96 L28.46,374.90 L32.11,374.80 L35.76,374.68 L39.41,374.52 L43.06,374.32 L46.72,374.08 L50.37,373.81 L54.02,373.50 L57.67,373.14 L61.33,372.76 L64.98,372.33 L68.63,371.88 L72.28,371.39 L75.93,370.87 L79.59,370.32 L83.24,369.75 L86.89,369.16 L90.54,368.55 L94.19,367.92 L97.85,367.29 L101.50,366.65 L105.15,366.00 L108.80,365.35 L112.45,364.71 L116.11,364.08 L119.76,363.45 L123.41,362.84 L127.06,362.25 L130.71,361.68 L134.37,361.13 L138.02,360.61 L141.67,360.12 L145.32,359.67 L148.98,359.24 L152.63,358.86 L156.28,358.50 L159.93,358.19 L163.58,357.92 L167.24,357.68 L170.89,357.48 L174.54,357.32 L178.19,357.20 L181.84,357.10 L185.50,357.04 L189.15,357.01 L192.80,357.00 L192.80,371.00 L189.15,371.01 L185.50,371.05 L181.84,371.12 L178.19,371.22 L174.54,371.36 L170.89,371.54 L167.24,371.76 L163.58,372.02 L159.93,372.32 L156.28,372.67 L152.63,373.06 L148.98,373.49 L145.32,373.96 L141.67,374.47 L138.02,375.02 L134.37,375.59 L130.71,376.20 L127.06,376.83 L123.41,377.49 L119.76,378.17 L116.11,378.86 L112.45,379.57 L108.80,380.28 L105.15,381.00 L101.50,381.72 L97.85,382.43 L94.19,383.14 L90.54,383.83 L86.89,384.51 L83.24,385.17 L79.59,385.80 L75.93,386.41 L72.28,386.98 L68.63,387.53 L64.98,388.04 L61.33,388.51 L57.67,388.94 L54.02,389.33 L50.37,389.68 L46.72,389.98 L43.06,390.24 L39.41,390.46 L35.76,390.64 L32.11,390.78 L28.46,390.88 L24.80,390.95 L21.15,390.99 L17.50,391.00 Z" fill="url(#g2)" fill-opacity="0.85"/>
<path d="M17.50,391.00 L21.15,391.01 L24.80,391.03 L28.46,391.07 L32.11,391.13 L35.76,391.21 L39.41,391.32 L43.06,391.45 L46.72,391.61 L50.37,391.79 L54.02,392.00 L57.67,392.24 L61.33,392.50 L64.98,392.78 L68.63,393.08 L72.28,393.41 L75.93,393.76 L79.59,394.12 L83.24,394.50 L86.89,394.89 L90.54,395.30 L94.19,395.72 L97.85,396.14 L101.50,396.57 L105.15,397.00 L108.80,397.43 L112.45,397.86 L116.11,398.28 L119.76,398.70 L123.41,399.11 L127.06,399.50 L130.71,399.88 L134.37,400.24 L138.02,400.59 L141.67,400.92 L145.32,401.22 L148.98,401.50 L152.63,401.76 L156.28,402.00 L159.93,402.21 L163.58,402.39 L167.24,402.55 L170.89,402.68 L174.54,402.79 L178.19,402.87 L181.84,402.93 L185.50,402.97 L189.15,402.99 L192.80,403.00 L192.80,479.00 L189.15,479.00 L185.50,479.00 L181.84,478.99 L178.19,478.99 L174.54,478.98 L170.89,478.97 L167.24,478.96 L163.58,478.95 L159.93,478.93 L156.28,478.92 L152.63,478.90 L148.98,478.88 L145.32,478.85 L141.67,478.83 L138.02,478.80 L134.37,478.77 L130.71,478.74 L127.06,478.71 L123.41,478.68 L119.76,478.64 L116.11,478.61 L112.45,478.57 L108.80,478.54 L105.15,478.50 L101.50,478.46 L97.85,478.43 L94.19,478.39 L90.54,478.36 L86.89,478.32 L83.24,478.29 L79.59,478.26 L75.93,478.23 L72.28,478.20 L68.63,478.17 L64.98,478.15 L61.33,478.12 L57.67,478.10 L54.02,478.08 L50.37,478.07 L46.72,478.05 L43.06,478.04 L39.41,478.03 L35.76,478.02 L32.11,478.01 L28.46,478.01 L24.80,478.00 L21.15,478.00 L17.50,478.00 Z" fill="url(#g3)" fill-opacity="0.85"/>
<path d="M17.50,478.00 L21.15,478.00 L24.80,478.02 L28.46,478.05 L32.11,478.09 L35.76,478.14 L39.41,478.21 L43.06,478.30 L46.72,478.41 L50.37,478.53 L54.02,478.67 L57.67,478.82 L61.33,479.00 L64.98,479.19 L68.63,479.39 L72.28,479.61 L75.93,479.84 L79.59,480.08 L83.24,480.33 L86.89,480.60 L90.54,480.87 L94.19,481.14 L97.85,481.43 L101.50,481.71 L105.15,482.00 L108.80,482.29 L112.45,482.57 L116.11,482.86 L119.76,483.13 L123.41,483.40 L127.06,483.67 L130.71,483.92 L134.37,484.16 L138.02,484.39 L141.67,484.61 L145.32,484.81 L148.98,485.00 L152.63,485.18 L156.28,485.33 L159.93,485.47 L163.58,485.59 L167.24,485.70 L170.89,485.79 L174.54,485.86 L178.19,485.91 L181.84,485.95 L185.50,485.98 L189.15,486.00 L192.80,486.00 L192.80,496.00 L189.15,496.00 L185.50,495.98 L181.84,495.95 L178.19,495.91 L174.54,495.86 L170.89,495.79 L167.24,495.70 L163.58,495.59 L159.93,495.47 L156.28,495.33 L152.63,495.18 L148.98,495.00 L145.32,494.81 L141.67,494.61 L138.02,494.39 L134.37,494.16 L130.71,493.92 L127.06,493.67 L123.41,493.40 L119.76,493.13 L116.11,492.86 L112.45,492.57 L108.80,492.29 L105.15,492.00 L101.50,491.71 L97.85,491.43 L94.19,491.14 L90.54,490.87 L86.89,490.60 L83.24,490.33 L79.59,490.08 L75.93,489.84 L72.28,489.61 L68.63,489.39 L64.98,489.19 L61.33,489.00 L57.67,488.82 L54.02,488.67 L50.37,488.53 L46.72,488.41 L43.06,488.30 L39.41,488.21 L35.76,488.14 L32.11,488.09 L28.46,488.05 L24.80,488.02 L21.15,488.00 L17.50,488.00 Z" fill="url(#g4)" fill-opacity="0.85"/>
<path d="M17.50,489.00 L21.15,489.02 L24.80,489.10 L28.46,489.24 L32.11,489.45 L35.76,489.73 L39.41,490.10 L43.06,490.55 L46.72,491.09 L50.37,491.71 L54.02,492.43 L57.67,493.23 L61.33,494.11 L64.98,495.07 L68.63,496.12 L72.28,497.23 L75.93,498.41 L79.59,499.66 L83.24,500.96 L86.89,502.31 L90.54,503.70 L94.19,505.12 L97.85,506.56 L101.50,508.03 L105.15,509.50 L108.80,510.97 L112.45,512.44 L116.11,513.88 L119.76,515.30 L123.41,516.69 L127.06,518.04 L130.71,519.34 L134.37,520.59 L138.02,521.77 L141.67,522.88 L145.32,523.93 L148.98,524.89 L152.63,525.77 L156.28,526.57 L159.93,527.29 L163.58,527.91 L167.24,528.45 L170.89,528.90 L174.54,529.27 L178.19,529.55 L181.84,529.76 L185.50,529.90 L189.15,529.98 L192.80,530.00 L192.80,536.00 L189.15,535.98 L185.50,535.90 L181.84,535.77 L178.19,535.56 L174.54,535.28 L170.89,534.93 L167.24,534.49 L163.58,533.96 L159.93,533.35 L156.28,532.66 L152.63,531.88 L148.98,531.02 L145.32,530.07 L141.67,529.06 L138.02,527.97 L134.37,526.81 L130.71,525.60 L127.06,524.33 L123.41,523.02 L119.76,521.66 L116.11,520.28 L112.45,518.86 L108.80,517.44 L105.15,516.00 L101.50,514.56 L97.85,513.14 L94.19,511.72 L90.54,510.34 L86.89,508.98 L83.24,507.67 L79.59,506.40 L75.93,505.19 L72.28,504.03 L68.63,502.94 L64.98,501.93 L61.33,500.98 L57.67,500.12 L54.02,499.34 L50.37,498.65 L46.72,498.04 L43.06,497.51 L39.41,497.07 L35.76,496.72 L32.11,496.44 L28.46,496.23 L24.80,496.10 L21.15,496.02 L17.50,496.00 Z" fill="url(#g5)" fill-opacity="0.85"/>
<path d="M17.50,499.00 L21.15,498.99 L24.80,498.95 L28.46,498.89 L32.11,498.79 L35.76,498.66 L39.41,498.49 L43.06,498.28 L46.72,498.03 L50.37,497.74 L54.02,497.41 L57.67,497.04 L61.33,496.63 L64.98,496.19 L68.63,495.70 L72.28,495.19 L75.93,494.64 L79.59,494.06 L83.24,493.46 L86.89,492.83 L90.54,492.19 L94.19,491.53 L97.85,490.86 L101.50,490.18 L105.15,489.50 L108.80,488.82 L112.45,488.14 L116.11,487.47 L119.76,486.81 L123.41,486.17 L127.06,485.54 L130.71,484.94 L134.37,484.36 L138.02,483.81 L141.67,483.30 L145.32,482.81 L148.98,482.37 L152.63,481.96 L156.28,481.59 L159.93,481.26 L163.58,480.97 L167.24,480.72 L170.89,480.51 L174.54,480.34 L178.19,480.21 L181.84,480.11 L185.50,480.05 L189.15,480.01 L192.80,480.00 L192.80,483.00 L189.15,483.01 L185.50,483.05 L181.84,483.11 L178.19,483.21 L174.54,483.34 L170.89,483.51 L167.24,483.72 L163.58,483.97 L159.93,484.26 L156.28,484.59 L152.63,484.96 L148.98,485.37 L145.32,485.81 L141.67,486.30 L138.02,486.81 L134.37,487.36 L130.71,487.94 L127.06,488.54 L123.41,489.17 L119.76,489.81 L116.11,490.47 L112.45,491.14 L108.80,491.82 L105.15,492.50 L101.50,493.18 L97.85,493.86 L94.19,494.53 L90.54,495.19 L86.89,495.83 L83.24,496.46 L79.59,497.06 L75.93,497.64 L72.28,498.19 L68.63,498.70 L64.98,499.19 L61.33,499.63 L57.67,500.04 L54.02,500.41 L50.37,500.74 L46.72,501.03 L43.06,501.28 L39.41,501.49 L35.76,501.66 L32.11,501.79 L28.46,501.89 L24.80,501.95 L21.15,501.99 L17.50,502.00 Z" fill="url(#g6)" fill-opacity="0.85"/>
<path d="M17.50,502.00 L21.15,502.00 L24.80,501.99 L28.46,501.97 L32.11,501.93 L35.76,501.89 L39.41,501.84 L43.06,501.77 L46.72,501.69 L50.37,501.60 L54.02,501.50 L57.67,501.38 L61.33,501.25 L64.98,501.11 L68.63,500.96 L72.28,500.80 L75.93,500.62 L79.59,500.44 L83.24,500.25 L86.89,500.05 L90.54,499.85 L94.19,499.64 L97.85,499.43 L101.50,499.22 L105.15,499.00 L108.80,498.78 L112.45,498.57 L116.11,498.36 L119.76,498.15 L123.41,497.95 L127.06,497.75 L130.71,497.56 L134.37,497.38 L138.02,497.20 L141.67,497.04 L145.32,496.89 L148.98,496.75 L152.63,496.62 L156.28,496.50 L159.93,496.40 L163.58,496.31 L167.24,496.23 L170.89,496.16 L174.54,496.11 L178.19,496.07 L181.84,496.03 L185.50,496.01 L189.15,496.00 L192.80,496.00 L192.80,500.00 L189.15,500.00 L185.50,500.01 L181.84,500.03 L178.19,500.07 L174.54,500.11 L170.89,500.16 L167.24,500.23 L163.58,500.31 L159.93,500.40 L156.28,500.50 L152.63,500.62 L148.98,500.75 L145.32,500.89 L141.67,501.04 L138.02,501.20 L134.37,501.38 L130.71,501.56 L127.06,501.75 L123.41,501.95 L119.76,502.15 L116.11,502.36 L112.45,502.57 L108.80,502.78 L105.15,503.00 L101.50,503.22 L97.85,503.43 L94.19,503.64 L90.54,503.85 L86.89,504.05 L83.24,504.25 L79.59,504.44 L75.93,504.62 L72.28,504.80 L68.63,504.96 L64.98,505.11 L61.33,505.25 L57.67,505.38 L54.02,505.50 L50.37,505.60 L46.72,505.69 L43.06,505.77 L39.41,505.84 L35.76,505.89 L32.11,505.93 L28.46,505.97 L24.80,505.99 L21.15,506.00 L17.50,506.00 Z" fill="url(#g7)" fill-opacity="0.85"/>
<path d="M17.50,509.00 L21.15,508.99 L24.80,508.98 L28.46,508.95 L32.11,508.90 L35.76,508.84 L39.41,508.76 L43.06,508.66 L46.72,508.54 L50.37,508.40 L54.02,508.25 L57.67,508.07 L61.33,507.88 L64.98,507.67 L68.63,507.44 L72.28,507.19 L75.93,506.93 L79.59,506.66 L83.24,506.37 L86.89,506.08 L90.54,505.77 L94.19,505.46 L97.85,505.14 L101.50,504.82 L105.15,504.50 L108.80,504.18 L112.45,503.86 L116.11,503.54 L119.76,503.23 L123.41,502.92 L127.06,502.63 L130.71,502.34 L134.37,502.07 L138.02,501.81 L141.67,501.56 L145.32,501.33 L148.98,501.12 L152.63,500.93 L156.28,500.75 L159.93,500.60 L163.58,500.46 L167.24,500.34 L170.89,500.24 L174.54,500.16 L178.19,500.10 L181.84,500.05 L185.50,500.02 L189.15,500.01 L192.80,500.00 L192.80,504.00 L189.15,504.01 L185.50,504.03 L181.84,504.08 L178.19,504.15 L174.54,504.25 L170.89,504.38 L167.24,504.53 L163.58,504.71 L159.93,504.93 L156.28,505.17 L152.63,505.44 L148.98,505.74 L145.32,506.07 L141.67,506.43 L138.02,506.81 L134.37,507.21 L130.71,507.64 L127.06,508.08 L123.41,508.54 L119.76,509.02 L116.11,509.50 L112.45,510.00 L108.80,510.50 L105.15,511.00 L101.50,511.50 L97.85,512.00 L94.19,512.50 L90.54,512.98 L86.89,513.46 L83.24,513.92 L79.59,514.36 L75.93,514.79 L72.28,515.19 L68.63,515.57 L64.98,515.93 L61.33,516.26 L57.67,516.56 L54.02,516.83 L50.37,517.07 L46.72,517.29 L43.06,517.47 L39.41,517.62 L35.76,517.75 L32.11,517.85 L28.46,517.92 L24.80,517.97 L21.15,517.99 L17.50,518.00 Z" fill="url(#g8)" fill-opacity="0.85"/>
<path d="M17.50,518.00 L21.15,518.00 L24.80,517.99 L28.46,517.97 L32.11,517.93 L35.76,517.89 L39.41,517.84 L43.06,517.77 L46.72,517.69 L50.37,517.60 L54.02,517.50 L57.67,517.38 L61.33,517.25 L64.98,517.11 L68.63,516.96 L72.28,516.80 L75.93,516.62 L79.59,516.44 L83.24,516.25 L86.89,516.05 L90.54,515.85 L94.19,515.64 L97.85,515.43 L101.50,515.22 L105.15,515.00 L108.80,514.78 L112.45,514.57 L116.11,514.36 L119.76,514.15 L123.41,513.95 L127.06,513.75 L130.71,513.56 L134.37,513.38 L138.02,513.20 L141.67,513.04 L145.32,512.89 L148.98,512.75 L152.63,512.62 L156.28,512.50 L159.93,512.40 L163.58,512.31 L167.24,512.23 L170.89,512.16 L174.54,512.11 L178.19,512.07 L181.84,512.03 L185.50,512.01 L189.15,512.00 L192.80,512.00 L192.80,518.00 L189.15,518.00 L185.50,518.01 L181.84,518.02 L178.19,518.04 L174.54,518.07 L170.89,518.11 L167.24,518.15 L163.58,518.20 L159.93,518.26 L156.28,518.33 L152.63,518.41 L148.98,518.50 L145.32,518.59 L141.67,518.69 L138.02,518.80 L134.37,518.92 L130.71,519.04 L127.06,519.17 L123.41,519.30 L119.76,519.43 L116.11,519.57 L112.45,519.71 L108.80,519.86 L105.15,520.00 L101.50,520.14 L97.85,520.29 L94.19,520.43 L90.54,520.57 L86.89,520.70 L83.24,520.83 L79.59,520.96 L75.93,521.08 L72.28,521.20 L68.63,521.31 L64.98,521.41 L61.33,521.50 L57.67,521.59 L54.02,521.67 L50.37,521.74 L46.72,521.80 L43.06,521.85 L39.41,521.89 L35.76,521.93 L32.11,521.96 L28.46,521.98 L24.80,521.99 L21.15,522.00 L17.50,522.00 Z" fill="url(#g9)" fill-opacity="0.85"/>
<path d="M17.50,525.00 L21.15,525.00 L24.80,524.99 L28.46,524.98 L32.11,524.96 L35.76,524.93 L39.41,524.89 L43.06,524.85 L46.72,524.80 L50.37,524.74 L54.02,524.67 L57.67,524.59 L61.33,524.50 L64.98,524.41 L68.63,524.31 L72.28,524.20 L75.93,524.08 L79.59,523.96 L83.24,523.83 L86.89,523.70 L90.54,523.57 L94.19,523.43 L97.85,523.29 L101.50,523.14 L105.15,523.00 L108.80,522.86 L112.45,522.71 L116.11,522.57 L119.76,522.43 L123.41,522.30 L127.06,522.17 L130.71,522.04 L134.37,521.92 L138.02,521.80 L141.67,521.69 L145.32,521.59 L148.98,521.50 L152.63,521.41 L156.28,521.33 L159.93,521.26 L163.58,521.20 L167.24,521.15 L170.89,521.11 L174.54,521.07 L178.19,521.04 L181.84,521.02 L185.50,521.01 L189.15,521.00 L192.80,521.00 L192.80,528.00 L189.15,528.00 L185.50,528.01 L181.84,528.02 L178.19,528.04 L174.54,528.07 L170.89,528.11 L167.24,528.15 L163.58,528.20 L159.93,528.26 L156.28,528.33 L152.63,528.41 L148.98,528.50 L145.32,528.59 L141.67,528.69 L138.02,528.80 L134.37,528.92 L130.71,529.04 L127.06,529.17 L123.41,529.30 L119.76,529.43 L116.11,529.57 L112.45,529.71 L108.80,529.86 L105.15,530.00 L101.50,530.14 L97.85,530.29 L94.19,530.43 L90.54,530.57 L86.89,530.70 L83.24,530.83 L79.59,530.96 L75.93,531.08 L72.28,531.20 L68.63,531.31 L64.98,531.41 L61.33,531.50 L57.67,531.59 L54.02,531.67 L50.37,531.74 L46.72,531.80 L43.06,531.85 L39.41,531.89 L35.76,531.93 L32.11,531.96 L28.46,531.98 L24.80,531.99 L21.15,532.00 L17.50,532.00 Z" fill="url(#g10)" fill-opacity="0.85"/>
<path d="M17.50,535.00 L21.15,534.98 L24.80,534.92 L28.46,534.82 L32.11,534.66 L35.76,534.45 L39.41,534.17 L43.06,533.83 L46.72,533.42 L50.37,532.95 L54.02,532.41 L57.67,531.81 L61.33,531.14 L64.98,530.41 L68.63,529.62 L72.28,528.78 L75.93,527.88 L79.59,526.94 L83.24,525.96 L86.89,524.94 L90.54,523.89 L94.19,522.81 L97.85,521.72 L101.50,520.61 L105.15,519.50 L108.80,518.39 L112.45,517.28 L116.11,516.19 L119.76,515.11 L123.41,514.06 L127.06,513.04 L130.71,512.06 L134.37,511.12 L138.02,510.22 L141.67,509.38 L145.32,508.59 L148.98,507.86 L152.63,507.19 L156.28,506.59 L159.93,506.05 L163.58,505.58 L167.24,505.17 L170.89,504.83 L174.54,504.55 L178.19,504.34 L181.84,504.18 L185.50,504.08 L189.15,504.02 L192.80,504.00 L192.80,509.00 L189.15,509.02 L185.50,509.08 L181.84,509.20 L178.19,509.37 L174.54,509.61 L170.89,509.91 L167.24,510.29 L163.58,510.73 L159.93,511.25 L156.28,511.84 L152.63,512.50 L148.98,513.24 L145.32,514.04 L141.67,514.90 L138.02,515.83 L134.37,516.81 L130.71,517.84 L127.06,518.92 L123.41,520.04 L119.76,521.19 L116.11,522.37 L112.45,523.57 L108.80,524.78 L105.15,526.00 L101.50,527.22 L97.85,528.43 L94.19,529.63 L90.54,530.81 L86.89,531.96 L83.24,533.08 L79.59,534.16 L75.93,535.19 L72.28,536.17 L68.63,537.10 L64.98,537.96 L61.33,538.76 L57.67,539.50 L54.02,540.16 L50.37,540.75 L46.72,541.27 L43.06,541.71 L39.41,542.09 L35.76,542.39 L32.11,542.63 L28.46,542.80 L24.80,542.92 L21.15,542.98 L17.50,543.00 Z" fill="url(#g11)" fill-opacity="0.85"/>
<rect x="15.4" y="325.4" width="2.0999999999999996" height="46.30" fill="#1aa0d8"/>
<rect x="15.4" y="374.6" width="2.0999999999999996" height="121.00" fill="#b856a6"/>
<rect x="15.4" y="498.9" width="2.0999999999999996" height="6.80" fill="#e8801a"/>
<rect x="15.4" y="509" width="2.0999999999999996" height="13.10" fill="#f2b025"/>
<rect x="15.4" y="525.2" width="2.0999999999999996" height="7.00" fill="#3f9a4e"/>
<rect x="15.4" y="535.2" width="2.0999999999999996" height="7.50" fill="#20a8b2"/>
<rect x="192.8" y="325.4" width="4.0" height="45.60" fill="#1aa0d8"/>
<rect x="192.8" y="374.4" width="4.0" height="108.30" fill="#b856a6"/>
<rect x="192.8" y="486.3" width="4.0" height="22.70" fill="#e8801a"/>
<rect x="192.8" y="511.5" width="4.0" height="6.50" fill="#f2b025"/>
<rect x="192.8" y="521.2" width="4.0" height="6.50" fill="#3f9a4e"/>
<rect x="192.8" y="530.2" width="4.0" height="6.30" fill="#20a8b2"/>
<text x="20.70" y="350.70" font-size="6.42" text-anchor="start" fill="#173d6e" stroke="#173d6e" stroke-width="0.06" textLength="61.01" lengthAdjust="spacingAndGlyphs" >Activated CD8 (MHCII)</text>
<text x="191.10" y="350.40" font-size="6.42" text-anchor="end" fill="#173d6e" stroke="#173d6e" stroke-width="0.06" textLength="61.01" lengthAdjust="spacingAndGlyphs" >Activated CD8 (MHCII)</text>
<text x="20.90" y="430.90" font-size="6.42" text-anchor="start" fill="#4e1a4a" stroke="#4e1a4a" stroke-width="0.06" textLength="64.02" lengthAdjust="spacingAndGlyphs" >CD8 exhausted (MHCII)</text>
<text x="191.10" y="430.60" font-size="6.42" text-anchor="end" fill="#4e1a4a" stroke="#4e1a4a" stroke-width="0.06" textLength="64.02" lengthAdjust="spacingAndGlyphs" >CD8 exhausted (MHCII)</text>
<text x="21.50" y="504.60" font-size="6.42" text-anchor="start" fill="#5a2800" stroke="#5a2800" stroke-width="0.06" textLength="54.35" lengthAdjust="spacingAndGlyphs" >Activated CD8 (ISG)</text>
<text x="190.80" y="498.60" font-size="6.42" text-anchor="end" fill="#5a2800" stroke="#5a2800" stroke-width="0.06" textLength="54.35" lengthAdjust="spacingAndGlyphs" >Activated CD8 (ISG)</text>
<text x="21.50" y="518.80" font-size="6.42" text-anchor="start" fill="#5a4200" stroke="#5a4200" stroke-width="0.06" textLength="35.34" lengthAdjust="spacingAndGlyphs" >CD8 memory</text>
<text x="190.80" y="517.30" font-size="6.42" text-anchor="end" fill="#5a4200" stroke="#5a4200" stroke-width="0.06" textLength="35.34" lengthAdjust="spacingAndGlyphs" >CD8 memory</text>
<text x="21.50" y="530.80" font-size="6.42" text-anchor="start" fill="#173a1e" stroke="#173a1e" stroke-width="0.06" textLength="12.00" lengthAdjust="spacingAndGlyphs" >DPT</text>
<text x="190.80" y="526.30" font-size="6.42" text-anchor="end" fill="#173a1e" stroke="#173a1e" stroke-width="0.06" textLength="12.00" lengthAdjust="spacingAndGlyphs" >DPT</text>
<text x="21.50" y="540.90" font-size="6.42" text-anchor="start" fill="#0b3a52" stroke="#0b3a52" stroke-width="0.06" textLength="15.34" lengthAdjust="spacingAndGlyphs" >Naive</text>
<text x="190.80" y="535.00" font-size="6.42" text-anchor="end" fill="#0b3a52" stroke="#0b3a52" stroke-width="0.06" textLength="15.34" lengthAdjust="spacingAndGlyphs" >Naive</text>
<text x="6.90" y="552.90" font-size="8.13" text-anchor="start" fill="#333" stroke="#333" stroke-width="0.16" textLength="33.37" lengthAdjust="spacingAndGlyphs" >Diagnosis</text>
<text x="188.70" y="552.80" font-size="8.13" text-anchor="middle" fill="#333" stroke="#333" stroke-width="0.16" textLength="48.58" lengthAdjust="spacingAndGlyphs" >Posttransplant</text>
<text x="188.70" y="561.90" font-size="8.13" text-anchor="middle" fill="#333" stroke="#333" stroke-width="0.16" textLength="24.93" lengthAdjust="spacingAndGlyphs" >relapse</text>
<path d="M289.60,365.30L291.30,341.06A24.3,24.3 0 0 1 308.75,350.34Z" fill="#f08a22" stroke="#f08a22" stroke-width="0.3"/>
<path d="M289.60,365.30L308.75,350.34A24.3,24.3 0 0 1 313.90,365.30Z" fill="#f8b420" stroke="#f8b420" stroke-width="0.3"/>
<path d="M289.60,365.30L313.90,365.30A24.3,24.3 0 0 1 308.70,380.33Z" fill="#24adb5" stroke="#24adb5" stroke-width="0.3"/>
<path d="M289.60,365.30L308.70,380.33A24.3,24.3 0 0 1 301.38,386.55Z" fill="#20a0e0" stroke="#20a0e0" stroke-width="0.3"/>
<path d="M289.60,365.30L301.38,386.55A24.3,24.3 0 1 1 291.30,341.06Z" fill="#c45cb4" stroke="#c45cb4" stroke-width="0.3"/>
<path d="M434.90,369.40L454.43,355.11A24.2,24.2 0 0 1 459.05,367.80Z" fill="#f08a22" stroke="#f08a22" stroke-width="0.3"/>
<path d="M434.90,369.40L459.05,367.80A24.2,24.2 0 0 1 459.10,369.61Z" fill="#f8b420" stroke="#f8b420" stroke-width="0.3"/>
<path d="M434.90,369.40L459.10,369.61A24.2,24.2 0 0 1 459.04,371.13Z" fill="#24adb5" stroke="#24adb5" stroke-width="0.3"/>
<path d="M434.90,369.40L459.04,371.13A24.2,24.2 0 0 1 431.07,393.30Z" fill="#20a0e0" stroke="#20a0e0" stroke-width="0.3"/>
<path d="M434.90,369.40L431.07,393.30A24.2,24.2 0 1 1 454.43,355.11Z" fill="#c45cb4" stroke="#c45cb4" stroke-width="0.3"/>
<path d="M364.40,454.00L364.40,429.70A24.3,24.3 0 0 1 388.01,448.24Z" fill="#f08a22" stroke="#f08a22" stroke-width="0.3"/>
<path d="M364.40,454.00L388.01,448.24A24.3,24.3 0 0 1 388.70,454.00Z" fill="#f8b420" stroke="#f8b420" stroke-width="0.3"/>
<path d="M364.40,454.00L388.70,454.00A24.3,24.3 0 0 1 383.50,469.03Z" fill="#24adb5" stroke="#24adb5" stroke-width="0.3"/>
<path d="M364.40,454.00L383.50,469.03A24.3,24.3 0 0 1 377.81,474.26Z" fill="#20a0e0" stroke="#20a0e0" stroke-width="0.3"/>
<path d="M364.40,454.00L377.81,474.26A24.3,24.3 0 1 1 364.40,429.70Z" fill="#c45cb4" stroke="#c45cb4" stroke-width="0.3"/>
<text x="298.00" y="349.60" font-size="6.63" text-anchor="middle" fill="#6a2c00" stroke="#6a2c00" stroke-width="0.2" textLength="12.07" lengthAdjust="spacingAndGlyphs" >13.3</text>
<text x="297.40" y="356.00" font-size="6.63" text-anchor="middle" fill="#6a2c00" stroke="#6a2c00" stroke-width="0.2" textLength="5.51" lengthAdjust="spacingAndGlyphs" >%</text>
<text x="279.20" y="367.40" font-size="6.63" text-anchor="middle" fill="#5a1e58" stroke="#5a1e58" stroke-width="0.2" textLength="17.58" lengthAdjust="spacingAndGlyphs" >59.6%</text>
<text x="305.10" y="371.30" font-size="6.63" text-anchor="middle" fill="#0d4a58" stroke="#0d4a58" stroke-width="0.2" textLength="17.58" lengthAdjust="spacingAndGlyphs" >10.6%</text>
<text x="425.70" y="366.20" font-size="6.63" text-anchor="middle" fill="#5a1e58" stroke="#5a1e58" stroke-width="0.2" textLength="17.58" lengthAdjust="spacingAndGlyphs" >62.3%</text>
<text x="445.00" y="383.30" font-size="6.63" text-anchor="middle" fill="#0d3e6e" stroke="#0d3e6e" stroke-width="0.2" textLength="17.58" lengthAdjust="spacingAndGlyphs" >26.4%</text>
<text x="375.00" y="444.90" font-size="6.63" text-anchor="middle" fill="#6a2c00" stroke="#6a2c00" stroke-width="0.2" textLength="17.58" lengthAdjust="spacingAndGlyphs" >21.2%</text>
<text x="354.20" y="459.30" font-size="6.63" text-anchor="middle" fill="#5a1e58" stroke="#5a1e58" stroke-width="0.2" textLength="17.58" lengthAdjust="spacingAndGlyphs" >59.3%</text>
<text x="379.00" y="460.30" font-size="6.63" text-anchor="middle" fill="#0d4a58" stroke="#0d4a58" stroke-width="0.2" textLength="17.58" lengthAdjust="spacingAndGlyphs" >10.6%</text>
<text x="214.90" y="339.10" font-size="8.24" text-anchor="start" fill="#333" stroke="#333" stroke-width="0.16" textLength="33.81" lengthAdjust="spacingAndGlyphs" >Diagnosis</text>
<text x="262.90" y="365.50" font-size="6.37" text-anchor="end" fill="#333" stroke="#333" stroke-width="0.06" textLength="41.01" lengthAdjust="spacingAndGlyphs" >CD8 exhausted</text>
<text x="262.90" y="372.60" font-size="6.37" text-anchor="end" fill="#333" stroke="#333" stroke-width="0.06" textLength="20.82" lengthAdjust="spacingAndGlyphs" >(MHCII)</text>
<text x="305.10" y="343.90" font-size="6.37" text-anchor="start" fill="#333" stroke="#333" stroke-width="0.06" textLength="53.90" lengthAdjust="spacingAndGlyphs" >Activated CD8 (ISG)</text>
<text x="314.10" y="357.60" font-size="6.37" text-anchor="start" fill="#333" stroke="#333" stroke-width="0.06" textLength="35.04" lengthAdjust="spacingAndGlyphs" >CD8 memory</text>
<text x="318.20" y="376.20" font-size="6.37" text-anchor="start" fill="#333" stroke="#333" stroke-width="0.06" textLength="15.21" lengthAdjust="spacingAndGlyphs" >Naive</text>
<text x="305.70" y="390.80" font-size="6.37" text-anchor="start" fill="#333" stroke="#333" stroke-width="0.06" textLength="38.03" lengthAdjust="spacingAndGlyphs" >Activated CD8</text>
<text x="305.70" y="397.20" font-size="6.37" text-anchor="start" fill="#333" stroke="#333" stroke-width="0.06" textLength="20.82" lengthAdjust="spacingAndGlyphs" >(MHCII)</text>
<text x="368.90" y="339.50" font-size="8.13" text-anchor="start" fill="#333" stroke="#333" stroke-width="0.16" textLength="24.51" lengthAdjust="spacingAndGlyphs" >Shared</text>
<text x="406.90" y="361.50" font-size="6.37" text-anchor="end" fill="#333" stroke="#333" stroke-width="0.06" textLength="41.01" lengthAdjust="spacingAndGlyphs" >CD8 exhausted</text>
<text x="406.90" y="368.50" font-size="6.37" text-anchor="end" fill="#333" stroke="#333" stroke-width="0.06" textLength="20.82" lengthAdjust="spacingAndGlyphs" >(MHCII)</text>
<text x="459.20" y="360.10" font-size="6.37" text-anchor="start" fill="#333" stroke="#333" stroke-width="0.06" textLength="53.90" lengthAdjust="spacingAndGlyphs" >Activated CD8 (ISG)</text>
<text x="462.40" y="367.80" font-size="6.37" text-anchor="start" fill="#333" stroke="#333" stroke-width="0.06" textLength="35.04" lengthAdjust="spacingAndGlyphs" >CD8 memory</text>
<text x="462.40" y="374.50" font-size="6.37" text-anchor="start" fill="#333" stroke="#333" stroke-width="0.06" textLength="15.21" lengthAdjust="spacingAndGlyphs" >Naive</text>
<text x="448.90" y="395.00" font-size="6.37" text-anchor="start" fill="#333" stroke="#333" stroke-width="0.06" textLength="38.03" lengthAdjust="spacingAndGlyphs" >Activated CD8</text>
<text x="448.90" y="401.80" font-size="6.37" text-anchor="start" fill="#333" stroke="#333" stroke-width="0.06" textLength="20.82" lengthAdjust="spacingAndGlyphs" >(MHCII)</text>
<text x="295.70" y="429.50" font-size="8.24" text-anchor="start" fill="#333" stroke="#333" stroke-width="0.16" textLength="51.79" lengthAdjust="spacingAndGlyphs" >Post-transplant</text>
<text x="295.70" y="439.00" font-size="8.24" text-anchor="start" fill="#333" stroke="#333" stroke-width="0.16" textLength="25.25" lengthAdjust="spacingAndGlyphs" >relapse</text>
<text x="335.10" y="458.70" font-size="6.37" text-anchor="end" fill="#333" stroke="#333" stroke-width="0.06" textLength="41.01" lengthAdjust="spacingAndGlyphs" >CD8 exhausted</text>
<text x="335.10" y="465.60" font-size="6.37" text-anchor="end" fill="#333" stroke="#333" stroke-width="0.06" textLength="20.82" lengthAdjust="spacingAndGlyphs" >(MHCII)</text>
<text x="382.70" y="434.70" font-size="6.37" text-anchor="start" fill="#333" stroke="#333" stroke-width="0.06" textLength="53.90" lengthAdjust="spacingAndGlyphs" >Activated CD8 (ISG)</text>
<text x="392.10" y="452.60" font-size="6.37" text-anchor="start" fill="#333" stroke="#333" stroke-width="0.06" textLength="35.04" lengthAdjust="spacingAndGlyphs" >CD8 memory</text>
<text x="390.80" y="466.00" font-size="6.37" text-anchor="start" fill="#333" stroke="#333" stroke-width="0.06" textLength="15.21" lengthAdjust="spacingAndGlyphs" >Naive</text>
<text x="382.70" y="477.80" font-size="6.37" text-anchor="start" fill="#333" stroke="#333" stroke-width="0.06" textLength="38.03" lengthAdjust="spacingAndGlyphs" >Activated CD8</text>
<text x="382.70" y="484.60" font-size="6.37" text-anchor="start" fill="#333" stroke="#333" stroke-width="0.06" textLength="20.82" lengthAdjust="spacingAndGlyphs" >(MHCII)</text>
</svg></body></html>
